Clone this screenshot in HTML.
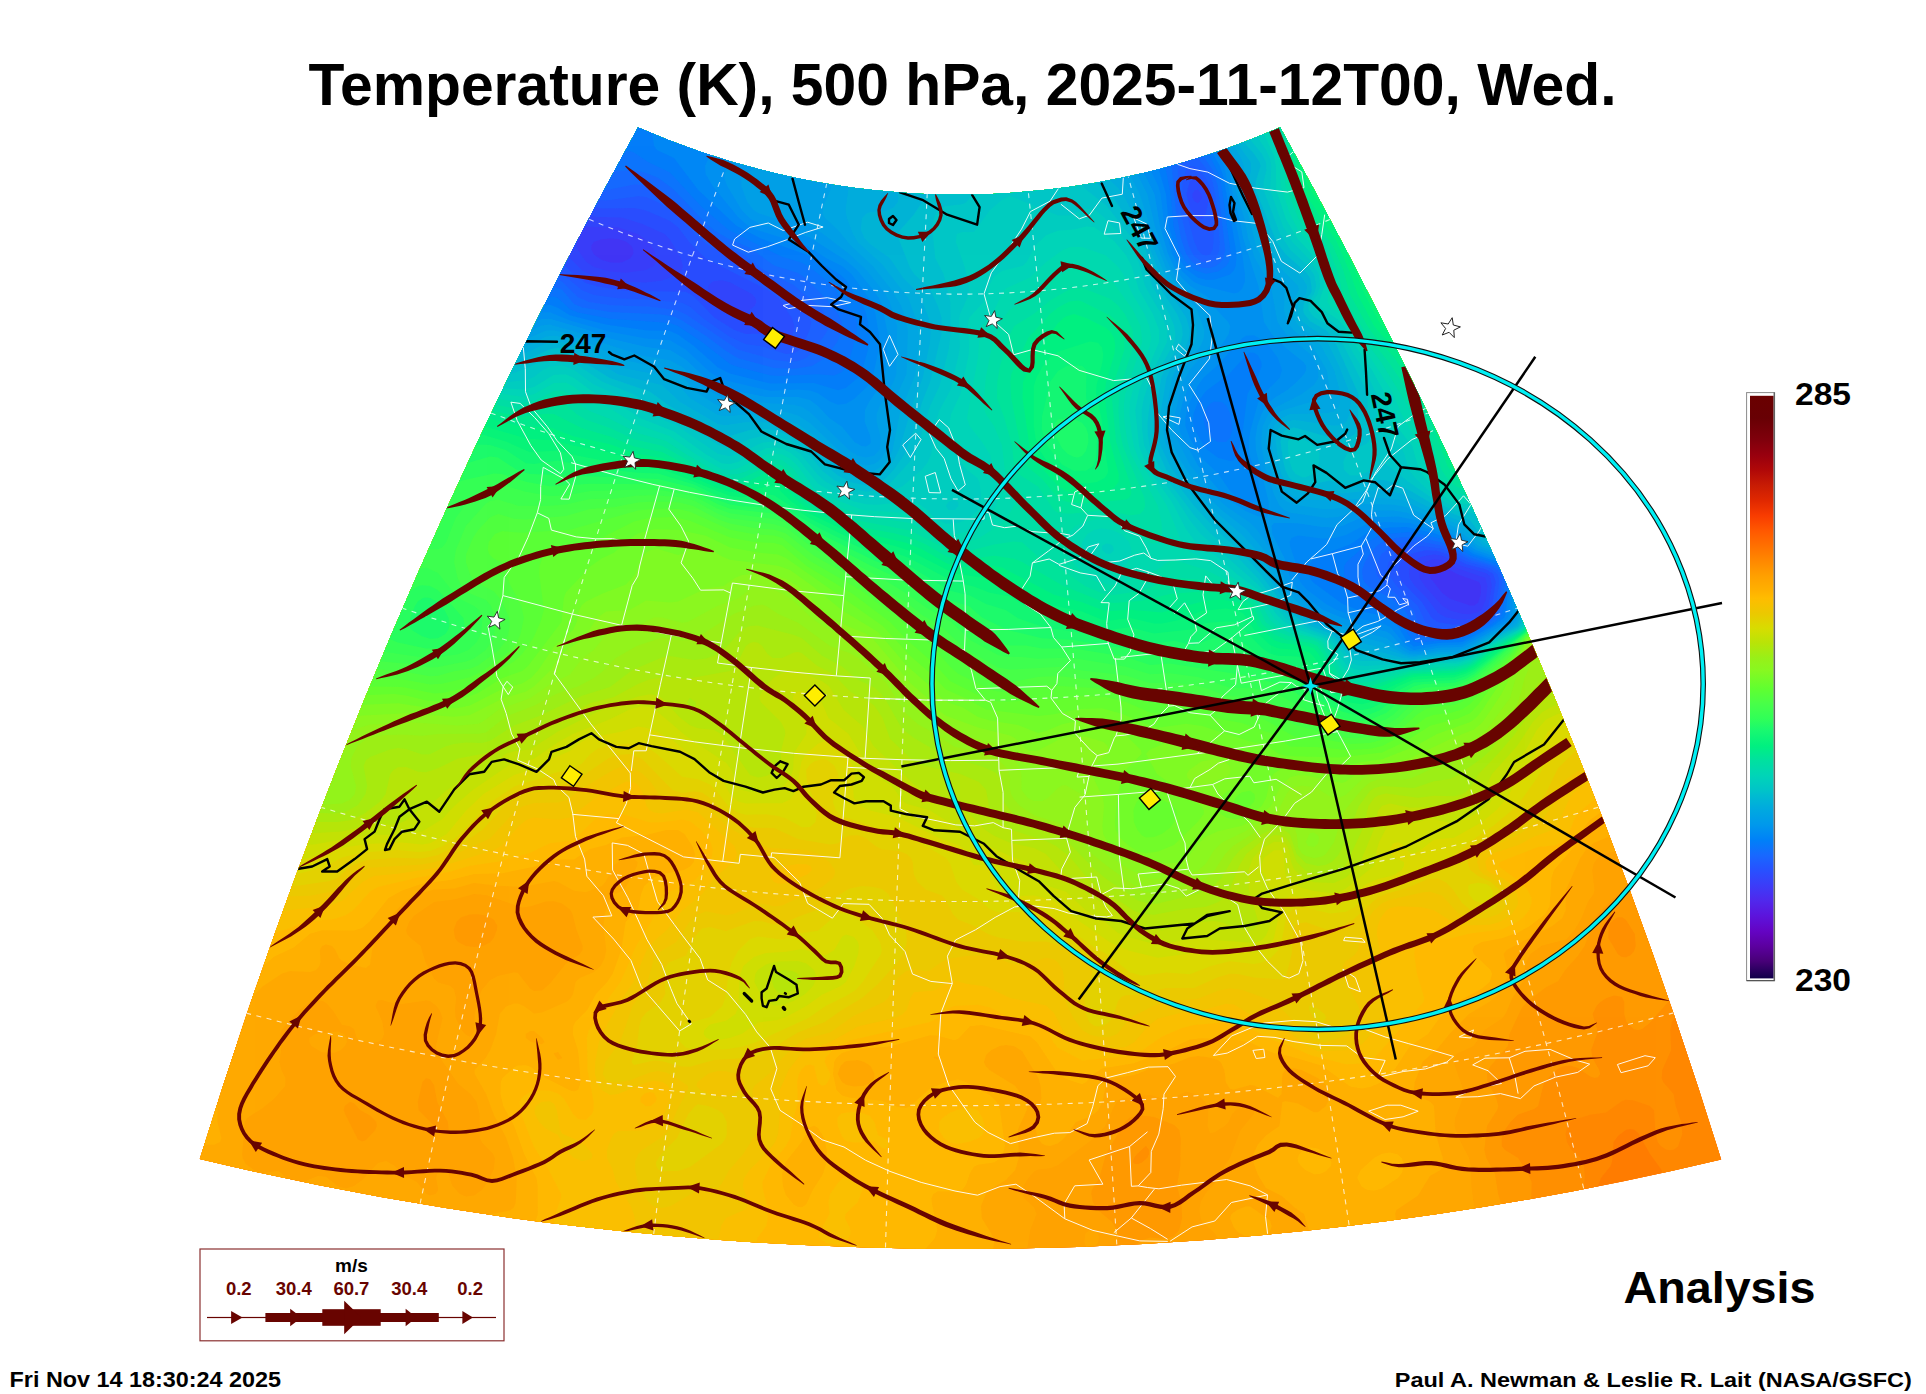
<!DOCTYPE html>
<html lang="en"><head><meta charset="utf-8"><title>Temperature (K), 500 hPa</title><style>html,body{margin:0;padding:0;background:#fff}body{width:1926px;height:1394px;overflow:hidden}</style></head><body>
<svg width="1926" height="1394" viewBox="0 0 1926 1394" style="display:block">
<defs>
<clipPath id="mapclip"><path d="M638.0,127.4 A799.6,799.6 0 0 0 1280.1,127.2 A5496.6,5496.6 0 0 1 1721.2,1159.4 A3271.0,3271.0 0 0 1 199.8,1159.1 A5496.6,5496.6 0 0 1 638.0,127.4Z"/></clipPath>
<linearGradient id="cbg" x1="0" y1="0" x2="0" y2="1"><stop offset="0.0003" stop-color="#6a0000"/><stop offset="0.0381" stop-color="#680004"/><stop offset="0.0759" stop-color="#80000c"/><stop offset="0.1016" stop-color="#98000e"/><stop offset="0.1274" stop-color="#b00808"/><stop offset="0.1540" stop-color="#c81c04"/><stop offset="0.1798" stop-color="#e02800"/><stop offset="0.2057" stop-color="#f83c00"/><stop offset="0.2316" stop-color="#ff5800"/><stop offset="0.2576" stop-color="#ff7000"/><stop offset="0.2833" stop-color="#ff8800"/><stop offset="0.3094" stop-color="#ffa000"/><stop offset="0.3334" stop-color="#ffb000"/><stop offset="0.3472" stop-color="#ffbc00"/><stop offset="0.3729" stop-color="#ecc800"/><stop offset="0.3987" stop-color="#d8dc00"/><stop offset="0.4245" stop-color="#b8e408"/><stop offset="0.4502" stop-color="#98f018"/><stop offset="0.4708" stop-color="#88f820"/><stop offset="0.5026" stop-color="#60ff30"/><stop offset="0.5285" stop-color="#48ff48"/><stop offset="0.5543" stop-color="#30ff58"/><stop offset="0.5750" stop-color="#18f870"/><stop offset="0.6010" stop-color="#00f080"/><stop offset="0.6267" stop-color="#00e0a0"/><stop offset="0.6526" stop-color="#00d4b8"/><stop offset="0.6769" stop-color="#00c4c8"/><stop offset="0.6854" stop-color="#00bcd0"/><stop offset="0.7112" stop-color="#00a8e0"/><stop offset="0.7370" stop-color="#0098ec"/><stop offset="0.7632" stop-color="#0080f8"/><stop offset="0.7890" stop-color="#1868ff"/><stop offset="0.8149" stop-color="#2850ff"/><stop offset="0.8408" stop-color="#3c3cf8"/><stop offset="0.8666" stop-color="#5028ec"/><stop offset="0.8925" stop-color="#5c14dc"/><stop offset="0.9184" stop-color="#6404c4"/><stop offset="0.9444" stop-color="#5c00a0"/><stop offset="0.9701" stop-color="#480078"/><stop offset="0.9962" stop-color="#180050"/><stop offset="1.0000" stop-color="#100048"/></linearGradient>
</defs>
<rect width="1926" height="1394" fill="#fff"/>
<g clip-path="url(#mapclip)">
<rect x="150" y="90" width="1640" height="1210" fill="#ff6a00"/>
<path fill="#ff7400" d="M154,90 1695.4,90 1702,100.4 1720.2,114 1733,130 1738.9,142 1741.9,162 1750,174.1 1756.5,190 1766.2,202 1782,215.9 1782,1290 150,1290 150,90Z"/>
<path fill="#ff7d00" d="M154,90 1678.5,90 1684.3,102 1690,108.8 1698,116.4 1718,130.9 1724.2,138 1727.7,146 1730.4,170 1738,190.6 1744.3,202 1750,208.5 1767.9,222 1782,236.1 1782,1061.3 1774.7,1070 1772.5,1078 1774,1084.7 1778.6,1094 1777.7,1110 1782,1117.2 1782,1155.1 1770,1160.5 1767.2,1166 1767,1170 1770.8,1182 1774,1185.4 1782,1189.8 1782,1290 150,1290 150,90Z"/>
<path fill="#ff8700" d="M154,90 1655.4,90 1664.2,102 1683.5,122 1694,139.1 1698,142.1 1710,146.1 1713.6,150 1723.1,190 1738,222.9 1750,239 1766.8,250 1782,271.1 1782,296.1 1779.1,306 1782,314.6 1782,1012.2 1778,1015.1 1772.8,1022 1767.6,1042 1754,1065.7 1750,1070 1734,1077.4 1723.6,1090 1721.2,1098 1724.2,1118 1719.4,1138 1719.7,1166 1718.4,1174 1703.5,1190 1696.2,1202 1691.4,1214 1690.7,1230 1686,1232.9 1674.6,1234 1672.1,1238 1673.9,1246 1682,1263.4 1686,1268.1 1690,1268.6 1702,1264.6 1710,1264 1726,1269.8 1730,1269.8 1736.1,1266 1746,1262.4 1754,1261.5 1762,1262.7 1768.1,1266 1771.8,1270 1776,1278 1778.9,1290 1737.7,1290 1734,1281.7 1730,1278.4 1726,1280.9 1722.9,1290 1651.2,1290 1648.9,1286 1643.4,1282 1634,1278.6 1630,1278.5 1626,1279.7 1622,1283 1619.3,1290 150,1290 150,90ZM1625.8,1130 1618,1135.9 1613.6,1142 1612.1,1162 1610.6,1166 1601,1178 1598.1,1186 1597.5,1194 1601,1206 1606,1209.9 1610,1210.1 1630,1205 1642,1185.6 1662.2,1174 1661.7,1170 1650,1154 1638,1132.8 1634,1129.8 1630,1128.9 1626,1129.9ZM1633.6,1214 1630,1215.4 1617.5,1226 1614,1230.3 1611.5,1238 1611.7,1242 1613.8,1246 1618,1247.7 1626,1247.2 1634,1243.8 1647.7,1234 1650.4,1230 1650.5,1226 1648.1,1222 1642,1216.5 1634,1213.8Z"/>
<path fill="#ff9000" d="M154,90 1633.8,90 1642,103.5 1662,117.8 1670,126.2 1674.1,134 1680,158 1684.8,166 1690,168.9 1702,170.6 1706,175.6 1709.7,190 1711.4,210 1721.7,242 1738,265.2 1757,278 1759.7,286 1757.7,302 1759.7,314 1766,323.4 1782,335 1782,939.9 1758,955.5 1738,977 1722,983.8 1710,1001.7 1706,1003.1 1698,1002.8 1690,1005.3 1678,1013.9 1671.9,1022 1670.3,1030 1671.2,1050 1662.3,1070 1661.7,1078 1663.1,1082 1673.6,1094 1675.7,1106 1681.2,1122 1682.3,1134 1678,1146.4 1674,1149.5 1670,1150.2 1666,1149.5 1660.7,1146 1657.7,1142 1655.4,1134 1654,1110 1650,1105.9 1634,1100.4 1626,1099.8 1622,1100.9 1606,1112.5 1590,1114.8 1574,1119.7 1570,1122 1567.3,1126 1565.6,1134 1566.9,1142 1571.5,1150 1580.3,1158 1584,1166 1584.7,1178 1583.5,1190 1575.5,1210 1576.7,1214 1587.9,1230 1590.3,1266 1599.7,1290 150,1290 150,90Z"/>
<path fill="#ff9a00" d="M154,90 1614.2,90 1618.7,102 1631.8,122 1638,127.4 1653.4,134 1657.3,138 1660.1,146 1662.8,162 1667.2,174 1672.3,182 1686.8,198 1693.2,218 1702.9,234 1708.1,250 1712.5,258 1722.4,270 1739.3,286 1742,293 1745.4,310 1754,329.4 1762,336.4 1782,347.5 1782,825.9 1774.6,834 1773.3,838 1774.6,842 1782,850.9 1782,863.8 1756.4,886 1751.5,894 1750.7,902 1752.2,906 1760.3,918 1763.7,926 1762.6,934 1759.5,938 1754,941.7 1746,942.8 1742,940.7 1730,925.2 1726,922.3 1722,921.9 1714,925.9 1705.5,934 1695.9,950 1695.8,966 1692.7,974 1650,1022.7 1642,1029.1 1638,1030.1 1634,1029.2 1626.5,1022 1624.3,1014 1624.3,1002 1622,996.9 1614,995.4 1606.6,998 1600.5,1002 1596.5,1006 1592.6,1014 1597.2,1030 1596.9,1034 1591.1,1050 1592.4,1058 1599.2,1070 1600.2,1074 1598,1077.2 1594,1077.8 1590,1076.3 1578,1067.9 1570,1065.4 1562,1066.4 1558,1068.6 1544.1,1082 1538,1106.2 1534,1109.1 1518,1114.5 1510.4,1122 1504.8,1130 1501.6,1138 1501.7,1146 1504.9,1150 1518,1158.1 1528.3,1174 1531.6,1182 1531.2,1198 1532.4,1202 1545.3,1218 1550,1240.7 1554,1250.4 1561.6,1262 1559.3,1270 1549.6,1282 1546.8,1290 150,1290 150,90ZM1616.4,918 1611,922 1608.7,926 1608.3,938 1618,954.3 1622,956.9 1626,957.3 1630,955.6 1634,951.2 1635.7,946 1634.8,934 1626,920 1622,917.2 1618,917.2ZM1145.8,1146 1137,1154 1134,1158 1132.9,1162 1134,1163.7 1138,1164.2 1142,1162.5 1147.2,1158 1149.1,1154 1149.2,1150 1146,1145.9Z"/>
<path fill="#ffa200" d="M154,90 1601.9,90 1604.4,106 1609.4,118 1648.6,174 1669.7,198 1675,206 1693.2,258 1702.1,278 1705.5,294 1707.7,298 1714,303.4 1726,307.6 1734,313.4 1746,339.2 1754,349 1774,357.2 1782,364.3 1782,774 1770,782.6 1762.8,790 1750,812.4 1733.7,822 1726,844 1708.7,858 1706.9,862 1707.3,866 1710,870 1721.4,878 1723.8,882 1722.9,886 1719.3,890 1706,896.9 1682,905 1678,904.3 1675.2,902 1671.3,894 1666,891.1 1657.7,894 1650,900.3 1630,893.8 1622,893.9 1614,897.9 1598,914.1 1593.6,922 1584.6,946 1578,955.7 1565.3,970 1558,981.3 1546,987.3 1526.9,1002 1522,1007.5 1509.5,1034 1507.9,1046 1490,1066.8 1487.1,1074 1487.5,1082 1496.2,1098 1498.2,1106 1497.2,1110 1487,1126 1484.4,1150 1486.3,1158 1495.1,1174 1498,1193.3 1506.5,1222 1506.5,1242 1510.9,1266 1506,1290 150,1290 150,90ZM460.5,918 456.6,922 453.7,930 455.1,938 458.1,942 466,946.1 474,947 482.6,946 490,942.5 493.7,938 496.8,930 497.3,926 494,919.7 486,915.5 478,914.2 470,914.5 462,917ZM422.5,1082 417.8,1102 418.7,1110 442,1133.8 446.5,1134 448.7,1130 447.8,1122 437.2,1102 434,1084.9 430,1079.2 426,1078.2ZM349.8,1102 344.7,1106 343.8,1110 345.2,1114 358,1139.6 362,1141.4 366,1140 375.3,1130 376.8,1126 376.3,1122 370,1115.4 360,1110 354,1103.3 350,1101.9ZM1129.3,1118 1125,1122 1106,1154 1099.4,1178 1091.8,1190 1091.3,1194 1092.9,1202 1097.8,1210 1112.2,1222 1116.9,1230 1118.2,1238 1114,1254 1114.9,1258 1118,1261.3 1122,1261.2 1126,1258.7 1134.4,1246 1142,1240.2 1150,1237.6 1166,1239 1174,1236 1179.2,1230 1182.1,1218 1181.2,1202 1176.9,1186 1180.3,1166 1180.6,1138 1179.3,1130 1174,1124.9 1154,1117.1 1142,1115.6 1130,1117.6Z"/>
<path fill="#ffa900" d="M154,90 1589.3,90 1590.1,114 1594,125.3 1612.7,154 1619.4,170 1638,184.5 1660.1,214 1667.2,238 1680.4,266 1689,294 1694.9,302 1702,308.6 1722,319.9 1726,323.4 1744.6,366 1750,374.8 1758,380 1774,385.3 1782,392.5 1782,712.8 1772.7,742 1767.2,750 1754.1,762 1749.9,778 1743.7,790 1738,795.3 1719.6,802 1706,816.4 1690.1,826 1684.9,834 1679.2,854 1674.3,862 1670,865.7 1658,870.1 1643.5,870 1640.7,866 1641.1,854 1639.6,850 1638,849.2 1626,849.6 1610,852.4 1602,854.9 1597.5,858 1594,863 1592.2,870 1594.4,890 1593.5,894 1587.8,902 1581.5,918 1574,930.7 1566,939.5 1542,945.5 1530.4,954 1525.9,962 1522.4,982 1512.3,998 1506,1012.9 1502.5,1018 1484.4,1030 1473.5,1046 1456,1054 1453.9,1058 1454,1063.7 1461.9,1086 1463.2,1094 1461.4,1102 1455,1118 1454.4,1126 1458,1136.7 1468.9,1158 1470.8,1166 1471.3,1186 1473.9,1206 1477.9,1214 1486,1222 1488.1,1226 1490.1,1234 1489.5,1246 1486,1255.6 1472.4,1266 1462,1280 1458,1280.7 1438,1275.8 1422,1276 1416.5,1278 1414,1281.4 1412.9,1290 1260,1290 1258,1287.6 1254,1286 1248.7,1290 1192.5,1290 1198,1283.6 1214,1277.1 1216.9,1270 1218.9,1250 1217.8,1238 1214,1232.3 1202.6,1222 1200.8,1218 1199.4,1210 1200.8,1202 1206,1193.1 1216.2,1182 1219.6,1174 1230,1158 1240.8,1130 1253.9,1114 1255,1110 1252.8,1106 1250,1105.1 1242,1106.8 1235.9,1110 1232.1,1114 1228.4,1122 1224.6,1126 1214,1132.5 1210,1132.9 1207.7,1126 1208.4,1110 1205.3,1102 1198,1094.8 1186,1091.5 1170,1099.5 1166,1099.4 1150,1094.8 1121.9,1098 1118,1100.4 1114.1,1106 1105,1126 1094,1138.1 1058,1164.9 1050,1168.2 1038,1169.5 1034,1171.4 1028.2,1178 1023.5,1186 1022,1194 1023.8,1198 1034,1207.6 1036.5,1214 1030.1,1230 1026.3,1254 1030.9,1262 1045.5,1278 1050.3,1290 269,1290 268.3,1286 266,1283.5 262,1282.4 258,1285.1 257,1290 150,1290 150,90ZM474,894 454,899.4 434,902.1 414,915.8 409.1,922 406.1,930 407,934 410,937.4 420.6,946 425.4,962 434,978.7 438,982.6 450,985.8 454,989.2 456.1,998 454.9,1010 455.7,1018 462,1030.7 466,1035.1 470,1036.7 474,1032 474.8,1014 478.4,998 482,989.8 490,980.3 498,976.1 514,972.3 518,972.9 530,988.5 534,990.9 542,990.5 550,983.4 566,963.4 580,954 582.4,950 582.7,946 576.5,930 572.5,914 570,909.6 562,903.4 554,901.2 546,901.5 530,906.5 522,907.5 486,895.1 474,894ZM310.1,1002 299.1,1010 281.4,1030 280.3,1034 281.1,1050 279.5,1062 281.3,1070 285.4,1078 285.2,1086 274,1098.7 262,1108.4 247,1118 244.8,1122 242.2,1154 242.6,1158 246,1164.2 254,1170.1 262,1173 278,1171.1 282,1173.6 286,1178.7 294,1182.5 302,1182.2 318,1176.1 326,1176.7 338,1186.5 346,1188.6 354,1185.9 362,1180.2 378,1163.1 386,1160.9 394,1165.5 406,1176.4 416.9,1182 426,1193.7 430,1195.6 435.7,1194 438.3,1190 436.2,1178 437.2,1174 442,1171.9 446,1172.1 448.5,1174 452.4,1186 459.8,1194 466,1196.4 474,1195.6 482,1190.1 487.6,1182 494,1168.7 494.9,1158 493.3,1154 482,1142.5 479.8,1138 479.7,1114 476.7,1102 470.6,1094 458,1083.5 437.4,1054 435.9,1046 442.7,1018 439.6,1010 436.4,1006 430,1001.1 426,1000.6 402,1004 394,1003.6 382,1000 378,1000.6 375.4,1006 382.4,1022 384.1,1034 382,1039.2 378,1041.9 370,1042.6 362,1040.9 356.8,1038 354,1029.1 350,1026.2 342,1024.8 332.6,1010 326,1002.8 322,1000.8 314,1000.5ZM318,1033.6 338,1031.5 343.8,1034 346.5,1038 346.8,1042 344.9,1046 341,1050 334,1052.8 322,1052.2 311.5,1046 309.3,1042 309.4,1038 315.5,1034ZM1086,1233 1090,1230.4 1094,1230.7 1098,1233.7 1099,1238 1098,1242.6 1094,1248.1 1090,1249.8 1086,1246.8 1084.4,1242 1085.3,1234Z"/>
<path fill="#ffb000" d="M154,90 1568.1,90 1578.2,122 1600.7,158 1606,185.4 1624.5,222 1642,242.9 1666,265.6 1670.7,274 1677,294 1681.9,302 1704.8,322 1711.7,330 1717.3,342 1725,354 1734,379.6 1738.6,386 1757,402 1763.2,418 1775.2,438 1776.8,470 1782,486.1 1782,692.3 1763.9,710 1755.6,734 1740.3,750 1734.9,770 1730,778.2 1724.5,782 1690,797.9 1670,802.3 1654,809.8 1646,810.4 1630,807.2 1622.7,810 1620.2,814 1618.4,830 1615.5,834 1594,842.8 1586,849.7 1580.3,858 1565.8,890 1565.7,910 1562.3,918 1552.2,926 1506.6,950 1503.6,954 1507.5,970 1506.8,978 1498,994.2 1490,1001.5 1468.9,1014 1450,1033.2 1438,1048.1 1422.4,1062 1414.8,1082 1413.7,1090 1415.2,1094 1418,1096.4 1430,1101.6 1434,1106 1435.6,1134 1442.7,1158 1442.9,1166 1440.6,1170 1430,1175.7 1418,1195.5 1396.3,1210 1395.1,1214 1396.9,1226 1394.8,1230 1390,1230.4 1378,1227.4 1362,1231.5 1354,1235.5 1340.5,1250 1336.5,1258 1345,1278 1342.6,1290 1292.2,1290 1291.7,1282 1294.9,1274 1314.2,1262 1318,1258.2 1319.5,1254 1318.6,1250 1310.1,1234 1304.1,1214 1294,1207.1 1282,1196.1 1266,1188.1 1258,1174.9 1253.3,1162 1253.4,1154 1258,1144.6 1266,1135.4 1279.5,1126 1282.4,1102 1286,1101.3 1298,1103.6 1314,1112.3 1318,1112.3 1326,1106 1329.7,1098 1329,1090 1326,1085 1318,1078.1 1301.8,1070 1294,1068.2 1286,1069.1 1282.3,1074 1281.5,1094 1278,1097.7 1254,1085.2 1250,1085.1 1234,1089.6 1230,1088.7 1226,1082.5 1224.4,1070 1220.7,1062 1218,1059.9 1210,1057.5 1198,1056 1190,1056.9 1174,1063.6 1150,1068.7 1134,1074.9 1110,1078.7 1106,1084 1102.3,1102 1098,1110.7 1090,1116.6 1076,1122 1064.2,1138 1058,1143.2 1050,1146 1046,1145.6 1042,1143.4 1038,1138.3 1035.8,1130 1036.4,1118 1041.4,1098 1040.7,1086 1038.5,1078 1022,1050.9 1014,1046.1 1006,1045 999.7,1046 991.5,1050 986,1055 983.9,1062 985.5,1066 989.3,1070 1015.3,1086 1023.6,1098 1026.7,1106 1026.7,1110 1018,1129.3 1018.7,1158 1015.2,1170 1006,1179.8 990,1189.7 986,1193.6 980.9,1206 981.7,1218 991.5,1234 994,1242 992.5,1254 985.9,1278 984.6,1290 306.3,1290 307.2,1274 334,1241.1 340.7,1222 345.7,1218 362,1212.6 378,1202.6 382,1201.4 390,1202 422,1218.6 430,1221 450,1216.6 474,1220.7 490,1214.6 510,1210.6 514,1207.6 515.8,1202 516.8,1178 513.2,1158 506,1137.2 494,1115.3 486.2,1094 474.8,1074 474.6,1070 486,1057.4 490.3,1050 496.2,1034 499.8,1014 506,1006.6 514,1003.4 518,1003.5 523.9,1006 534,1013.6 542,1012.5 566,1002 570,999.1 573.1,994 575.5,982 579.8,978 594,971.9 600.6,966 604.6,958 606.3,950 603.4,926 604.8,914 610.4,898 614,894.4 622,890.9 626,886.9 637.1,866 637.6,862 634,858.9 630,858 622,859.6 614,865.2 605.4,882 602,886 586,892.2 574,890.8 558,882 554,881 522,886.8 498,885.8 474,883.1 454,888.5 434,889.4 422,893.1 404.2,902 394,912.7 375.3,942 372.1,950 370,964.6 366,967.9 350,964.2 342,960.7 339.1,958 335.5,950 332.1,946 326,944.6 322,946 319.9,950 320.5,962 319.4,966 315.9,970 310,971.9 290,971.1 282,973.6 263.2,986 254.8,994 249.5,1002 245.1,1018 233.4,1038 233.9,1050 222,1061.6 218,1068.7 215.5,1078 214.5,1090 217.5,1106 217.4,1122 221.5,1138 220.1,1142 214,1144.8 198,1144.5 170,1147.5 162,1151 150,1161.4 150,90ZM525.7,1034 525.9,1038 531,1042 542,1044.3 544.6,1042 542,1037.7 534,1031.1 530,1030.9 526,1033.7ZM553.9,1054 558,1060.1 562.3,1058 558,1051.9 554,1052.9ZM933.7,1058 938,1059.7 938.8,1058 934,1056.3ZM844.3,1062 840.5,1066 837.6,1074 842,1082.1 846,1084.7 854,1086.4 863,1086 870,1083.6 874,1078.9 874.6,1074 870.6,1066 864.5,1062 858,1060.1 846,1060.9ZM948.3,1270 945.2,1274 945,1282 950,1289.9 954,1288 958,1277.5 957.2,1274 954,1270.2 950,1269.2ZM174,1173.8 182,1174.3 189.5,1178 192.3,1182 192.5,1186 186.5,1194 178,1200.4 170,1203.6 166,1202.3 162,1197.7 158.9,1190 158.2,1182 162,1177.2 172.8,1174ZM1238,1209.5 1246,1206.5 1250,1206.5 1270,1220.2 1271.6,1226 1270.4,1230 1266,1235.6 1262,1238.4 1258,1239 1246,1236.4 1238,1232 1234,1227.6 1230.1,1218 1231.6,1214 1237.1,1210ZM154,1223.6 170,1224.5 178,1226.3 203.2,1238 208.1,1242 208.8,1246 206.8,1250 202.4,1254 198,1255.5 194,1254.8 182,1248.2 174,1246.7 166,1248 150,1254.3 150,1222.7ZM1022,1281 1026,1281.2 1030,1283.9 1033.5,1290 1014.4,1290 1015.9,1286 1019.7,1282ZM198,1284.4 202,1283.5 206,1286 208.2,1290 194.1,1290 196.5,1286Z"/>
<path fill="#ffb900" d="M154,90 1547.3,90 1551.4,102 1566,132.6 1578,146.7 1589.9,166 1599.9,210 1604.7,222 1634.2,254 1658,276.3 1662.3,282 1670.5,302 1693.5,326 1696.9,334 1698.7,346 1702,354.9 1717.8,374 1726.5,394 1742,406.1 1751.9,426 1763.6,442 1765.5,450 1765.7,470 1774.1,494 1776.4,506 1770.4,554 1771.8,562 1778.8,578 1779.3,590 1777.1,610 1777,626 1769.5,650 1767.7,674 1761,686 1750,694.5 1743.6,702 1738.3,718 1725.8,738 1722,756.2 1718,763.9 1710,770.1 1668.4,786 1650,795.9 1642,796.3 1626,794.2 1618,796.3 1610.4,802 1602,811.2 1590,819.9 1585,826 1580,838 1574.9,846 1553.9,870 1551.5,878 1549.6,906 1545.2,914 1529.8,926 1518,932.5 1502,938.3 1481.8,942 1474.3,946 1472.5,950 1473.7,954 1490.6,970 1492.1,974 1489.7,982 1482,988.5 1462,999.4 1439.5,1018 1428,1034 1410,1046.1 1390,1076.4 1382.2,1082 1370,1087.1 1362,1088.5 1350,1086.6 1322,1065.7 1290,1056.3 1274,1053.3 1250,1042.6 1238,1040.3 1202,1038.2 1190,1039.5 1168.1,1050 1134,1063.2 1102,1068.4 1093.5,1074 1086,1082.3 1082,1084.3 1066,1079.1 1058,1073.8 1036.7,1042 1030,1036.3 982,1025 970,1026.3 958,1039 954,1040.2 938,1035.8 930,1035.3 890,1046.5 854,1049.2 842,1052.9 836.2,1058 834.2,1062 833.1,1074 836.5,1090 842,1095.6 850,1097.7 882,1100.8 898,1107.1 906,1108 910.4,1106 930,1088.4 945.5,1082 958,1079.6 966,1081.9 990,1095.2 996.8,1102 1000,1110 1005,1146 1002,1157.2 994,1162.5 978,1164.7 974,1166.7 970,1172.9 966,1185 962,1189.9 954,1191.7 938,1191.3 933.4,1194 931.6,1198 931.7,1202 937.3,1230 935,1238 924.5,1250 918,1260.9 914,1261.5 906,1256.4 902,1256.9 894,1263.6 888.2,1274 885.8,1290 842.1,1290 838,1286.3 834,1286.6 831.4,1290 784.9,1290 784.4,1278 782,1274.4 778,1273.7 772.6,1278 770,1283.3 769.1,1290 428.4,1290 431.5,1278 432.9,1262 434.6,1258 438,1255.1 442,1254.3 458,1256.5 470,1253.2 490,1250.5 530,1227.4 535.4,1222 537.8,1214 537.7,1186 536.5,1178 524.3,1154 514.2,1126 503.3,1106 500.5,1094 500.8,1082 502.5,1078 514,1067.5 518,1065.6 526,1065.2 530,1066.6 545.7,1078 570,1090.4 574,1091.5 578.2,1090 580.6,1082 579,1058 577.9,1050 572.9,1034 573.4,1026 575.4,1022 587.2,1010 596,994 607.2,982 612.6,974 621.3,950 625.6,922 638,908.9 641.1,894 644.2,886 654,877.6 666,873.5 683.9,870 690,866.5 693.8,862 695,854 692.3,846 684.5,834 678,830.1 666,830 646,835.1 622,837.6 606,845.1 590,849.1 574,859.6 554,859.2 534,866.8 502,873.3 474,873.9 450,880.1 422,883.8 402,890.4 388.6,898 370,921 362,928.1 354,930.6 322,930.2 310,933.7 294,947.3 274,956.8 250,977 234,984.6 230,988.3 221.2,1006 215.3,1022 205.3,1038 196.4,1070 190.6,1082 178,1097.4 158,1105.8 150,1112.7 150,90ZM813,1126 810,1127.3 801.5,1142 785.7,1162 782.1,1174 782.9,1186 786,1195.2 794,1204.7 798,1206.9 802,1207.2 806,1204.6 812.8,1190 823,1174 826.6,1162 826.8,1150 824.1,1138 818,1128 814,1125.6ZM1306,1148.6 1310,1147.4 1318,1148.4 1326.8,1154 1331.4,1162 1330.9,1166 1326,1171.3 1319.8,1174 1314,1174.2 1306,1170.5 1301,1166 1298.3,1162 1297.6,1158 1299.4,1154 1303.6,1150ZM1382,1153.8 1390,1152.4 1398,1154.5 1402,1158.6 1404,1166 1402,1172.8 1398,1178 1382,1188.5 1374,1190.8 1366,1189.5 1361.1,1186 1357.1,1178 1360.8,1170 1374,1158.1 1381.6,1154Z"/>
<path fill="#fabf00" d="M154,90 1531.9,90 1546.3,118 1553.7,150 1558,155.6 1570.1,166 1582,188 1585.5,198 1589,218 1594,229.3 1602,239.4 1630,266.3 1642,283.5 1654,293.7 1666,312.7 1682,327.9 1685.2,334 1691.1,358 1698,370 1708.3,382 1715.8,402 1719.3,406 1734,416.4 1742,434.3 1752.5,450 1754.4,458 1755.3,474 1764.1,494 1766.7,506 1759.3,558 1760.7,574 1759.5,590 1763.4,606 1764,618 1759.8,630 1746.4,650 1740,670 1725.2,690 1723.8,698 1725.2,710 1722,720.6 1706,737.1 1682,747.8 1678,753.8 1675.5,762 1667.8,770 1646,781.2 1618,783.4 1606,789.1 1578,813.4 1574,819.7 1568.7,834 1562,842.6 1554,845.6 1538,847 1499.9,862 1498.6,866 1520.1,882 1527.7,890 1531.5,898 1531.7,902 1529.3,910 1522.8,918 1518,921.6 1502,929.4 1470,933.6 1450,938.5 1438,938.9 1426,944.8 1418,943.3 1415.1,946 1414.3,954 1417,974 1424.3,998 1423.6,1002 1374,1058.7 1362,1063.6 1346,1064.2 1310,1055.1 1290,1046 1274,1040.5 1254,1030.6 1230,1023.1 1222,1022.4 1194,1024.9 1182,1028.1 1162,1036.4 1142.8,1050 1130,1055.7 1082,1060.6 1058,1047.7 1053.1,1042 1046.1,1026 1042,1021.3 1034,1019.2 1022,1020.6 1014,1019.8 990,1007.5 978,1004.8 954,1005.9 946.5,1010 938.5,1018 929.6,1022 850,1040.6 832.5,1050 825.4,1058 824.6,1062 830.3,1074 829.9,1078 826,1084.7 822,1085.8 818,1082.8 814,1065.8 810,1064.4 806,1065.5 802,1068.8 798.8,1074 797.1,1082 798,1102 793.5,1118 790.2,1138 785.9,1146 770.1,1166 762.4,1182 763,1190 767.2,1206 767.9,1218 766.2,1226 757.3,1238 754.7,1254 751,1266 753,1290 522.7,1290 526.5,1274 536.1,1254 542,1246 550,1239.7 552.9,1234 555.4,1214 561.1,1198 561.1,1194 548.8,1170 534,1147 521.1,1114 519.6,1102 522,1097.5 530,1092 538,1090.3 550,1090.7 558,1093.6 563.6,1098 573,1114 578,1119 586,1119.9 592,1114 593.5,1110 593.7,1102 587.5,1070 586.9,1038 588.9,1030 600.2,1014 608.7,998 620.4,982 636.1,946 651.1,922 661.8,898 670,891.4 686,885.8 694,880.9 704.5,870 711.6,858 712.8,850 710.5,842 700.8,830 690,821.3 682,819.6 662,822.3 650,822.4 622,814.1 606,814.6 594,820.3 578,835.7 570,840.9 550,843.2 530,853.1 498,861.8 470,865.7 450,871.8 415.8,878 378,887.1 370,891.6 354,909.5 346,915 334,918.9 304.5,922 286,929.4 270,933.6 264.3,938 254,951.4 246,957.1 238,958.1 226,954.6 218,956.5 213,962 206.3,978 190,987.8 184.9,994 181.1,1002 178.8,1010 178.8,1018 185.6,1034 185.9,1042 175.5,1062 170.4,1078 164.9,1082 150,1084.5 150,90ZM643.8,1094 640.5,1098 640.6,1102 646,1106.2 650.7,1106 655.6,1102 656.6,1098 654,1093.1 650,1092 646,1092.9ZM958,1109.7 966,1108 974,1108.6 978,1110.7 982.5,1118 984.5,1126 983.1,1134 978.7,1138 970,1141.5 958,1143.9 950,1142.4 943.8,1138 939,1130 939.2,1122 942.3,1118 950,1112.7 957,1110ZM842,1113.3 858,1111.2 870,1115.9 874.5,1122 878,1135.2 886,1139.1 888.3,1142 888.1,1146 886,1148.4 882,1147.9 874,1141.4 854,1142.5 846,1141 842,1136.3 837.8,1126 837.4,1118 840.6,1114ZM846,1176.2 854,1176.4 858,1178.5 861,1182 862.5,1190 857.7,1202 845.6,1214 844.9,1218 850,1228.2 850.6,1234 846,1242.5 838,1245 826,1243 819.3,1238 818.9,1234 829.4,1214 828.6,1202 830.1,1194 838,1182.7 843,1178Z"/>
<path fill="#f2c400" d="M154,90 1512.8,90 1518,102.6 1533.4,122 1536.2,130 1540.6,154 1543.5,162 1562.1,194 1573.9,210 1585.6,238 1594.6,250 1620.4,274 1632.1,294 1649.9,310 1662,326.1 1674,339 1690,374 1699.1,390 1705.5,406 1726,429 1740.3,458 1744.8,482 1753.6,502 1755.3,514 1753.9,534 1742.4,590 1743,598 1748,614 1747.6,622 1743.7,630 1726,654 1711.7,682 1693.5,702 1691.9,706 1692.5,718 1690.3,722 1685.3,726 1670,733.2 1664.2,738 1658.9,746 1654.2,758 1646,766.3 1634,770.2 1618,768.8 1610,770 1576.5,790 1570,797.5 1558,823.8 1552.1,830 1534,836.8 1518,845.2 1494,853.1 1487.4,858 1485.3,862 1487,870 1490,872.8 1502,877.8 1508.2,882 1512.2,886 1517,894 1518.1,902 1517.3,906 1511.8,914 1506,918.4 1498,922.6 1490,924.7 1462,925.4 1454,923.1 1434,910.3 1422,907.2 1398,906.2 1390,908.2 1386,910.7 1380.7,918 1377.7,926 1376.8,934 1381.2,958 1379.6,966 1373,978 1372.7,982 1382,998 1381,1014 1379,1022 1375,1030 1362,1044.3 1350,1050 1318,1051.2 1307.2,1046 1290,1032.9 1274,1023.2 1250,1014.6 1234,1004.6 1226,1003.7 1206,1009.5 1178,1013.4 1158,1018.8 1148,1026 1134.8,1042 1126,1047 1114,1048.5 1094,1047.3 1082,1043.9 1066,1034.3 1062,1029.1 1054,1013 1046,1005.6 1010,998 986,986.5 966,983.7 954,980.3 950,980.9 934,990.6 914,992.3 910.4,998 906.8,1010 902,1014.7 894,1018.3 858,1026.6 830,1042.2 807.9,1050 798,1058 788.7,1070 779.8,1090 779.8,1114 778.1,1134 775.4,1142 769.3,1150 749.7,1170 744.2,1178 742.7,1186 748.2,1202 747.7,1206 744,1210 726,1218 721.1,1226 719,1238 714,1243 706,1243.4 694,1237.4 690,1236.9 682,1240.5 672.2,1250 666.1,1270 662.6,1274 643.9,1282 639,1286 636.5,1290 580.2,1290 577.7,1274 578.1,1254 575.8,1234 578,1229.2 582,1226.6 586,1226.1 594,1228.7 610,1238.3 618,1239.9 626,1237.6 633.6,1230 635.5,1222 633.7,1214 630,1204.7 615.9,1182 612.8,1170 607,1158 606.9,1150 611.3,1138 614,1133.7 618,1131 642,1130.4 650,1127.9 658,1123.1 662.1,1118 669.3,1102 671,1094 670.4,1090 668.1,1086 662.7,1082 654,1080.7 646,1082.7 618,1094.1 610,1094.9 602,1090.2 598,1084.5 594.9,1074 595.2,1062 598.9,1042 601.9,1034 619.8,1002 633.4,982 646.6,950 654,941.3 666.7,930 682,910.7 702,894 714,878.3 733.2,862 735.9,858 736.9,854 734.3,846 698,812.3 686,809.5 662,813.5 654,812.4 649.2,810 646.4,806 643.3,794 638.7,786 634,782.4 626,781.5 594,798.9 570,817.5 558,819.7 534,817.5 526,820.3 518.9,826 502,845.5 494,850.1 438,867.5 398,873.8 374,875.9 362.5,882 342,900.7 330,906.1 294,909.5 262,915.7 254,920.4 238,933.2 222,937.1 214,940.9 190,962.1 174,967.1 168.8,970 162.5,978 156.7,994 150,1004.3 150,90ZM785.3,866 774,870.7 770.8,874 770.8,878 774,881.9 778,883.5 786,883.5 808,874 811.9,870 810.6,866 806,864.2 798,863.9 786,865.8ZM542,1101.7 550,1101.3 554,1103.7 556.8,1110 560.3,1130 562,1133.4 578,1140.7 585.9,1146 592.3,1154 592.1,1158 590,1159.6 582,1160.9 574,1158 565.7,1150 558,1134.9 546,1128.7 539.1,1122 534.8,1114 534.4,1110 535.8,1106 541.1,1102Z"/>
<path fill="#ebc900" d="M154,90 1503.3,90 1507.8,110 1525.4,142 1537.5,178 1551.7,202 1563.4,218 1570.4,242 1583.3,258 1600.1,270 1608.6,278 1625.1,302 1643.9,318 1658,337.8 1670,351.8 1678.4,366 1696.7,410 1714,430.2 1723.8,446 1732.7,470 1734,492 1742.6,518 1742.8,534 1733.3,586 1732.1,622 1728.3,630 1711.1,650 1698.6,678 1670.8,706 1638,752.3 1630,754 1614,749.9 1606,751.3 1600.2,754 1586,765.9 1566,779.3 1562,785.2 1552.5,806 1543.5,818 1518,835.1 1490,847 1480.4,854 1476.9,862 1479.6,870 1483.4,874 1502,884.4 1508.4,894 1508.5,902 1506.8,906 1498.9,914 1486,918.6 1466,917.2 1458,912.9 1442,895.6 1430,891.7 1422,892.4 1390,899.7 1382,903.3 1374.5,910 1365.3,922 1361.2,930 1358,950.2 1354,955.6 1345,962 1342.7,966 1343.4,974 1346,982 1358.2,1006 1361.9,1018 1360.3,1026 1354,1032.8 1326.9,1042 1318,1042 1310,1036.9 1282,1009.5 1270,1000 1242.4,990 1230,988.3 1218,990.8 1198,998.7 1170,1001.1 1154,1005.6 1130,1018 1117.1,1034 1110,1036.7 1098,1036.8 1090,1034.7 1082.3,1030 1073.2,1018 1063.8,998 1064,978 1062.5,970 1058,962.5 1054,959.5 1046,957.7 1026,964 1018,964.5 1010,963.2 997.2,958 986,955.6 966,956.1 950,958.6 941.4,962 930,970.4 926,971.2 914,969.2 906,971.2 897.5,978 888.2,998 883.9,1002 854,1015.7 830,1032.5 806,1038.8 795.1,1046 782.4,1058 770,1073.1 754.4,1086 752.5,1090 752.7,1098 759.8,1118 758.2,1130 743.3,1154 729.2,1170 722,1183.3 718,1188.1 714,1190.4 710,1190.6 702,1187.4 670.7,1206 662,1208 652.9,1206 645.1,1198 637.6,1182 635.2,1170 635.1,1162 638,1154.2 642.2,1150 662,1137.1 669.1,1130 677.1,1110 687.8,1090 688,1086 674,1076 666,1072.5 658,1071.1 650,1072.4 630,1080.3 618,1082.4 610,1082.1 606,1079.9 602.7,1074 605.3,1062 620.1,1042 632.5,1006 646.5,986 654,958 658,953 676.3,942 690,921.2 698,914.4 706,911.2 726,915.2 734,913.8 758,903.7 762,903.4 774,906.3 782,905.4 822,887 833,878 834.9,874 834.9,870 829.3,862 818,853.5 806,850.1 770,848 762,846 730,828.3 702,803.5 694,801 670,801.5 662,798.9 650.7,782 642,773.3 630,766.4 622,766.3 614,769.5 586.3,786 566,800.1 558,802.4 534,803.1 522,806.7 512.5,814 490,838.6 446.7,858 434,862.3 422,864.5 370,867.8 358,873.5 342,887.5 334,891.3 310,895.8 282,896.5 266,900.8 250,907.6 230,921.1 190.8,934 182,942.2 166,951 150,963.5 150,90ZM707.8,1074 697.6,1082 696.4,1086 700.5,1090 710,1094.8 718,1096.5 726,1096.5 734,1094.4 743.9,1086 744.4,1082 742.2,1078 737,1074 726,1071.2 718,1071.1 710,1073Z"/>
<path fill="#e3d100" d="M154,90 1494.9,90 1497.8,114 1502,131.4 1508.6,146 1521.6,166 1532,194 1537.7,214 1550,226.5 1559,246 1574,264.8 1593.4,282 1614.9,306 1634,320.4 1642,329 1654,347.1 1670,367.1 1674,375.1 1678.8,394 1684.1,406 1691.6,418 1708.5,438 1717.3,454 1724,474 1724.9,494 1730.7,514 1732.3,530 1728.8,566 1721.6,606 1717.3,622 1712.1,630 1690.1,654 1686.8,662 1684.9,674 1680.9,682 1651.9,710 1638,729.8 1630,734.5 1614,736.7 1586,743.4 1580.2,746 1558,768.3 1545.4,794 1531.7,810 1511.7,826 1478,846 1470.2,854 1467.5,862 1470.2,870 1478,876.1 1490.9,882 1499.5,890 1501.1,898 1498,904.8 1494,908.4 1482,911.9 1470,909.5 1462,903.1 1453.3,890 1446,882.5 1438,878.6 1426,879.8 1406,888.6 1386,893.7 1378,897.2 1354,919 1338,929 1326,929.5 1306,922.2 1298,923.5 1295,926 1293.5,930 1291.7,954 1286,976.4 1282,979.5 1254,977.5 1238,973.9 1230,973.8 1218,977.2 1194,988 1166,987.9 1142,994.4 1126,995.2 1122,996.5 1118,1001 1113.9,1014 1109.6,1022 1103.4,1026 1098,1026.6 1094,1025.7 1089.1,1022 1084.6,1010 1084.6,994 1092,974 1091.9,970 1089.4,966 1066,948.8 1058,944.8 1046,941.4 1022,941.4 998,937.4 988.1,934 974,926.1 958,919.6 952.8,914 946,900.2 942,895.4 926,889.7 917.5,882 913.7,874 912.7,862 910.9,858 906.6,854 898,850.7 882,849.4 875.4,846 865.6,838 858,835.2 850,835.4 843.9,838 838,843.3 830,844.5 798,838.9 774,828.1 754,827.7 742,824.7 729.4,818 710,797.9 702,792.4 694,791.4 682,793 672.5,790 642,758.8 630,754.1 618,755.1 608.8,758 582,776.5 554,788.9 526,793.5 518,796.6 504.3,806 482,830.2 464.2,842 438,854.9 422,858.5 394,857.8 366,860.3 351.3,866 338,877.6 330,881 298,885.7 274,885.4 254,892.2 230,895.2 214,903.5 198,906.5 174,914.8 150,914.9 150,90ZM850,888.4 862,886.1 874,886.9 882,888.9 888.4,894 906.1,930 906.8,942 903.3,954 897.8,962 878,983.9 862.1,998 841.8,1010 824.9,1022 798,1032.5 762,1054.2 750,1057.7 714,1059.9 690,1066.7 682,1066.5 662,1061.3 654,1060.6 634,1065.1 631.6,1062 637.1,1046 639.3,1026 641.8,1018 646,1012.7 660.7,1002 665.3,994 664.5,974 665.8,966 670,962.1 686,955.4 694,937.6 702,928.6 710,927.1 726,930.9 754,921 762,921.3 774,924.5 782,924.3 798,916.7 818,909.5 846.6,890ZM1310,1005.5 1318,1008.9 1324.5,1014 1326.4,1018 1322.6,1022 1318,1021.4 1313.7,1018 1309.1,1010 1309.1,1006ZM698,1104.3 708,1106 717.9,1110 723.1,1114 726.7,1122 726.8,1134 725.8,1138 722,1143.6 690,1167.1 678,1170.9 662,1171.1 658,1169.2 656.2,1166 656.1,1162 661,1154 677.1,1138 688.3,1114 695.1,1106Z"/>
<path fill="#dbd900" d="M154,90 1485.7,90 1488,122 1491.5,138 1498,154.9 1514,179.1 1526.5,218 1540.6,234 1554,256 1590.8,302 1604.3,314 1630,329.8 1637.2,338 1664.1,378 1671.1,402 1701.8,446 1710,461.6 1715.6,478 1716.9,494 1721.5,514 1722.5,526 1719.7,566 1709.9,606 1700.6,622 1675.5,650 1672.2,658 1671.2,678 1662,689.9 1645.9,702 1630,717 1614,722 1599.3,730 1574,733.7 1562,740.3 1552.7,750 1538,776.5 1517.1,806 1493.1,826 1469.5,842 1450,858.8 1434,863.4 1402.4,882 1374,890.3 1366,895.9 1354,907.6 1346,911.8 1330,913.4 1306,907.8 1298,907.5 1294,908.8 1290,911.9 1286,918.3 1281.4,942 1278.4,950 1270.7,958 1262,962.4 1254,963.9 1230,961.3 1210.8,966 1190,974.2 1166,972.6 1142,975.7 1130,972.6 1110,956.3 1092.4,946 1074,932.8 1042,916.4 1034,914 1018,912.1 998,912.3 990,909.3 978,899 962,889.5 956.3,882 950,863.4 946,858 925.8,846 894,831.1 878,828.3 842,816.1 835.7,810 832.9,802 838.5,782 838.3,774 834,765.2 826,759.3 822,759 814,761.5 810,764.5 806.1,770 806.9,782 814.8,802 816.6,814 815.5,822 810,827.1 802,827.2 786,818.5 778,816 766,814.3 746,814.8 738,812.7 728.2,806 715.8,790 710,784.5 698,779.2 682,776.8 656.9,754 646,746.4 638,743.8 626,743.7 610,745.4 598,748.5 590.3,754 582,763.4 574,768.6 554,773.1 538,779.6 522,783.2 514,786.8 491,802 455.7,838 442.7,846 430,851 418,852.1 398,850.1 362,852.6 342,857.5 326,866.2 294,875 274,873.1 246,878.2 226,873.6 218,874 200.7,882 186,893.3 178,895.7 174,894.9 170,891.7 162,880.9 157.3,878 150,877 150,90ZM1470,884.3 1478,882.7 1486,884 1489.5,886 1492.4,890 1493.4,894 1490,900.8 1482,903.4 1474,900.6 1468.7,894 1468.2,886ZM838,913.7 846,912.6 850,913.8 872.2,930 880,942 881.8,950 881.1,954 862.7,982 855.6,990 846,996.1 826,1005.8 808.4,1018 754,1042.9 742,1046.8 726,1049.3 698,1049.9 686,1047.8 680.2,1042 678.6,1034 679.4,1030 682.3,1026 686,1023.7 710,1016.9 722.3,1006 725.4,998 728.5,974 731.9,962 738,950.9 750,939.1 758,936.5 782,939.4 802,933 818,930.7 837.4,914Z"/>
<path fill="#cfde02" d="M154,90 1476.5,90 1478.3,126 1486.3,154 1489.6,162 1503.2,182 1516.5,218 1534.3,242 1546,262 1559,278 1575.4,302 1594,322.2 1622,340.5 1634.6,354 1651.6,382 1659.1,402 1679.4,430 1705.1,474 1708.3,486 1712.4,526 1709.6,542 1709,562 1700.7,586 1697.7,602 1691.5,614 1663.9,646 1661,654 1660.2,674 1656.8,682 1653.3,686 1626,704.3 1610,711.1 1594,720.3 1562,723.8 1554.4,726 1550,729.3 1543.6,738 1533,758 1520.1,774 1507,798 1496.5,810 1482,821.9 1454,837.7 1434,839.6 1418,852.1 1414,853.7 1410,852.9 1402,844 1398,842.2 1394,843.1 1390,847.4 1390,852.7 1394,857.3 1404.1,862 1404,866 1401.6,870 1394,875.3 1378,878.9 1366,884.2 1346,901 1334,903.2 1298,896.5 1290,896.3 1286,898 1280.9,906 1273.9,938 1269,946 1262,950.7 1254,952.5 1234,950.5 1194,952.9 1158,957.8 1130,950.9 1110,942.3 1078,920.2 1062,905.4 1054,900.7 1034,895.6 1014,896 1003.5,894 998.4,890 996.1,886 990,867 986,864.8 974,865.2 964.8,850 960.4,846 938,837.6 902,819.6 890,815.3 870,810.6 860.6,806 853.8,798 853.2,790 855.2,774 852.5,766 839.7,746 834,741.7 830,740.6 826,740.6 818,743.8 805.8,754 801.3,762 797,786 794.2,794 790,799.6 782,803.2 746,803.4 738,801.5 730,794 722,779.7 718,775.4 699.6,766 686,751.3 674,741.2 658,732.2 646,727.7 638,726.6 622,731.4 589,738 581.1,742 570,751.1 554,757.8 538,767.5 514,774.9 483.5,794 466,810.7 446.8,834 430,843.2 422,844.5 402,842.6 366,843.9 334,849.3 310,857.6 294,861.2 278,860.5 250,863.1 226,856.7 218,858 202,864.3 182,867.2 174,866.7 158,862.8 150,862.6 150,90ZM842,936.8 846,934.4 854,937 858,942 858.9,946 858.2,954 854.4,966 845.9,982 840.8,986 822,994.7 806,1006.3 786,1017.1 778,1019.9 758,1022.4 742,1033.7 729.4,1038 718,1040.1 710,1039.5 706,1037.5 703.7,1034 704.3,1030 710,1024.6 726,1020.8 735.5,1014 738.7,1006 739.2,978 743.3,966 754,956.9 766,952.9 786,951.8 802,949 822,954.9 826,954.9 834.4,950 841.1,938Z"/>
<path fill="#c3e105" d="M154,90 1467.5,90 1469.6,130 1478.5,162 1489.6,182 1493.8,206 1517.2,234 1563.1,306 1589,334 1614,351.6 1625.1,362 1641.2,390 1648.4,406 1670,430.7 1683.5,458 1698,480.4 1701,494 1701.1,526 1694.7,562 1688,582 1684.6,602 1678.2,614 1654.1,642 1651.7,650 1648.9,670 1645.4,678 1622,694 1589.7,710 1578,712.8 1558,713.8 1546,719.4 1536.8,730 1525.8,750 1505.1,774 1490.5,802 1478,812.7 1462,820 1450,822.7 1430,818.6 1414,823 1410,822.8 1398,818.7 1394,818.7 1389.3,822 1379.2,842 1376.7,850 1375.6,862 1373.8,866 1346,888.6 1338,892.4 1330,893.1 1314,891 1302,887.9 1294,884.2 1287,878 1285.3,874 1283.7,854 1282,850.2 1274,850.2 1264,858 1261.2,866 1262,871.2 1268.5,882 1270.6,890 1270,925.9 1266,935.5 1262,939.9 1258,942 1250,942.7 1194,938.3 1158,944.9 1130,937.6 1118,932.9 1102,918.9 1085.4,910 1066,891.7 1048.1,886 1040.1,882 1036,878 1030,866.6 1025.9,862 1010,856.2 980.4,842 930,810.5 906,803.4 902,799.9 891.9,786 878,777.1 870.9,766 860.5,754 848.6,734 828.4,718 822,703.1 818.3,698 810,692.9 802,691.2 798,691.6 794,693.9 792.9,698 796,710 806.6,726 806.3,734 795.8,750 793.6,758 793.1,770 790,778.8 782,787.1 774,789.9 750,792 742,789.9 738,785.7 731.7,770 726,762.8 686,736 655.4,710 650,707.2 642,706.1 630,709.2 610,719.3 573,734 558,742.2 534,758.8 510,764.6 472.7,790 454.4,806 442,819.2 422,831.4 394,835 370,834.8 314,844.4 286,845 262,850 254,848.7 238,840.4 230,838.4 218,840.8 198,849.3 186,851.1 174.4,850 158,844.3 150,843.6 150,90ZM778,961.5 798,961 806,963.3 814,970 816.7,978 813,986 805.2,994 794,1000.7 782,1005.6 774,1005.5 767.8,1002 760.5,994 754.4,982 755.3,974 757.8,970 766,964.4 774.1,962Z"/>
<path fill="#b6e509" d="M154,90 1457.5,90 1459.6,106 1458.9,126 1463.9,146 1466.1,162 1468.4,170 1476.5,186 1482.5,210 1488.9,218 1503.4,230 1509.6,238 1554.4,314 1582,342.8 1614,368 1623.5,386 1642,415.4 1658,429.7 1664.5,438 1678,467.9 1690.3,486 1692.8,498 1690.5,526 1683.2,566 1675.3,598 1672.5,606 1667.7,614 1646.5,638 1640.2,658 1634,667.7 1618,682.6 1610,687.9 1594,692.6 1578,702 1554,705.4 1542,712.2 1532.9,722 1517.2,746 1492,774 1482,794.5 1474,803 1466,806.9 1454,809.6 1434,806.9 1410,807.8 1390,803.6 1382,805.8 1378,810.9 1373.6,830 1360.5,862 1354.5,870 1346,877.6 1334,883 1314,882.3 1302,877.9 1294,869.1 1291.1,862 1289,850 1286,844.6 1282,842 1274,841.8 1262,848.4 1252.9,858 1248.5,870 1248.8,890 1258.4,922 1257.4,926 1254,929.6 1250,930.6 1238,928.7 1222,922.6 1214,921.1 1190,922.7 1162,930.4 1142,927.4 1130,923.5 1110,907.5 1086,892.8 1060.5,870 1045.9,854 1034,847.9 1010,842.8 994,835.8 985.3,830 970,814.8 950,803.6 929,794 914,784.4 873.4,746 862.4,726 843.8,710 828.9,686 822,681.2 802,672.1 794,670.2 782,673.1 774,677.4 765.8,686 760.6,694 759.6,698 760.7,702 781,722 785,730 785.3,734 781.2,750 780.7,766 778,770.8 766,776.1 758,777.4 750,775 721.4,734 714,730 698,728.3 690,725.3 680.4,718 662,698.3 658,695.7 650,694.3 638,696.5 598,711.4 558,731.4 530,749.5 514,751.2 506,753.8 486,768.3 462,779.7 446,790.8 433.8,802 419,810 406,820.5 398,823.7 390,824.7 374,823.7 342,831.4 266,835.8 258,834.6 242,827.3 234,825.4 226,825.9 198,833.5 190,834.4 170,827.1 150,825.1 150,90ZM786,970 794,971.6 798.3,974 800.6,978 800.4,982 798.2,986 793.6,990 782,993.5 778,992.2 774,987.8 771,978 774,973 783.6,970Z"/>
<path fill="#a9ea0f" d="M154,90 1447.3,90 1450.3,106 1449.7,126 1453.1,150 1452.7,170 1456.1,178 1466,192.2 1474,214.3 1479.8,222 1494.6,234 1502,242.2 1524.1,278 1539.2,310 1546,320.6 1586,362 1602.5,374 1606,378 1614.8,394 1626,407.3 1638,426 1658,445.5 1662.4,454 1670.7,478 1682.7,494 1684,506 1675.2,566 1667.1,598 1661.3,610 1640.2,634 1632.2,650 1626,657.4 1606,674.6 1586,679.4 1570,689.3 1550,695.1 1542,700.1 1534,708.4 1514,735.2 1498,754 1478.6,774 1470,787.9 1466,792 1462,794.4 1454,796.2 1434,795.8 1418,797.8 1386,793.6 1378,795.5 1374.2,798 1368.4,806 1363.9,826 1349.4,858 1344.6,866 1340.2,870 1334,873 1326,874.4 1314,873.8 1306,871 1296.7,862 1290,843.4 1286,838 1282,835.6 1274,835.1 1262,840.8 1246.3,854 1239,866 1229.4,890 1223.6,898 1218.5,902 1206,906.7 1186,908.8 1154,914.8 1142,913.7 1134,910.7 1096.6,886 1086,876.5 1070,857.1 1056,846 1046,841.1 1014,830.6 998.5,822 994,817.5 989.7,810 986,789.7 979,782 960.3,774 922,765.2 914,761.7 890,738.8 882.6,718 874,705.3 866,699.4 858,696.5 850,691.6 833.2,674 817.4,666 802,653.2 798,652 794,652.4 782,658 772.6,658 767.5,654 762,645.8 758,642.8 754,641.9 750,642.9 745.9,646 736,666 734,669.1 730,671.1 686,679.1 666,676.8 650,679.2 638,683.9 614,696.9 590,703.3 530,736.5 510,740.5 486,753.2 458,758.5 438,768.3 426,772.2 418,771.7 406,766.9 398,767.3 393.5,770 390.2,774 385.7,794 379.7,802 363.9,814 350,820.2 338,821.9 318,821.9 294,824.8 274,824.3 262,823 238,815.8 214,815.5 178,809.2 150,809.2 150,90ZM690,697.9 695.6,702 696,706 694,707.5 690,706.8 686.9,702 689.8,698Z"/>
<path fill="#9cee16" d="M154,90 1438.1,90 1440.9,106 1443.2,146 1442,174.6 1444.5,182 1456.7,198 1463.5,218 1469.7,226 1492.1,246 1510,270.3 1519.2,286 1530.9,314 1542,330.9 1574.4,366 1593.9,382 1606,402.7 1622,417.8 1634,437.3 1646.3,450 1650.9,458 1657.3,482 1672.6,502 1667.5,570 1662,591.3 1657.5,602 1652.3,610 1626,641.1 1618,648.6 1594,664.4 1578,668.4 1562,675.7 1542,681.2 1538,683.7 1520.2,714 1490,750.9 1482,758.3 1458,774.9 1450,779 1434,781.2 1414,788.1 1382,786 1374,788.3 1370,791 1358.8,806 1345.2,842 1338,855.5 1331.9,862 1326,864.8 1318,866 1306,863.3 1296.6,854 1289.7,834 1282,828.6 1274,828.7 1262,834 1240.1,850 1233.2,858 1221.5,878 1210,888.9 1198,893.7 1158,903.4 1150,904 1138,900.5 1106,878.8 1094,868.8 1070,843.9 1062,838 1054,833.8 1031.3,826 1013.2,814 1003.5,802 1001.5,794 1002,782 998,774.8 994,771.7 980.8,766 946,756.8 914,737.9 902,728.7 886,700.5 881.3,694 874,687.3 858,679.8 841.4,666 822,655.8 802,638.3 794,635.1 758,625.6 750,626 742,629.4 726,647.5 714,655.7 706,658.5 694,659.9 670,656.1 662,657.4 632.5,670 610,687.1 582,695.7 538,716.6 514,725.4 490,741 482,742.9 466,742.6 454,744.1 446,746.3 430,754.3 422,754.5 406,749.1 398,748.1 390,749.6 370,756.9 366,760.3 363.6,766 367.2,786 365.5,794 358,805.1 346,811.8 334,813.5 314,812.7 286,814.1 258,808.1 226,803.3 202,793.1 150,796.4 150,90Z"/>
<path fill="#93f31b" d="M154,90 1428.3,90 1434.1,146 1433.1,170 1434,179.6 1437.9,190 1446.9,202 1454,223.7 1472.4,242 1486.5,262 1506,280.7 1519.2,310 1542,345.9 1566,372.6 1586,389.1 1598,411 1617.7,430 1625.8,446 1634.3,458 1641.4,482 1655.6,502 1661.5,546 1660,570 1656.5,586 1648.7,602 1626,628.7 1618,636 1594,652.5 1582,656.1 1554,658.2 1550,656.7 1545.9,646 1541.4,642 1534,640.9 1530.8,642 1528.7,650 1530,656 1532.1,658 1531.9,662 1524.6,678 1518.4,702 1514,709 1486,743.2 1478,750.1 1450,764.8 1430,769.5 1412.3,778 1402,779.8 1378,779.5 1370,782.3 1362,789.3 1345.2,810 1341.4,818 1334.2,842 1325.9,854 1322,856.4 1314,858.2 1306,856.1 1302,853.5 1298,847.5 1296.7,834 1294,826 1290,820.2 1282,819.5 1266,825.4 1233,846 1225.2,854 1214,871.5 1206,878.2 1194,883.2 1154,893.6 1146,892.6 1140.5,890 1106,865.3 1092.2,854 1074,834 1066,827.5 1058,823.1 1034,815.2 1020,806 1014,799.6 1011,794 1009.4,786 1010.3,778 1008.2,770 998,759 982,752.7 954,746.8 938,735.5 918,724.3 906,713.7 886,682.7 858,657.7 850,653.2 830,646.1 798,622.8 778.1,614 766.2,606 762,604.7 754,605.8 733.8,614 702,634.5 690,640.1 682,640.4 662,637.4 636.8,646 615.9,658 602,672.1 594,678 578,686.5 556.1,694 534,705.7 506,716.5 486,732.4 478,733.7 438.3,734 422,735.8 402,734.4 382,735.3 366,738.9 357.4,746 351.4,758 350.7,766 356.1,786 354.8,794 350,799.8 342,803.4 326,804.4 302,798.8 282,799.3 258,794.3 242,793.2 234,791 214,779.9 206,777.7 174,778.4 150,783.2 150,90Z"/>
<path fill="#8bf71f" d="M154,90 1417,90 1417.8,122 1424,146 1426.7,182 1430,192 1438.8,206 1445,226 1450,234.2 1464.9,250 1478,273 1498,288.1 1507.8,310 1522,328.3 1535,350 1561.9,382 1574,391.1 1580.7,398 1590.6,418 1606,434.9 1614,451.8 1624,466 1631.8,486 1646.2,506 1653.2,538 1653.3,554 1648.4,586 1642,597.3 1621.8,622 1612.3,630 1590,643.7 1582,645.7 1566,646.2 1558,645 1542,638.8 1534,638.4 1530,640 1526.1,646 1523.7,658 1515.7,678 1510,698 1486,730.5 1474,740.7 1446,754.2 1406,769.7 1370,774.6 1362,779.4 1346,794.8 1338,798.1 1330,796.6 1319.8,790 1310,786.7 1302,785.7 1294,787.3 1290,789.6 1286.5,794 1280.6,806 1273.6,814 1246,830.9 1222,842.6 1214.2,850 1206,863.4 1198.6,870 1186,874.6 1154,879.3 1146,877.8 1130,869.7 1110,856.8 1097.2,846 1091.6,838 1087.4,826 1087.4,818 1089.7,806 1088.7,802 1082,794.7 1066,785.3 1062,785.6 1058,788 1047.9,798 1042,801.1 1034,801 1027.8,798 1021.5,790 1021.3,774 1018.9,766 1006,748.9 994,742.9 958,733.9 935.6,722 910,698.9 890,672.3 866,645.7 858,641.2 838,634.3 822,625.5 811.6,618 794,601.2 783,594 773.9,590 762,587.1 754,587.5 750,589.3 738,598.5 717.3,606 687.8,622 682,622.8 662,617.5 654,617.6 634,627.8 610,632.2 606,635.1 594,649.7 582,658.7 570,674.4 550,684.6 530,698.2 498.1,710 482.2,722 478,723.7 458,725.4 410,722.2 370,724.4 354,729.4 343.2,738 336.5,750 333,762 332.3,782 330,784.9 326,784.3 316,774 310,771.2 306,770.6 298,772.2 283.3,782 274,783.2 269.6,782 254,771.7 246,768.5 230,767 214,762.5 190,762.5 174,757.4 169.8,758 158,766.5 150,769.8 150,90ZM1310,833 1314,832.5 1318,835.6 1319.1,838 1318,843.8 1314,847 1308,846 1305.9,842 1309.2,834Z"/>
<path fill="#7ffa23" d="M154,90 1407,90 1406.9,102 1402.1,118 1402.2,126 1408.1,142 1411.6,162 1420.9,190 1431.6,210 1439.6,234 1446,244.7 1458,258.6 1470,278.8 1490,297.2 1497.7,314 1514.2,330 1525.9,350 1542,370 1552.1,386 1574,404.4 1583.1,426 1598,443 1606,458 1617.6,474 1625.2,490 1636.8,506 1645.9,542 1645.7,550 1639.9,582 1636.2,590 1626,602 1615.1,618 1606,625.6 1594,633 1582,637.6 1570,639.3 1542,636.4 1529.7,638 1526,642 1519.7,658 1501.4,694 1482.7,722 1474,729.5 1452.2,738 1410,758.2 1390,764.7 1370,767.5 1362,770 1346,781.5 1342,782.9 1306,775.6 1298,775.3 1290,777.3 1280.6,786 1271,806 1256.8,818 1242,825.8 1218,831.3 1206,836.7 1198,843.5 1187.5,858 1182,861.4 1174,863 1150,863.8 1138,861.9 1122.4,854 1107.4,842 1103.2,834 1102.4,826 1104,806 1103,798 1091.6,774 1093.4,766 1106,754.6 1108.4,750 1107.7,746 1103.5,742 1086,736.7 1070,736.6 1058,740 1038,750.6 1030,751 1026,748.9 1014.7,738 1010,735.5 978,727.6 946,715.7 938,710.2 926,696.8 910,682.7 872.3,638 866,633.7 846,625.5 830,616.9 821.1,610 807.1,594 798,586.2 786,578.9 778,576.8 754,574.1 742,574.9 734.8,578 723.8,586 706,588.4 678,601.4 670,602.4 646,600.4 629.7,610 606,611.6 597.1,618 583.9,638 562,653.6 550.9,670 534,686.6 526,691.4 502,698.7 470,715.1 454,716.7 406,713.2 362,715.4 350,719.1 342,723.3 332.9,730 318,745.3 310,747.9 298,745.4 282,736.4 274,733.8 266,735 254,742.3 250,743 244.7,742 230,734.5 226,734.3 218,736.9 206,743.8 198,746 190,744.5 174,738.6 166,738.8 150,743.1 150,90ZM1200.6,762 1189.2,770 1186.8,774 1187.6,778 1194,783.9 1198,785.7 1204.3,786 1218,779.4 1226,777.8 1229.8,774 1230.6,770 1229.6,766 1226,762.6 1214,759.3 1202,761.2Z"/>
<path fill="#72fc29" d="M154,90 1397.7,90 1397.1,98 1390.7,114 1389.6,122 1392.3,138 1393.6,158 1395.8,166 1408.3,182 1422.6,210 1432.3,238 1442,258.1 1464,286 1480.2,302 1490,319.2 1510,337.1 1519.9,354 1534,372.3 1546,393.4 1565.8,410 1575.5,434 1594,453.1 1610,476.5 1619.3,494 1627.5,506 1632.5,518 1638,542 1630.4,582 1610,613.4 1594,625.6 1586,629.6 1574,633 1542,634.3 1528,638 1516.4,658 1482,710.4 1475.8,718 1470.2,722 1436.9,734 1414,746.7 1382,759.2 1361.4,762 1338,768.6 1302,765.3 1291,766 1282,768.3 1274,773.5 1270.7,778 1266.1,798 1261.7,806 1254,812.6 1242,818.3 1234,819.3 1226,817.5 1220.6,814 1218.2,810 1217.8,806 1220.8,798 1224.2,794 1240.9,782 1246.9,774 1247.8,770 1246.6,762 1240.8,754 1230,748 1214,743.4 1182,738.5 1170,740.9 1149.2,750 1146.1,754 1157,774 1201.1,806 1203.8,810 1203.7,814 1197.6,822 1174,844.9 1158,851.5 1146,853.2 1138,851.4 1129.2,846 1120.3,838 1115.6,830 1114.9,822 1117.1,798 1121.3,778 1125.7,770 1141.6,754 1140.9,750 1124.6,734 1114,729.8 1082,722.3 1074,721.7 1062,724.2 1046,731.1 1038,733.1 1018,724.9 990,720.5 978,716.9 962,707.1 950,703.2 942,698.6 930,686 907,666 878,631.9 841.7,610 812.4,586 790,570 778,565.7 730,559.8 722,556.5 710,548.8 702,545.8 694,546.1 682,554.1 678,554.9 658,548.9 650,550.3 646,552.7 642,558.1 635.4,574 626,584.6 602,593.7 586,601.6 582,605 579.2,610 576.7,622 573.1,630 554,646.6 538.4,670 531.1,678 522,683.4 502,688.9 470,705.4 458,707.9 442,708.6 426,707.6 398,703.3 358,705.1 346,708.2 322,720.1 314,721.3 294,714.1 278,717.1 262,716.5 246,709.8 238,708.4 198,716.5 186,715.4 170,717.4 150,717.5 150,90Z"/>
<path fill="#65fe2e" d="M154,90 1386,90 1384.7,98 1380.2,110 1379.2,118 1382.4,150 1385.1,162 1390,175.3 1400.5,190 1414.5,214 1434,268.2 1442,278 1470,304 1485.1,326 1503.5,342 1525.6,374 1538,395.9 1556.2,414 1567.2,438 1590,460.2 1604.5,482 1622.7,514 1628.6,530 1630.3,542 1623.1,582 1605,610 1594,618.9 1578,626.7 1562,630.4 1538,633.3 1526.3,638 1514,657.3 1478,704.8 1470,713.2 1458,718.6 1430,725.7 1406,741.2 1382,752.4 1338,757.6 1286,756.1 1278,753.4 1266,744.9 1250,741.4 1202,725.9 1186,723.8 1158,727.7 1146,724.1 1122.6,714 1102,708.2 1078,708.9 1054,714.3 1038,716 986,709.5 966,698.5 946,689.5 930,672.9 910,655.7 882.8,626 786,558.1 778,554.4 758,552.6 730,547.6 706,535.8 678,529.8 654,529.2 638,533.4 630.5,538 614,552.7 602,558.3 590.9,566 566,592.3 563.8,598 561.5,622 528,666 522,671 502,678.2 478,693 466,697.6 438,701.5 426,700.4 406,695.4 394,694 370,695 346,693.9 318,696.3 282,693.6 262,696.4 244,690 225.6,674 214,669.1 190,671.5 170,671.5 150,677.9 150,90ZM1242,792.2 1250,790.8 1254.4,794 1255.1,798 1253.8,802 1250,806.2 1242,809.1 1238,808.5 1234.5,806 1233.6,802 1235.2,798 1239.1,794ZM1142,797.2 1150,796.2 1158,798.1 1170,803.5 1176.4,810 1177,814 1174.2,822 1170,827.7 1162,833.8 1154,837.1 1146,837.6 1142,835.4 1137.4,830 1133.9,822 1133.4,810 1136.5,802 1140.7,798Z"/>
<path fill="#5aff36" d="M154,90 1369.9,90 1368.1,110 1370,142 1371.7,150 1386,184.7 1401.3,210 1416.3,242 1426.4,274 1432.1,282 1444.1,294 1464,310 1478.1,330 1495.6,346 1515.6,374 1530.3,398 1547.6,418 1560.6,442 1586,466.8 1602,492 1618,521.9 1622.2,534 1622.8,542 1619.2,574 1617,582 1604.5,602 1594,612.4 1574,623.2 1538,632 1526,637.3 1514,653.9 1478,695.9 1470,704.1 1462,709.6 1450,712.9 1434,714.8 1426,717.5 1402,735.7 1382,746 1370,748.7 1346,750 1322,747.3 1290,746.4 1270,733 1242,723 1222,719.6 1198,713.2 1162,714.1 1150,712.5 1126,701.9 1106,697 1082,696 1058,699.4 1042,699.1 1010,701.7 998,701.4 986,699 950,680.9 934,663.5 906,639.1 890,622 852.8,594 806.6,566 782,545.3 774,543 754,542 730,537.6 690,520.7 674,517.1 650,517.7 634,521.4 609,534 590,545.6 582,548.8 558,546.5 549.3,550 542.4,558 539.5,566 539.2,574 543.9,610 540.5,622 533.4,638 522.2,654 514,661.4 478,683.2 466,688 442,693.1 434,693.5 402,687 370,686.5 346,682.3 322,681.1 302,677.4 286,670.4 270,667.1 262,666.9 254,669.6 246,669.9 238,666.6 222,656.7 214,653.8 198,651.5 174,653.5 166,651.3 150,643.6 150,90Z"/>
<path fill="#51ff3f" d="M154,90 1356.2,90 1358.6,126 1358.3,142 1360.2,150 1370.5,166 1381.9,194 1397.4,226 1411.4,250 1419.6,278 1426,287.4 1438,300.8 1462,319.8 1474,337.9 1486,350.1 1505.2,374 1523.7,402 1536.5,418 1551.4,442 1562,454.6 1582,473.6 1602.4,506 1613.3,530 1615.4,542 1613.5,574 1611.3,582 1601.3,598 1588.9,610 1570,620.5 1538,630.6 1526,636.5 1510,655.8 1478,689.4 1462,701.8 1454,705 1434,706.7 1426,708.8 1418,714 1399.7,730 1382,739.7 1370,742.9 1350,744 1318,738.3 1294,736.4 1266,720.4 1246,713.3 1222,710.3 1194,703.3 1150,702.5 1130,693.2 1122,691.1 1098,688.2 1050,685.5 1038,686.3 1010,692.2 998,691.6 990,689.5 958,673.7 950,666.6 930,643.9 910,630.1 898,617.3 882,606.8 862,590.9 810,560.9 782.6,538 774,535.6 754,534.3 730,529.8 690,511.8 678,508.9 658,508.4 638,510.4 570,529.7 522,532.7 502,531.3 495,534 488.8,542 487.8,550 489.2,554 492.9,558 502,562.8 505.2,566 508.8,582 521.3,606 523.9,618 520.6,634 517,642 510,651.5 482,671.5 470,677.2 442,683.8 430,684.6 406,679.9 366,677.2 346,670.3 318,663.9 270,645.8 258,644.5 242,646.1 214,639.2 174,635.9 150,625.8 150,90Z"/>
<path fill="#47ff48" d="M154,90 1345.4,90 1350,144.3 1352.2,154 1366,175.1 1389.5,230 1405,254 1412.8,282 1434,308.8 1458,327.6 1474,352.5 1498,377.8 1537.7,438 1558,460.7 1574,475.6 1593.2,502 1599.5,514 1606.7,534 1608.2,566 1607.9,574 1605.6,582 1598.2,594 1590,603 1570,616.6 1534,631 1526,635.7 1510,653.3 1470,690.8 1454,698.8 1424.7,702 1417.7,706 1398,724.3 1386,731.5 1374,736.2 1354,738.3 1342,737.3 1294,724.7 1270,712.4 1254,706.7 1226,703.3 1198,694.8 1174,692.6 1154,693.4 1126,683.7 1058,676 1038,676.9 1010,682.4 998,681.1 962,661.5 935.6,634 918,623.9 902,609.1 886,600.1 867.9,586 814,555.8 786,533.5 774,529.6 754,528 730,523.6 718,519.2 693.1,506 678,502.3 654,501.4 638,502.5 614,507.3 590,509.1 566,516 526,519.5 514,518.7 498,514.1 490,517.5 478.2,530 472.9,538 466.2,554 465.9,562 470,574.5 474,581.1 494,591.6 502,601 509.2,618 509.8,626 508.3,634 505,642 498.8,650 478,665.4 470,668.7 454,671.2 438,675.7 430,676.2 406,671.9 370,668.6 362,665.4 334,649.5 282,628.2 242,621.5 234,622.1 214,627.3 202,627.5 190,624.7 162,612.7 150,610.9 150,90Z"/>
<path fill="#3eff4f" d="M154,90 1336.1,90 1338.3,114 1346,161.8 1350,169.9 1363.7,190 1382.9,234 1396.1,254 1399,262 1400.3,274 1402.8,282 1424.1,310 1453,334 1467.3,358 1490,379.9 1499.4,398 1512,414 1526.3,438 1566.3,478 1590,508.4 1594.7,518 1599.5,534 1602.5,566 1602.2,574 1599.7,582 1594,591.3 1584.4,602 1567.9,614 1526,634.8 1510,651.2 1470,686.3 1454,693.7 1422,697 1413.6,702 1397.3,718 1386,725.2 1370,731.1 1354,732.7 1338,730.1 1302,717.2 1266,700.9 1250,697.3 1226,695.7 1206,688.1 1194,685.2 1174,682.8 1150,683 1126,675.6 1082,670.5 1062,666.8 1010,669.6 998,667.5 966,649.5 940.6,626 922,615.1 906,602 890,593.3 870,579.4 814,548.4 786,527.8 774,524.2 730,518.2 718,513.7 694,500.6 678,497 654,495.2 638,495.6 614,498.8 590,499.1 566,504.5 546,505.9 518,505.7 498,499.5 490,501.1 486,503.5 465.8,526 455.9,550 454,562 457.6,578 462,587.5 470,593.4 486,600 491.2,606 495.2,622 494,638 485.7,650 474,658.6 466,661.5 438,666.9 430,667.6 410,664 382,661.4 374,659.7 366,655.5 346.4,638 337.2,626 328.8,610 327.8,590 322,584.9 310,584 298,585.8 278,599.1 262,603.5 250,602.2 238,593.7 230,591.6 223.5,594 210,604.4 206,605.5 202,604.6 190,597.4 182,594.9 174,594.9 150,599.4 150,90ZM365.8,574 361.6,578 360.8,582 363.3,586 370,586.5 374,584 377.3,578 374,573.3 366,573.9Z"/>
<path fill="#34ff55" d="M154,90 1327.8,90 1329.7,118 1339.7,170 1346,181.6 1359.1,198 1377,238 1388.7,258 1391.9,278 1395.1,286 1417.4,314 1449.6,342 1462,363.4 1482,382 1491,402 1504,418 1518,441.2 1537.6,462 1560.4,482 1585.8,514 1592.8,534 1596.8,562 1596.4,574 1593.8,582 1585.8,594 1578.3,602 1562,614 1526,634 1474,679.9 1466,684.9 1454,689.6 1426,691.3 1418,693.4 1410.5,698 1394,714 1386,719.2 1370,725.3 1358,726.9 1346.2,726 1338,723.6 1305.7,710 1278,694.2 1254,688.3 1230,687.7 1198,677.1 1170,673.2 1150,674.2 1126,666.7 1070,657.5 1038,658.8 1022,656.9 1006,656.8 998,654.9 970,639.9 951.2,622 926,607.4 906,593.2 881.3,578 814,541.7 786,522.6 774,519 730,513.3 718,508.8 694,495.9 662,490.2 646,489.3 590,491.1 566,495.3 550,495.9 526,491.7 506,485.9 494,486.2 478,492.2 470,498.5 455.6,518 446,542.6 442,547.6 438,549.3 426,549.3 410,543.9 398,541.9 390,543.2 374,549.7 366,547.1 358,540.2 350,538.3 343.4,542 334,552.6 326,557.5 314,562.8 294,568.5 270,579 258,579.5 238,572.4 194,574.4 170,570.6 162.8,574 156.2,582 150,585.7 150,90ZM418,569.5 426,567.6 438,573.1 458,598 474,606 479.2,610 482.4,618 480.9,634 476.8,642 468.3,650 458,654.2 430,658.4 382,651.5 374,647.7 368.6,642 365.1,634 364.8,630 367.4,622 372.6,614 387.8,598 398.7,582 417.3,570Z"/>
<path fill="#29fd5f" d="M154,90 1320.4,90 1322.4,122 1327.3,142 1329.8,162 1332.8,174 1338,184.5 1350.2,198 1358,210.5 1371.3,242 1379.9,258 1385.3,282 1389.3,290 1410,316.8 1439.6,342 1454.9,366 1474.4,386 1484.8,410 1498.5,426 1511.3,446 1530,467 1554.4,486 1578,516.1 1582,522.4 1586,533.2 1591.4,562 1590.8,574 1588,582 1580.2,594 1572.8,602 1557.3,614 1526,633.3 1474,676.7 1462,683.4 1454,686 1426,687.4 1415,690 1406,695.6 1386,713.1 1370,719.8 1358,721.4 1342,718.3 1314.7,706 1286,686.1 1246,675.5 1170,663.4 1150,665 1126,657.1 1074,648.4 1042,648.6 1026,645.6 1010,645.4 1002,643.9 974,628.9 960,614 938,605.2 897.7,578 870,565.3 822,540.2 786,517.7 770,513.1 730,508.8 718,504.2 694,491.9 658,484.3 590,483.7 550,486.3 526,481.8 502,473.9 494,473.6 462,480.6 454,484.7 446,492.1 442,493.9 430,494.4 426,495.9 419.9,502 410.8,518 404.7,522 398,522.4 382,517.6 374,516.8 330,524.7 310,520.2 298.4,522 287.3,530 278.9,550 273,554 262,557.3 234,559.6 206,559.3 166,554.1 150,557 150,90ZM422,585.3 430,586 438,590.2 463.4,618 464.6,626 459.4,638 454,643.3 442,648 426,648.4 398,642.6 387.2,638 383.9,634 383.2,626 386,619.9 401,606 410,591 418.6,586Z"/>
<path fill="#1dfa6b" d="M154,90 1313.5,90 1315.5,102 1316.5,126 1326.6,178 1333.2,190 1347.5,206 1356.4,222 1366,247.2 1373.4,262 1378.7,282 1382.1,290 1401.5,318 1425,338 1436.2,350 1448.9,370 1465,390 1478.2,418 1494,436.7 1503.2,450 1526,473.7 1550,492.5 1570,518 1575.4,526 1580.9,538 1584.5,550 1586.2,562 1585.4,574 1582.5,582 1575,594 1567.8,602 1553.3,614 1526,632.5 1474,673.9 1466,678.7 1454,682.8 1422,684.3 1414,686.2 1400.8,694 1380.3,710 1370,714.3 1358,715.8 1342,711.5 1318,699.5 1294,677.4 1266,671.7 1238,656.3 1222,654.9 1194,657.8 1170,651.9 1150,654.5 1130,648.5 1106,646.3 1074,639.9 1042,638.2 1007.7,630 982,617.4 968.9,606 942,597.9 902,570.9 874,560.6 826,536.8 782,511.2 770,507.5 742,506.3 730,504.4 718,500 694,488.1 658,478.9 530,474 517,470 498,457.6 490,456.6 438,471.5 414,486 402,498.6 398,500.9 390,501.1 370,497.1 364.7,498 346,506.7 330,507.8 310,505.3 298,507.9 274.2,518 259.2,538 252.7,542 242,545.4 230,546.5 214,543.9 194,543.9 186,542 166,531.8 150,532 150,90ZM426,597.4 430.4,598 438,602.5 444.5,610 448.6,618 449.4,626 448.1,630 445.4,634 438,638.3 430,638.8 422,636.3 411.7,630 409.2,626 410.1,618 414.9,606 418,601.2 422.9,598Z"/>
<path fill="#13f673" d="M154,90 1307.1,90 1310.1,106 1310.8,126 1316.5,166 1319.4,178 1325.1,190 1341.8,210 1350.6,226 1377.8,294 1394,319.7 1423.2,346 1449.1,382 1454,390 1464.6,414 1482.2,442 1497.9,458 1540,494 1562,517.9 1576.1,542 1581.1,562 1580.3,574 1577.4,582 1570.2,594 1563.4,602 1549.8,614 1474,671.5 1466,676.1 1454,680 1414,682.6 1399.2,690 1378,705 1370,708.5 1362,710.1 1354,709.5 1346,706.9 1326,696.7 1317.8,690 1306,673 1298,666.8 1290,664.8 1274,664.2 1266,661.6 1242,642.1 1234,637.8 1226,636.6 1214,637.8 1194,645.5 1174,640.8 1154,643.8 1130,638.2 1106,638.7 1078,631.7 1046,627.9 1018,618.2 1005.7,610 986,604 970,595.4 950,590.8 909.3,566 898,560.9 874,554 838,537.6 818,527.6 774,502.3 766,500.7 742,501.8 730,500.2 718,496 694,484.4 658,473.5 638,472.8 590,467.5 558,460.6 534,464.1 526,463.3 505.9,450 490,444.9 478,444.4 458,453.3 438,456.8 430,461.2 414,473.5 390,487.1 382,487.4 362,484.5 338,488.6 314,487.9 286,499.5 268.7,502 262,506.2 250,520.7 238,527.7 230,527.8 214,523.2 198,524.7 190,523.8 182.1,518 174,508.6 170,506.6 166,506.7 150,512.6 150,90ZM1055.5,422 1053.7,426 1054.5,434 1062,448.2 1067.9,454 1074,457.1 1078,457.4 1082,455.9 1086,451.1 1088.4,442 1088.1,434 1086,427.7 1082,422.8 1074,419 1066,418.2 1058,419.6Z"/>
<path fill="#09f37a" d="M154,90 1301.2,90 1304.8,106 1306,130 1310,170 1311.9,178 1317.5,190 1333.5,210 1344.6,230 1369.2,290 1384.5,318 1394,329.5 1414,346 1429.6,370 1442.8,386 1472.3,450 1476.3,454 1518,482.9 1554,517.1 1570,542 1574,551.8 1576.1,562 1575.4,574 1572.6,582 1565.8,594 1559.5,602 1522,634.5 1474,669.2 1466,673.6 1454,677.3 1414,679.4 1398.6,686 1374,700.9 1362,704.2 1350,702.5 1332.3,694 1323.1,686 1311.7,666 1306,659.6 1298,656.6 1278,655.7 1270,653.6 1262,647.9 1242,627.4 1234,622 1226,621.3 1206,623 1190,629.4 1154,633.4 1130,627.2 1106,630.3 1082,622.5 1058,619.1 1026,606.6 1010,596.5 990,592.8 974,586.6 954,582 909.2,558 898,553.7 874,547.5 846,536.3 810,518.5 774,495.2 766,493.9 742,497.2 730,496.1 662,468.9 634,466.5 578,455.7 558,450.4 530,452.2 506,441.5 482,434.4 474,434.4 454,442.6 438,446 430,450.1 410,464.3 386,472.2 354,469.4 326,472.3 306,469.9 298,472.8 286,481.3 278,481.3 262,477.5 254,478.1 235.4,482 233,486 235,494 234,495.6 230,497.6 222,498.5 209.4,498 192.8,490 178,486.5 162,486.5 150,489.2 150,90ZM1066.7,366 1058,371 1050,382 1042,416.6 1041.8,430 1047.4,446 1062,464.4 1074,471 1086,470.8 1093.2,466 1096,458 1096.9,442 1095.7,426 1086.1,398 1086.4,370 1082,365.7 1070,365.2Z"/>
<path fill="#00f080" d="M154,90 1295.5,90 1300,110 1303.3,170 1306,182 1314,196 1327.9,214 1339.4,234 1364.4,294 1379,322 1386,331 1408.2,350 1421.9,374 1438,391.7 1455.2,434 1459.5,450 1463.8,458 1468.7,462 1486,470.2 1514,487 1534,507.5 1550,520.8 1564.2,542 1569.4,554 1571.1,562 1571.3,570 1568.2,582 1561.9,594 1552.3,606 1522,633.7 1490,654.8 1474,667 1466,671.5 1454,674.9 1418,676.3 1410,677.8 1370,696.5 1358,698.4 1342,693.9 1330.7,686 1324.6,678 1314.9,658 1310,652.8 1302,650.3 1278,648.2 1270,644.9 1254.3,630 1243.7,614 1237.2,610 1226,608.6 1202,611.1 1178,620.2 1162,623.4 1154,623.5 1130,617.9 1110,620.4 1102,619.7 1082,611.6 1054,605.8 1030,595.4 1002,580.4 954,573.4 910,551.1 895,546 870,540.2 850,533.1 806,511.9 792,502 778,488.7 774,486.6 766,486.6 742,492.5 730,492 718,488.3 662,463.5 634,460 606,451.5 574,445.8 554,440.4 526,438.4 482,425.5 470,425.4 441.8,434 430,439.6 410,452.5 402,455.2 326,459.4 318,458.1 302,451.5 294,450.6 290,451.8 278,461.8 274,462.9 254,461.7 238,462.8 226,464.8 206,470.8 190,472.4 178,472.4 170,470 158,457.8 150,453.3 150,90ZM1088.2,342 1058,351.7 1049.4,358 1042,367.2 1036.3,378 1033.8,386 1033.8,426 1035.5,438 1039.6,450 1044.7,458 1062,477.6 1074,482.5 1086,483.4 1096.9,482 1104.5,478 1107.4,474 1108.2,470 1104.1,446 1102,420.7 1096.1,394 1096.4,386 1102.5,362 1103.2,354 1102,347.4 1098,342.7 1090,341.5Z"/>
<path fill="#00e98d" d="M154,90 1289.5,90 1294.7,110 1297.9,174 1299.7,182 1306,194.7 1336.9,242 1350.6,274 1357.4,294 1374,325.7 1382,335.6 1401.7,354 1415.3,378 1433.5,398 1448.1,442 1450.9,454 1454.6,462 1463.5,470 1486,479 1514,494.3 1530,511.6 1550,528.5 1560.6,546 1566.2,562 1566.6,570 1564,582 1558.3,594 1549.2,606 1522,632.9 1490,653.1 1474,665 1466,669.4 1454,672.7 1414,674.4 1394,680.9 1370,691.1 1358,693 1346,690.5 1334,682.3 1328.1,674 1318.6,654 1314,648.6 1306.9,646 1282,643.1 1274,640.2 1258,626 1250,609.6 1238,602.4 1222,599.6 1206,600.6 1162,612.6 1130,609.8 1110,611.1 1102,609.9 1082,602.3 1054,594.8 1002,567.5 990,565.6 966,567.2 954,565.9 946,562.9 922,549.3 906,542.8 866,533.5 850,528.2 818,514 803.8,506 794.3,498 782,481.4 778,478.2 770,478 742,487.8 726,487.1 714,482.9 662,457.9 634,453.3 610,444.3 574,436.4 550,427.6 518,425.8 487.5,418 470,417.1 437.3,426 410,439.5 402,441.9 378,440.9 358,445 334,445.4 322,443.9 286,435.3 278,437.3 266,444.4 246,446.6 226,451.5 206,453.3 186,459.2 176.5,458 162,445.4 150,442.4 150,90ZM1063.6,318 1058,323.3 1035.5,354 1023,382 1022.5,398 1030.1,450 1036.3,462 1058,486 1066,491.2 1074,492.9 1094,494 1106,491.6 1114,488.1 1118.5,482 1118.7,474 1110,442 1104.5,394 1106.1,382 1114.4,354 1115.2,346 1114.2,338 1110,331.2 1106,328.1 1086,318 1074,314.1 1066,316.4Z"/>
<path fill="#00e39a" d="M154,90 1282.6,90 1289.7,114 1293.1,174 1297.2,190 1313.3,218 1332.9,246 1343.2,270 1349.8,294 1367.5,326 1374,335.2 1394.6,358 1410,382.8 1426.6,402 1429.9,410 1434.4,430 1447.3,466 1454,474.6 1462,479.9 1486,486.2 1502,493.3 1510,498.4 1524.7,514 1542,527.3 1548.1,534 1558.9,554 1562,566 1561.1,578 1557,590 1543,610 1522,632.1 1492.1,650 1474,663.1 1466,667.4 1454,670.5 1410,673.2 1370,686.3 1358,688 1346,685.4 1338,679.8 1333.3,674 1323.1,654 1317.3,646 1310,642.7 1286,639.4 1274,634.4 1262,624 1253.3,606 1246,600.3 1234,595.2 1218,591.6 1206,591 1170,594.1 1142,600.7 1114,603.1 1102,601.6 1062,585.3 1022,562 1014,558.7 994,555.8 966,559.5 954,559 946,556.2 926,544.6 910,537.5 894,533.2 866,528.2 850,523 818,509.4 805.1,502 797.2,494 786,475.6 778,470.2 770,471 750,480.6 742,483.1 734,483.9 722,482.1 711.8,478 662,452 634,446.4 610,436.4 582,428.3 554,414.1 546,413.8 522,416.7 486.3,410 470,409.9 458,412.1 402,427.9 382,425.3 342,426.9 322,425.2 306,427.8 282,423.9 258,430.9 214,437.1 186,443.8 178,441.8 166,435.9 150,434.1 150,90ZM1068.5,302 1058,307.5 1050,313.9 1028.2,338 1011.4,374 1010.3,382 1011.3,398 1022.8,458 1026.5,466 1042,478.7 1054,493.3 1062,500.1 1070,502.5 1086,503.3 1126,499.6 1128.9,498 1131.2,494 1131,486 1116.1,442 1111.9,398 1114.2,382 1124.3,350 1124.1,334 1118,322.2 1110,315.5 1082,301.5 1078,300.5 1070,301.4Z"/>
<path fill="#00dda5" d="M154,90 1273.9,90 1281,106 1284.2,118 1289.1,178 1294,195.3 1307.6,222 1324.3,242 1330,251.8 1338.7,274 1343.2,298 1366.4,334 1388.5,362 1420.9,410 1426.4,430 1442,470.8 1450,481.7 1458,487.4 1486,491.9 1506,502.6 1521,518 1542,534 1552,550 1557.5,566 1557.3,578 1551.8,594 1543.8,606 1523.5,630 1490,649.8 1470,663.7 1454,668.5 1410,671.3 1370,681.9 1358,683.3 1346,680.2 1338.5,674 1324.7,650 1318,642.5 1314,640.6 1290,636.5 1278,631.8 1265.6,622 1258.2,606 1254,601.1 1242,593.2 1226,586.8 1202,580 1178,578 1166,580.6 1150,587.7 1138,591.2 1114,595 1102,593.3 1084.9,586 1054,563.9 1038,556.5 1022,542.3 1014,541.6 994,544.4 966,551.7 958,552.2 950,550.7 910,530.5 858,520.5 814,502.4 803.5,494 791.5,474 782,465.6 778,464.3 770,464.9 742,478.2 734,479.5 722,478.1 711.9,474 662,445.8 634,439.2 610,428 586,419.7 576.3,414 566,404.6 558,400.9 550,401.9 534,407.8 526,409.3 518,409.2 494,404.2 478,402.9 462,404.3 438,410.4 426,411.9 382,412.2 346,415.5 318,411.6 282,413 258,419.9 238,422 190,430.8 182,430.3 162,425.1 150,425.2 150,90ZM1068.4,290 1050,300.5 1034,313.8 1014.3,326 1010.2,334 1000.1,366 997.3,382 997,398 1004.4,418 1012.1,446 1014.1,466 1018.3,474 1038,486.6 1054,510 1058,512.8 1070,513.7 1106,510.3 1130,515.2 1140,514 1143.8,510 1145.1,506 1144.4,498 1122.9,446 1119.8,430 1118.3,410 1119.6,390 1133.4,346 1132.6,330 1124.8,314 1118,305.5 1110,298.8 1082,287.7 1070,289.2Z"/>
<path fill="#00d9af" d="M154,90 1264.8,90 1277,118 1283.5,158 1285.7,186 1298,217.8 1305.5,230 1320.3,246 1327.3,258 1333.2,274 1334.2,294 1336.6,302 1350,317 1363,338 1381,362 1412.9,414 1438,476.4 1446,486.3 1457.3,494 1482,495.7 1494,500.8 1501.3,506 1516.7,522 1534,533.2 1539.2,538 1547.1,550 1553.2,566 1553.6,578 1548.7,594 1541.3,606 1522.6,630 1493.5,646 1470,661.9 1458,666 1410,669.4 1362,678.8 1350,677.2 1342,671.8 1328.3,650 1321.4,642 1314,638.1 1290,632.9 1278,627.1 1270,620.1 1262,605.3 1254,596.1 1242,588.3 1206,570.1 1178,561 1170,560.8 1156.5,570 1142,576.8 1118,584.2 1110,585.1 1098,582.4 1090,578.3 1075.7,566 1069.4,558 1065.4,546 1067.5,534 1075.5,526 1090,520.4 1102,518.7 1114,520.7 1130,527.8 1150,542.4 1154,543.8 1159.5,542 1162.3,534 1161.4,522 1157.9,506 1130.9,454 1127.5,442 1124.4,422 1123.8,406 1125.2,394 1142.2,342 1140.5,326 1132.9,310 1114,283.5 1100,274 1086,268.4 1078,267.4 1070,268.9 1050,280.2 1029.1,298 1010,309.6 1003.3,318 996.9,330 991.9,346 985.8,378 983.3,406 985.9,414 994,426 1002,445.4 1005.3,474 1015.9,490 1017.9,498 1009.2,514 1002,523.2 979.3,538 962,543.4 954,543.6 946,541.3 910,523 862,515.8 822,500.5 810,493 794,469.2 782,459.9 770,459.2 746,471.4 738,474.1 726,474.7 718,472.6 686,454.3 666,440.9 638,433.3 610,418.9 590,411.2 582,405.9 570,394.2 562,390.8 554,391 534,400.9 522,403.1 494,398.1 478,397.1 458,397.8 438,402 430,402.4 410,397.5 402,396.9 370,403.6 342,406 322,402.9 302,397 294,396.6 270,401.3 218,415.5 206,416.9 178,414.3 162,409.4 150,408.1 150,90Z"/>
<path fill="#00d4b8" d="M154,90 1256.4,90 1266.7,114 1277.3,150 1279.8,162 1280.8,186 1290,214 1298.2,230 1319.2,254 1327,270 1329.1,282 1327.6,302 1329.9,306 1347.3,322 1391.3,390 1401.5,414 1419.8,446 1427.9,470 1432,478 1442.6,490 1454,498 1462,499.9 1478,499.4 1486,501.9 1492.7,506 1510,525 1530,536.1 1536.6,542 1544.5,554 1549.1,566 1550,578 1545.8,594 1538.8,606 1522,629.4 1494,644.2 1470,660.2 1458,664.2 1438,664.8 1398,668.9 1362,674.6 1354,673.8 1346,670 1342,666 1329,646 1322,639.8 1294,630.9 1282,625.1 1273.9,618 1264,602 1254,591.2 1226.8,574 1210,561.5 1190,551.8 1182,543.1 1167,506 1138.1,458 1133.8,446 1131.6,434 1129.4,414 1130,400.9 1133.9,386 1149.7,346 1151.1,338 1149.3,326 1144.4,314 1132.4,294 1123.1,274 1118,266.8 1106,255.6 1082,247.1 1070,247 1062.8,250 1046,262.2 1030,277.6 1006,288.3 1002,293.4 994,310.9 981.7,326 979.7,334 978,358 967,418 969.6,426 982,441.7 990,454.4 999.1,494 996.2,506 987.9,518 974,529.1 958,533.8 950,533.7 942,531.4 914,515.3 902,513.1 862,509.7 826,496 814,488.4 797.7,466 790,458.7 782,454.3 770,453.4 762,456.2 738,468.5 730,470.1 722,469.4 695.3,454 670,436.2 634,423.5 610,408.6 590,400 574,386.7 566,382.8 554,383.1 534,394.2 522,396.7 494,392.6 458,390.2 430,392.3 398,387.2 370,394.7 334,396.6 322,394.3 302,385.7 282,384.6 258,385.5 238,388.8 230,391.8 218,401.6 210,402.7 194,396.1 170,389.7 150,392.4 150,90ZM1094,529.9 1102,528.3 1114,530.6 1122,534.7 1129.1,542 1131.5,550 1130.1,558 1126,564.1 1118,569.7 1110,571.9 1099.2,570 1090,563.3 1082.7,554 1081.4,550 1082,542 1087.5,534 1093.9,530Z"/>
<path fill="#00cdbf" d="M154,90 1247.2,90 1254.6,106 1262.3,130 1274,155.5 1275.9,166 1276.2,190 1286,219 1297,238 1315.4,258 1323.4,274 1324.4,286 1319,302 1319.9,306 1323.6,310 1338,319.5 1344.2,326 1358,349.8 1372,370 1385.3,394 1390.2,418 1412.2,446 1418,466 1421.9,474 1435.5,490 1450,500.6 1458,503.6 1478,503.8 1486,507.4 1492.4,514 1502,528.2 1526,539.2 1534,545.7 1542,558 1545.9,570 1546.1,582 1542.8,594 1522,627.9 1490,645 1470,658.4 1458,662.4 1438,662.9 1362,670.3 1354,669.3 1346,664.7 1332.7,646 1323.5,638 1299.5,630 1284.1,622 1276,614 1265.3,598 1258,589.7 1236.7,574 1218,557.5 1195.4,542 1186,529 1171.9,502 1154.8,478 1143.6,458 1139.1,446 1135.2,410 1139.2,390 1159,342 1159.1,330 1152.9,314 1139,290 1131.5,266 1126,255.2 1114,241.1 1094,227.1 1086,226.6 1074,229.4 1058,230.7 1046,235.3 1035,246 1026.8,262 1022.5,266 1002,270.9 994,276.7 990,284 983.6,302 969.1,318 967.6,326 969.3,342 968.8,354 960.5,394 951.1,414 949.1,426 951.2,434 957.4,446 962,463.3 966,468.9 977.5,478 979.5,482 981.3,498 977.8,510 970.1,518 958,523.1 946,523.7 934.4,518 926,508.8 918,503.4 902,502.1 878,504.7 866,504.3 854,501.4 834,493.1 818,483.7 798,458.9 790,452.6 782,448.8 774,447.5 766,448.3 738,462 730,464.1 722,463.6 705.4,454 674,431.4 639.9,418 614,401.1 594,392.7 574,377.9 566,374.4 554,374.7 534,387.1 522,389.6 478,386.2 454,382.4 426,383.7 394,379 386,379.8 370,384.3 350,382.8 330,386 310,377.6 290,374.2 262,367.2 254,367.4 238,371.3 230,371.8 202,368.6 182,368.3 150,355.4 150,90ZM1102,545.9 1106,543.5 1110,544.1 1112.9,546 1114,550.2 1110,553.9 1106,553.4 1102.1,550 1101.9,546Z"/>
<path fill="#00c6c6" d="M154,90 1234.7,90 1244.8,106 1252.6,130 1266,149.8 1269.9,158 1271.4,166 1270.3,190 1282.9,226 1292.4,242 1310,259.9 1318.7,274 1320.2,286 1317.7,294 1312.4,302 1312.5,306 1318,313.5 1334,322.8 1341.1,330 1354,354.6 1369.1,378 1376.3,394 1377.1,418 1382,428.9 1400.3,446 1404.5,454 1408.9,470 1415.3,478 1428.1,490 1442,500.5 1452.9,506 1462,507.9 1474,507.7 1481,510 1484.8,514 1492.6,530 1497.1,534 1522,542.4 1530,547.9 1537.5,558 1542.1,570 1542.7,582 1539.9,594 1522,626.4 1518,630 1490,643.4 1470,656.7 1462,659.9 1454,661.1 1366,665.9 1358,665.5 1350,662.7 1336.6,646 1328,638 1297.6,626 1285,618 1258,584.4 1200.7,534 1190,520.6 1175.7,498 1157.8,474 1144.3,446 1142.1,430 1141.7,410 1143.9,398 1151.6,374 1166.9,342 1167.2,330 1161.1,314 1145,286 1138.6,262 1134,252.3 1122,236.5 1102,215.6 1094,209.8 1086,208.5 1070,215.6 1058,215.5 1010,196 1002,199.9 990,210.3 974,232 962,232.2 956.9,234 955.9,242 964.4,266 969.2,286 969.2,294 960,314 958.9,322 959.9,346 958.8,354 950.5,390 939.6,410 936.9,418 931.3,454 927.9,462 922,469.6 902.8,486 882,496.5 866,498.1 846,492.3 826.1,482 818,475.1 800.6,454 790,446.7 782,443.5 770,441.8 762,442.7 738,454.2 730,456.3 718,454.1 677.2,426 649.2,414 622,397.1 594,384.7 574,369.9 562,365.2 550,366.6 543.1,370 534,377.1 526,380.1 510,382 490,381.9 454,375.3 426,376.8 390,371.3 366,371.2 350,367.6 334,370.9 326,370.9 314,367.6 294,364.8 274,356.7 258,353.2 250,353.5 230,358.9 218,358.7 182,351.1 162,343.9 150,341.4 150,90ZM950,500.9 954,499.8 958.2,502 958.5,506 955,510 948.5,510 945.9,506 948.4,502Z"/>
<path fill="#00bece" d="M154,90 1222.4,90 1236.1,110 1245.6,134 1262,154 1266,162 1266.4,170 1263.5,182 1263.5,190 1280,234 1290.4,250 1306,264 1314,274.6 1316.3,286 1313.9,294 1308.3,302 1308.4,310 1314,317.3 1330,326.1 1337.7,334 1366.1,390 1367.5,398 1367.1,418 1370.1,438 1368.5,442 1366,444.1 1352,450 1346.6,454 1343.2,462 1344,470 1350,475.5 1358,475.6 1366,472.8 1382,463.8 1386,463.9 1408.6,482 1442,505.1 1454,510.3 1475.6,514 1479.1,518 1484.3,530 1490,537 1522,547.5 1530,554.1 1536.9,566 1539.3,578 1536.9,594 1523.3,622 1518,628.5 1494,639.6 1470,655 1462,658.3 1410,662.6 1386,660.8 1362,661.1 1354,659.4 1350,656.9 1337.2,642 1330,636.3 1312.1,630 1290.8,618 1282,609.4 1258,578.5 1234,553.6 1210,533 1194,514.9 1166,477.9 1158.7,466 1149.7,446 1147.7,434 1147.6,422 1149.5,406 1157.3,374 1174.3,342 1175.4,334 1174.2,326 1169.3,314 1152.1,286 1143.5,258 1134,241 1106.9,206 1086.7,190 1078,180 1074,177.3 1058,180.5 1038,178.3 1030,175 1018,166.4 1010,164.7 1006,165.3 1002,167.2 990,178.8 978,187.4 966,202.5 962,204.3 946,206 938.8,210 935.5,214 931.8,226 935.2,258 943.6,274 950.3,302 950.6,334 948.6,350 939.5,386 930.1,406 915.3,454 909.6,462 890,483.6 878,490.2 866,491.8 850,488 834,479.9 822,470.4 810,455.5 802,448 794,442.9 782,438.1 770,435.8 762,435.9 750,438.8 734,446.4 726,447.1 718,444.9 682,421 659.4,410 633.1,394 602,381.6 574,362.4 562,356.6 550,357.5 526,368.6 511,374 490,376.1 454,368.7 430,370.3 418,369.3 382.3,362 350,353.2 326,357.3 302,355.6 274,345.7 254,341.1 230,345 218,344.9 182,338.3 162,329.1 150,326.7 150,90ZM1289.9,438 1287.9,442 1288.4,458 1292.4,470 1295.7,474 1302,477.2 1306,477.3 1312.9,474 1316.4,470 1319.3,462 1319.6,454 1317.9,450 1310,442.7 1302,438.6 1294,436.9 1290,438Z"/>
<path fill="#00b5d5" d="M154,90 1209.8,90 1224.4,106 1240.1,138 1254.2,154 1259.6,162 1260.6,166 1255.7,182 1255.9,190 1276.6,242 1285.5,254 1306,272.2 1310.2,278 1312,290 1310.6,294 1304.3,302 1303.1,310 1304.3,314 1310,320.9 1326,330.2 1333.3,338 1358.6,394 1358,427.1 1355.1,434 1350,437.5 1342,439.3 1334,438.6 1294,427.4 1286,429.5 1282,433.8 1280.6,442 1283.4,462 1286,471.5 1289.6,478 1298,484.2 1306,485.5 1330,480.5 1342,484.3 1350,485.2 1378,479.7 1386,480.3 1394,483.1 1410,490.6 1442,509.5 1470,519.9 1480.3,534 1489,542 1510,547 1522,552.5 1530,560.9 1534,569.3 1535.7,582 1533.8,594 1522,621.6 1518,626.9 1494,638 1470,653.3 1462,656.6 1438,657.6 1410,660.8 1358,654.8 1350,649.9 1331.6,634 1310,626.1 1294,615.8 1284,606 1262,576.1 1242,552.8 1218,531.7 1194.2,506 1166.4,470 1154,442 1153.5,422 1161.3,378 1166.1,366 1181.2,342 1182.7,334 1181.9,326 1177.1,314 1158.9,286 1146,251.2 1126,216.2 1113.2,198 1095.5,182 1086,164.6 1078,158.3 1070,157.3 1058,159.5 1050,159.3 1026,152.5 998,140.8 986,142.6 978,149.1 972,158 950,182.1 926,196.5 914,214.4 900.2,230 898.1,234 898.4,238 910,267.8 914,274 930,289 938,306.2 941.6,318 941.4,334 930.1,382 922.1,402 916.6,422 904.8,454 894,469.5 886,478 878,483 866,485.4 850.3,482 838,475.5 826.5,466 808.6,446 794,437 778,431.3 766,429.1 750,430.1 730,435.9 718,434.3 669.5,406 650,391.8 609.7,378 562,348.5 558,347.7 550,349.2 530,358.5 502,367.6 486,368.6 454,362.1 430,363.3 417.2,362 398,356.9 370,345.4 358,342.4 346,342.1 330,344.7 322,344.6 301.9,342 254,328.2 230,332.7 194,328.4 186,326.2 170,317.1 150,312.5 150,90Z"/>
<path fill="#00addc" d="M154,90 1198.6,90 1218.7,110 1234,138.5 1250.8,162 1251.4,170 1247.8,186 1259.5,214 1268.5,242 1276.5,254 1302,277.2 1307.3,286 1306.1,294 1299.4,302 1298,306 1298.1,314 1303,322 1322,335.5 1327.6,342 1339.3,366 1350.2,394 1351.1,402 1349.6,414 1346.4,422 1342,425.3 1334,425.8 1294,420.1 1285.8,422 1278,429.2 1275.5,438 1278.6,462 1281.5,474 1286,482.6 1294,489.7 1302,492.1 1342,493.3 1378,489.7 1390,490.8 1402,493.7 1438,511.8 1462.5,522 1468,526 1478.2,538 1486,544 1490,546 1506,549.3 1517.2,554 1526,561.9 1530.3,570 1532.1,582 1530.4,594 1521.9,618 1516.8,626 1490,638.6 1464.7,654 1458,655.5 1438,655.8 1414,659.2 1402.4,658 1382,652.5 1358,648.4 1334,631.9 1314,624.6 1297.7,614 1282,597.6 1262,567.7 1247.8,550 1202,506.4 1175.5,474 1170,465.8 1160.8,446 1158.6,438 1158.4,426 1166.5,378 1171.9,366 1186.1,346 1189.1,338 1189.7,330 1186.5,318 1162.9,282 1150,249.2 1126,200.2 1118,187.9 1102,173.3 1090,152.5 1054,128.3 1034,123.3 1002,104.2 994,102.3 983.6,106 976.3,122 962.4,142 950,154.1 917.7,166 906,172.2 898.7,178 895.9,186 898.5,198 897.9,202 894,207.3 886,211 870,212.2 865.9,214 862,218.6 861.1,230 864.5,238 870,243.8 889.6,258 903.3,278 915.2,290 921.1,298 928.7,318 930.7,330 930,342 922.7,378 913.3,402 899,450 892.5,462 882,473.4 874,477.7 866,479 854,476.9 842,471 834,464.4 812.7,442 798,432.2 778,424.7 766,422.2 746,422.3 726,425.2 718,424.2 679.8,402 662,385.3 618,374.4 571,346 562,342 550,341.8 526,352.9 490,359.5 446,354.6 426,354.5 408.9,350 378,336 362,330.4 350,327.3 332.4,326 314,315.5 290,310 281.1,302 274,299.8 266,300.3 250,308.4 234,314.2 222,315.8 194,314.3 178,307.4 150,300.1 150,90Z"/>
<path fill="#00a6e2" d="M154,90 962.4,90 956.8,102 943.2,114 942.7,130 938,134.6 930,136.4 922,135.9 918,134 910,126 898,121.4 890,123 878,129.1 866,130.7 859.8,134 857.5,138 861.4,150 861.8,158 850,178.3 845.5,210 846.9,218 853,234 857.6,242 882,264.3 908.3,298 916.9,322 919.4,338 915.5,374 899.6,414 892.6,450 888.6,458 882,465.9 874,471 866,472.5 854,470.1 846,466 814,435.3 798,424.6 779.6,418 766,415.3 746,414.4 726,416.3 718,414.9 690,398 675.2,382 670,378.3 662,375.6 622,367.8 575.1,342 562,336.9 554,335.5 546,336.5 530,344.7 522,347.1 478,350.3 462,349.6 418,340.3 382,327.2 346,311.5 326,298.9 278,284.7 262,284.2 242,290.5 234,291.6 210,286 206,286.8 194,293.4 186,295.2 174,294.6 162,290.1 154.3,282 150,271.2 150,90ZM1098,91.9 1098.7,90 1189.3,90 1214,114.2 1241.1,158 1243.8,166 1242.3,186 1253.5,214 1262.6,246 1270,257.4 1298.1,286 1298.8,290 1291.6,306 1292.9,318 1298.7,326 1314.4,338 1321.1,346 1334.1,370 1340.7,394 1339.2,406 1334,411.5 1326,413.1 1290,414.1 1281,418 1274,425.4 1270.8,438 1274.4,466 1278,478.1 1284.6,490 1294,497 1306,499.4 1334,501.1 1374,497.5 1402,500.1 1458,524.5 1483.7,546 1506,552.4 1514,556.1 1524.3,566 1528.3,578 1527.4,590 1518,622 1513.9,626 1490,636.9 1469.4,650 1458,653.7 1438,654 1410,657.3 1382,647.7 1358,642.1 1334,628.2 1314,620.8 1294,605.4 1280.8,590 1266,563.4 1254,547.7 1242,534.7 1210,506.8 1194,489 1174,461.2 1165.1,442 1163.2,430 1171.9,378 1175.6,370 1190.5,350 1194.8,342 1196.8,334 1196.2,326 1189.4,310 1174,290.4 1166,277.5 1131.8,194 1122,177.4 1110,162 1090.2,122 1088.3,110 1096.9,94Z"/>
<path fill="#009fe6" d="M154,90 821.8,90 814.4,106 814,110 817.5,122 816,142 818,147.7 827.7,162 831.8,178 830.5,190 823.1,206 822.8,214 824.9,218 838,229.9 851.1,246 872.8,266 891.7,290 901.2,306 905.5,318 907.9,330 906.5,374 888.4,414 887.1,422 888.1,442 886.4,450 882,457.6 878,461.5 874,463.9 866,465.5 854,462.5 846.7,458 810,422.9 798,415.4 786,411.9 766,408.9 746,407 722,407.1 714,403.5 698,393.2 682,376.7 674,370.9 630,361.3 598,347.7 579.1,338 562,332.1 554,330.3 546,330.4 526,339.3 518,341 490,340.4 462,342.3 445.8,338 414,325 394,321.5 378,315.7 351,302 334,282.1 326,277.3 318,274.5 298,275.4 282,271.6 270,270.5 234,275.5 226,273.5 206,264.2 198,265.3 182,275.8 178,275.6 174,270.3 168.3,254 162,243.8 150,240 150,90ZM834,90 839.1,90 851.4,106 852,110 850,113.1 842,116 834.9,114 831.9,110 832.9,90ZM1114,90 1174,90.4 1186,97.3 1210,118.3 1236.6,162 1238.4,170 1239.1,190 1248,214 1256.1,246 1262,258.5 1274.6,274 1284.7,290 1283.9,310 1287.1,322 1293.3,330 1312.3,346 1326.7,370 1329,386 1326,394.7 1318,399.8 1282,410.6 1274,416.4 1268.1,426 1266,438 1269.6,466 1274.5,482 1282,496.7 1286,500.9 1294,504.8 1322,508.9 1334,508.9 1366,503.9 1394,504.7 1406,507 1454,526.7 1478.6,546 1511.2,558 1518,563.5 1522.4,570 1524.6,578 1524.4,586 1518.8,602 1517.4,618 1514,623.2 1486,637.4 1465.9,650 1458,651.8 1438,652 1414,655.8 1404.5,654 1382,642.2 1358,636.1 1338.1,626 1317.1,618 1302,606.7 1285.4,590 1271.9,562 1262,547.7 1246,529.1 1222,510.3 1209.1,498 1189.1,474 1178,455.8 1171.1,442 1168.3,430 1174.3,390 1179.9,374 1200.6,346 1203.9,338 1204.3,330 1197,310 1178,287.8 1166,268.1 1151.2,230 1139.8,194 1125.4,166 1108.4,126 1106,118 1105.4,110 1107.6,102 1113.8,90Z"/>
<path fill="#0099eb" d="M154,90 796.8,90 787.3,110 789.4,130 786.7,138 766,162.7 744.3,174 741.5,178 741.3,186 747.3,202 753.6,210 758,213.1 772.7,218 798,221 806,223.6 822,233.3 850,254.8 866.4,270 882.4,290 889.7,302 897.1,326 896.3,374 893.5,382 879.6,406 876.6,414 876.6,422 880.9,438 879.5,450 874,455.8 866,457.6 858,455.8 850,451 810,411.9 802,406.9 794,404.8 770,403.3 722,397.6 706,389 682,366.4 670,360.3 642,355.6 602,342.5 582,333.5 550,324.5 542,325.2 526,332.2 518,334.3 506,334.5 486,332.3 466,334.4 458,333.4 442,327.1 418,314.2 394,311 381.4,306 358,292.4 338,269.9 327.5,262 318,257.5 254,246.7 246,248.5 238,252.4 230,252.9 210,243.3 190,239.8 186,234.2 179.5,218 173,210 173.6,198 170.1,190 159.9,182 150,178.6 150,90ZM1130,97.5 1146,96.5 1178,102.3 1190,109 1202,118.1 1214,132.3 1227.6,154 1232.9,166 1236.4,194 1244.1,218 1248,238 1254.7,258 1266.4,278 1271.5,290 1277.4,322 1285.9,334 1310,354.2 1317.9,366 1318.2,378 1314,384.8 1301.7,394 1274,408 1268.4,414 1262.7,426 1261,442 1264.7,466 1274,494.8 1279.7,506 1284,510 1290,512.7 1326,518 1338,517 1362,510.4 1394,510.7 1406,512.4 1452.7,530 1478,548.4 1502,556.4 1510,560.6 1518.7,570 1521.2,582 1515.6,598 1515.6,614 1514,619.2 1510,623.4 1486,635.6 1466,647.8 1458,649.8 1438,650 1418,653.8 1410,653.5 1402,650 1386,637.7 1362,631.7 1318,613.2 1290,589 1285.6,582 1276.7,558 1257.1,530 1249.1,522 1226,506.2 1218,499.1 1190,464.9 1174.4,434 1173.5,426 1174.9,414 1183,382 1189.9,370 1209.7,346 1213.3,338 1213.7,330 1203.4,306 1178,280.1 1170,267.3 1164.2,254 1155,226 1147.4,194 1133.5,166 1126.9,138 1118.5,114 1119.3,106 1122,102 1128.7,98ZM154,209.3 162.5,210 157.1,214 150.7,214 151.1,210Z"/>
<path fill="#0090f0" d="M154,90 743.9,90 750.1,110 750,118 739.2,134 738.3,150 736.9,154 727.6,166 724.4,174 724.4,178 727.3,186 741.7,210 750,218.6 762,224.7 794,231.9 810,237.6 846,260.4 857,270 873.3,290 878.8,298 882.2,306 887.8,334 886,370 882,383.5 869,402 865,410 864.7,422 870,435.3 870.8,442 870,444.1 866,446.5 861.6,446 854.5,442 842,426.8 829.3,418 817.9,406 810,400 798,396.9 766,396.9 722,388.4 709.6,382 686,359.8 670,350.1 646,347.1 610,338.4 586,329.4 550,318.7 542,318.9 522,326.5 514,328 506,328 486,324.6 466,325.6 458,324.5 446,319.9 422,305.4 394,296.6 378.3,282 358,274.2 338,256 322,246.6 290,235.9 270,231.7 238,217.5 218,218.3 214,217.3 209.7,214 208.2,210 208.3,198 207,194 202,188.6 178,173.8 150,167.6 150,90ZM1150,109.7 1170,108.9 1186,114.5 1198,122.4 1206,129.6 1220.6,150 1229.6,170 1232.8,194 1239.4,218 1243.1,238 1258.4,286 1264,322 1271.6,334 1286,348 1303.5,362 1306.2,366 1306.3,370 1304.2,374 1296.8,382 1287.3,390 1274,398.2 1266,405.8 1261.5,414 1257.3,426 1255.4,438 1255.9,450 1268.7,502 1268.7,514 1266,517.9 1258,516.3 1246,511.2 1225.7,498 1198,465.6 1180.6,434 1179,426 1180,414 1182.7,402 1188.8,386 1195.7,374 1211.5,358 1223.7,342 1228.7,334 1230.2,326 1228.2,322 1218,311.2 1209.2,298 1190,285.8 1182,278 1174,266.6 1168.1,254 1159.9,226 1154.5,194 1142.3,170 1138.7,158 1138.1,142 1140.3,118 1142.2,114 1148.8,110ZM1362,517.5 1398,516.5 1418,520.6 1450,532.4 1475.7,550 1502,559 1512.1,566 1516.9,574 1517.7,582 1512.4,598 1512.6,614 1511.4,618 1506,623.2 1462,647 1438,647.8 1418,651.7 1410,651.2 1401.6,646 1390.4,634 1386,631.4 1362,625.7 1323,610 1302.3,594 1294.2,586 1290.1,578 1284.4,558 1272.3,534 1271.5,526 1274,522.9 1298,523.3 1322,527.1 1334,527.4 1342,525.9 1360,518Z"/>
<path fill="#0087f5" d="M154,90 633.1,90 638,92.1 640.7,90 696.2,90 703.6,102 706.7,118 714.6,138 714,146.1 705,166 705.6,174 712.6,186 738,217.1 746,224.2 757,230 806,245.2 826,257.9 842,266 851.4,274 871.7,302 875.5,314 879.4,338 878.5,350 872.7,378 867.8,386 854,398.9 846,403.8 838,404.7 830,401.6 818,393.2 810,390.5 798,389.5 770,390.8 722,379.5 710,372.2 686,349.8 670,340.2 646,338.5 610,331.8 570,320.5 550,312.2 542,312.4 522,319.3 510,321.3 482,315.9 462,315.8 454,313.8 447.3,310 434,298 411.5,282 386,268.3 366,261.9 358.3,258 342,242.7 334,237.3 326,233.6 310,229.2 290,217.4 254,206.4 236.2,198 214,174.8 190,157.4 182,155.4 162,155.3 150,150.2 150,90ZM1166,117.9 1174,118.1 1182,120.6 1202,132.9 1214,147.3 1224.1,166 1242.2,254 1244.9,274 1244.8,282 1242,289.1 1238,292.4 1234,293.4 1202,285.5 1194,281.9 1182,271.1 1172.1,254 1164.5,226 1160.6,194 1158,185.6 1148.5,166 1145.8,154 1146.9,142 1151.6,130 1158,121.4 1165.6,118ZM1246,335.8 1254,335.3 1262,339.9 1269,346 1277.9,358 1282,370 1279.6,378 1263.6,394 1258.3,402 1250.5,430 1248.8,442 1249.2,454 1258.3,482 1259.7,490 1259,498 1255.9,502 1250,503 1245.7,502 1237.8,498 1230,491.1 1218.5,474 1201.7,458 1189.7,438 1185.4,426 1185.4,418 1187.9,406 1198,385.2 1203.3,378 1218,364.8 1242.4,338ZM1386,522 1410,522.9 1446,534.1 1474,551.7 1502.8,562 1511.7,570 1514.5,578 1513.7,586 1509.7,598 1509.3,614 1507.7,618 1503.6,622 1462,644.6 1438,645.6 1414,649.9 1406,645.6 1390,626.7 1382,623.5 1362,619.2 1337,610 1326,604.1 1307.4,590 1302,584.5 1298.3,578 1295.5,562 1290,546 1289.6,542 1291.5,538 1298,535.4 1322,538.4 1334,538 1346,535.1 1366,524.5 1385.4,522Z"/>
<path fill="#037df9" d="M154,90 610,90 614,102.2 622,115.4 626.7,118 644.3,122 649.4,126 651.5,130 654.1,146 656.9,150 674,158 698,189.8 736.6,226 762,239 806,254.6 839.6,274 846,280.1 865.1,310 868,322 870.1,342 862.3,370 858,377.8 846,387.7 838,390.2 814,382.9 770,383.4 730,373.4 718,367.4 694,346 678,334.6 670,331.1 646,330.3 606,324.4 570,315.3 558,307.8 550,304.8 542,305.6 518,312.8 510,313.6 502,312.5 482,306 462,303.8 454,298.1 442.9,282 430,271.2 422,267.5 406,263.4 386,252.2 369.6,246 350,229.3 314,212.6 298,196.1 290,190 278,187.1 258,188.8 250.6,186 245.1,178 241.2,162 226,147.6 210,138.8 182,133.8 175.9,130 166,115.1 150,108.8 150,90ZM1166,129.6 1170,127.8 1178,127.9 1190,132.1 1198,136.7 1210,149 1219.9,166 1223.7,178 1236.6,254 1235.7,266 1234,270.2 1230,274.5 1214,279.7 1206,279.8 1198,277.7 1186,269.1 1176.4,254 1169,226 1166,193.9 1154.3,154 1156.4,142 1161.2,134 1165.4,130ZM1250,352.6 1254,352.8 1258,355.6 1261.3,362 1261.7,366 1258.9,374 1247.5,394 1242,436.6 1238,452.7 1234,460.3 1230,461.1 1218,457.8 1206,448.8 1194.7,430 1193,422 1193.5,414 1197.9,402 1206,390.9 1229.1,374 1247.3,354ZM1374,530 1390,527.4 1406,527 1434,533.3 1450,539.3 1473.5,554 1498,562 1508.3,570 1510.5,574 1511.4,582 1507.2,598 1505.9,614 1503.8,618 1492.8,626 1462,641.9 1438,643 1414,646.5 1407.6,642 1398,626.3 1390,618.3 1382,615.4 1362,611.6 1342,603.6 1312.7,582 1310,578 1308.7,570 1310,563.5 1313.9,558 1350,544.5 1366,533.7 1373.9,530Z"/>
<path fill="#0c74fc" d="M178,90 572.9,90 578,101.2 586.5,110 587.6,114 585.1,130 588.2,138 594,144.9 606,150.2 630,151.1 634,152.5 648.2,162 670,172.6 702,207.3 728.8,230 782,256.8 802,262.8 813.4,270 833.1,286 843,302 853.8,314 856.9,322 856.4,334 848.9,362 842,372 834,375.4 818,374.3 778,375.9 770,375.3 738,367.1 730,363.9 702,342 678,326.1 670,323 610,318.7 578,312.5 570,309.2 558,298 554,296.4 546,297.3 522,304.7 510,305.2 502,303.1 486,295.4 466.6,290 462,286.4 442,263.2 434,256.7 426,253.6 408.4,250 402,245.3 390,230.4 370,224 354,215.4 339.8,210 327.7,202 315.2,190 302,169.6 278.6,154 270,137.5 262,134.6 246,137.3 238,134.5 218,123.4 198,121.6 194,120 188.3,114 174.5,90ZM1174,137.8 1186,138 1198,143.6 1210,156.5 1218.7,174 1222,188.9 1230.8,254 1228.8,262 1226.2,266 1218,271.6 1206,273.8 1194.4,270 1185.8,262 1179.4,250 1173.5,226 1170.6,194 1163.5,158 1165.3,146 1167.9,142 1173.5,138ZM1214,401.6 1222,402.1 1226.5,406 1230.4,414 1232.3,430 1230,438 1226,442 1218,442.1 1214,439.7 1208.9,434 1204.9,426 1203.6,418 1205.3,410 1210,403.8 1213.1,402ZM1386,533.9 1410,531.9 1438,537.9 1450,542.7 1470,554.9 1498,564.6 1504.8,570 1507.3,574 1508.4,582 1502,614.7 1498,619.7 1490,625.2 1462,639 1418,642.6 1414,641.5 1407.9,634 1400.6,618 1394,610.5 1382,604.3 1362,600.7 1352.6,594 1344.1,574 1344.1,566 1346.6,562 1370,541 1378,536.2 1385.4,534Z"/>
<path fill="#166afe" d="M250,90 470.8,90 474,92.7 478,92.4 482.7,90 502.4,90 506,91.7 542,114 547.8,122 566,138.8 573.4,150 578.5,162 585.8,170 598,173.6 614,170.8 634,170.3 646,173 658,177.8 674,189.7 704.6,222 714,230.2 727.1,238 750,247.9 774,265.4 798,273.1 806,278.3 826,299 838,314 841.7,322 842,330 837.1,342 825.3,358 811.7,366 794,368.7 774,367.9 738,358.3 726,351.1 706,336 682,320.5 674,316.8 662,314.6 610,312.1 582,307.4 574,304.1 562,289.7 554,286.7 546,288 533.6,294 522,297.2 510,296.6 502,293.3 482,279.5 466,271.7 442,247 434,242.9 418,238.7 414,236.1 410.3,230 408.5,214 406.9,210 402.7,206 394,203.9 378,203.3 370,198.1 362.4,182 358.3,178 329.8,162 325.2,154 320.1,134 314,126.8 306,122.8 290,119.9 274,112.8 263.4,106 247.8,90ZM1182,145.7 1194,148.2 1202,154 1212.6,170 1217.9,186 1225.3,250 1223.4,258 1220.8,262 1215.6,266 1210,268 1202,267.8 1192.2,262 1186,253.6 1180.9,238 1175.8,210 1171.3,162 1174,150.7 1180.8,146ZM1398,537.5 1418,537.1 1442,542.4 1470,557.5 1495.9,566 1504.1,574 1505.4,582 1499,614 1496,618 1486,625.1 1462,635.8 1426,637.6 1418,636.4 1412.6,630 1407.3,614 1404.4,610 1390,597.5 1370,587.6 1364.5,582 1362.7,578 1362.1,570 1364.9,562 1369.7,554 1376.6,546 1382,542.4 1395.5,538Z"/>
<path fill="#1d61ff" d="M294,90 370.3,90 370.4,102 371.8,106 374,108.5 378,108.7 390,104.8 398,100.4 402,97 406.2,90 453.6,90 456.8,102 462,111.4 470,119.7 478,124.7 482,124 490,118.2 494,117.6 510,117.9 518,121.2 522.6,126 532.3,142 563.7,174 574,181 594,189 602,190.9 634,184.4 646,185 654,187.8 678,204.7 701.7,230 710,236.7 742.9,254 763.8,270 794,285.2 822.5,310 828.5,322 827.6,330 825.4,334 810.5,354 806,358 798,361.1 790,361.8 774,359.9 738,349.8 686,314.5 675.9,310 650,306.7 610,305.2 588.6,302 578,297.3 562,281.5 550,276.9 542,277.7 527.7,286 522,287.7 514,287.8 506,285 498,278.4 486,264.2 470.4,254 443,226 438.4,218 430.3,194 427.4,190 418,186.9 394,188.8 390,188.6 384.4,186 374.2,170 363.5,158 358.1,146 358.7,142 369.9,134 373.1,130 373.1,126 370,120.9 366,120.2 354,127.7 346,128.4 330,118.4 318,103.2 310,95.9 302,92.2 291.2,90ZM1182,157.1 1186,154.9 1190,154.8 1198,158.2 1206,167.9 1212.7,182 1216.2,198 1219.8,242 1219.6,250 1216.2,258 1210,262.2 1202,262 1194,256.1 1188.6,246 1182,219.3 1178.6,198 1177.8,170 1181.3,158ZM1406,541.9 1422,541.7 1442,545.6 1470,560.1 1490.7,566 1497.4,570 1500.7,574 1502.2,578 1502,584.4 1498.3,606 1495.4,614 1486,622.4 1462,632.5 1434,632.9 1422,630.1 1418,624.3 1413.7,610 1378.5,578 1376.3,574 1375.8,566 1381.3,554 1392.3,546 1405.6,542Z"/>
<path fill="#2357ff" d="M462,156.3 466,154.9 470,156.5 486,177.5 494,181.3 502,181 518,172.1 522,172.6 555,190 582,194.5 598,200.1 606,200.6 638,196.3 646,197.1 657.4,202 678,215.1 694.9,234 706,243.6 754.3,274 778,286.1 788.2,294 807.3,314 811.2,322 809.7,330 802,346.7 798,351 794,353.1 786,354 762,346.2 746,344.3 730,336.9 702.8,318 690,306.8 682,302.7 646,299.2 618,298.2 594,295.1 582,290.2 562,273.4 550,266.6 542,264.8 522,269 514,267.9 490.7,242 478,224.4 462,214.5 459.2,210 458.1,206 459.2,190 458.1,170 460.8,158ZM1186,170 1190,166.3 1194,166.2 1198,168.5 1206,178.4 1210,187 1212.7,202 1213.5,242 1212.4,250 1210,254.2 1206,255.4 1202,254.2 1197.9,250 1194,240.8 1182.5,198 1182.7,182 1186,170ZM1422,546 1442,548.8 1466,561.3 1490,568.3 1497.1,574 1498.8,578 1498.7,586 1495.3,606 1491.8,614 1486,619.4 1474,625.4 1462,628.8 1454,629.4 1438,628.3 1429.8,626 1425.4,622 1417.9,606 1396.7,586 1388.4,574 1387.6,566 1388.8,562 1395.5,554 1406,548.5 1420.7,546Z"/>
<path fill="#2a4efe" d="M1190,181.4 1194,178.7 1198,179.5 1202,182.8 1206,189.3 1208.1,202 1206,213.2 1202,219.1 1198,218.6 1190,208.2 1186.5,194 1189.7,182ZM538,205.6 578,202.9 602,208.6 634,208.1 646,210.5 670,221.1 678,227.2 690,243 706,258.7 767.7,290 778.4,298 791.8,318 794.3,326 791.9,338 790,340.5 786,342.1 766,333.4 746,334 734,329.7 714,317.2 694,296.3 686,291.8 626,290.7 598,286.6 586,282.9 574,274.3 546,248.4 538,245.3 522,244.2 514,240 508.8,234 507.4,226 510,219.3 514,214.3 522,209.4 535.4,206ZM1414,552.9 1426,550.3 1438,551.1 1446,553.7 1466,564.3 1486,569.5 1493.2,574 1495.7,582 1492,606 1487.8,614 1478,620.6 1466,624.1 1454,624.8 1438,622.1 1432,618 1421.9,602 1402.2,582 1398.4,574 1399.1,566 1401.4,562 1411.5,554Z"/>
<path fill="#3246fb" d="M1198,189.6 1201.4,194 1202,198 1198,203.4 1194,201 1192.6,198 1192.3,194 1194.6,190ZM566,213.3 578,212.2 598,217 622,217.5 642,223.7 664.7,234 670,239.4 680.8,258 683,266 681.9,270 678.2,274 662,280.8 646,282.4 622,281.7 594,276.5 582,270.5 569.8,258 551.8,226 551.5,222 554.6,218 563.4,214ZM714,281 722,280.2 730,282.3 752,294 755.6,298 756.5,302 754.6,306 746,312.9 738,315.6 730,315.3 718,309 712.4,302 708.6,294 708.2,286 711.9,282ZM1422,556.6 1434,554.3 1442,555.8 1462,566.1 1486,572.9 1490,575.9 1491.9,586 1488.4,606 1482.9,614 1478,616.9 1470,619.2 1458,619.7 1446,617.5 1438,613.1 1426.6,598 1414.7,586 1409.4,578 1408.8,570 1410.6,566 1419,558Z"/>
<path fill="#3a3ef9" d="M578,227.7 582,226.5 618,227.3 637.8,234 648.8,242 654,250 656.4,258 656.2,262 653.7,266 645.8,270 626,272.8 610,271.6 594,267.1 586,261.7 577.9,250 575,238 575.8,230ZM1426,561.7 1434,558.9 1442,560 1458,568.6 1485.5,578 1487.5,586 1486,599.3 1482,609.1 1478,612.1 1470,614.2 1462,613.7 1450,610.5 1442,605.4 1424.8,586 1419.6,578 1419.3,570 1425.5,562Z"/>
<path fill="#4236f4" d="M594,241.8 602,239.2 610,238.5 618,239 626,241.6 631.5,246 633.4,250 633.2,254 630,258.4 622.7,262 618,262.7 610,262.3 602,260 594,254.6 591.5,250 591.2,246 593.7,242ZM1438,565.1 1442,566 1458,574.5 1478.9,582 1481,586 1480.8,594 1478,602.7 1474,605.6 1470,605.5 1450,598.7 1442,592.8 1430.5,578 1430.4,570 1434.1,566Z"/>
<g fill="none" stroke="#fff" stroke-width="1.1" stroke-dasharray="5 5.5" opacity="0.75">
<path d="M246.2,1013.1 283.2,1022.6 320.2,1031.6 357.1,1040.1 394,1048 430.8,1055.3 467.6,1062.2 504.3,1068.5 541,1074.3 577.6,1079.6 614.2,1084.3 650.7,1088.6 687.2,1092.4 723.7,1095.8 760.1,1098.6 796.5,1100.9 832.9,1102.8 869.3,1104.2 905.7,1105.2 942,1105.6 978.4,1105.6 1014.8,1105.1 1051.1,1104.2 1087.5,1102.8 1123.9,1100.9 1160.3,1098.5 1196.8,1095.7 1233.3,1092.3 1269.8,1088.5 1306.3,1084.2 1342.9,1079.4 1379.5,1074.1 1416.2,1068.3 1452.9,1061.9 1489.6,1055.1 1526.5,1047.7 1563.3,1039.8 1600.3,1031.3 1637.2,1022.3 1674.3,1012.7"/>
<path d="M320.3,807.1 353.2,816.7 386,825.9 418.8,834.5 451.7,842.5 484.5,850 517.4,857 550.2,863.4 583,869.3 615.9,874.7 648.7,879.6 681.5,884 714.3,887.9 747.1,891.3 779.9,894.2 812.7,896.7 845.5,898.6 878.2,900 911,901 943.8,901.5 976.6,901.5 1009.3,901 1042.1,900 1074.9,898.5 1107.7,896.6 1140.4,894.2 1173.2,891.2 1206,887.8 1238.8,883.9 1271.7,879.5 1304.5,874.6 1337.3,869.1 1370.1,863.2 1403,856.7 1435.8,849.8 1468.6,842.2 1501.5,834.2 1534.3,825.6 1567.2,816.4 1600,806.7"/>
<path d="M401.6,608 429.9,617.4 458.3,626.3 486.7,634.6 515.2,642.5 543.7,649.8 572.3,656.6 600.9,662.9 629.5,668.8 658.1,674.1 686.8,678.9 715.5,683.2 744.3,687 773,690.4 801.8,693.3 830.5,695.6 859.3,697.5 888.1,699 916.9,699.9 945.7,700.4 974.5,700.4 1003.3,699.9 1032.1,698.9 1060.9,697.5 1089.7,695.6 1118.4,693.2 1147.2,690.3 1175.9,686.9 1204.7,683.1 1233.4,678.7 1262.1,673.9 1290.7,668.6 1319.3,662.8 1347.9,656.4 1376.5,649.6 1405,642.2 1433.5,634.4 1461.9,626 1490.2,617.1 1518.5,607.6"/>
<path d="M490.8,412.9 514.2,421.7 537.7,429.9 561.4,437.7 585.1,444.9 608.9,451.8 632.8,458.1 656.8,464 680.8,469.4 704.9,474.4 729.1,478.9 753.2,482.9 777.5,486.5 801.7,489.7 826,492.3 850.4,494.6 874.7,496.4 899.1,497.7 923.5,498.6 947.8,499 972.2,499 996.6,498.6 1021,497.7 1045.3,496.3 1069.7,494.5 1094,492.3 1118.3,489.6 1142.6,486.4 1166.8,482.8 1191,478.7 1215.1,474.2 1239.2,469.2 1263.3,463.8 1287.2,457.9 1311.1,451.5 1334.9,444.7 1358.7,437.4 1382.3,429.6 1405.8,421.4 1429.3,412.6"/>
<path d="M589,219.3 607.2,226.8 625.6,234 644,240.7 662.6,247 681.3,252.9 700.1,258.4 719,263.5 738,268.2 757,272.5 776.1,276.5 795.3,280 814.6,283.1 833.9,285.9 853.2,288.2 872.5,290.2 891.9,291.8 911.4,292.9 930.8,293.7 950.2,294.1 969.7,294.1 989.1,293.7 1008.5,292.9 1028,291.7 1047.3,290.1 1066.7,288.2 1086,285.8 1105.3,283 1124.6,279.9 1143.7,276.3 1162.9,272.4 1181.9,268.1 1200.9,263.3 1219.8,258.2 1238.6,252.7 1257.2,246.8 1275.8,240.4 1294.3,233.7 1312.6,226.6 1330.9,219.1"/>
<path d="M420.1,1203.6 428.3,1165.6 436.6,1127.8 445.1,1090.3 453.7,1053.1 462.5,1016.2 471.5,979.4 480.6,942.9 489.9,906.6 499.3,870.5 508.9,834.6 518.7,798.8 528.6,763.1 538.7,727.5 549,692.1 559.5,656.7 570.1,621.4 580.9,586.1 592,550.9 603.2,515.6 614.6,480.4 626.3,445.1 638.1,409.8 650.2,374.5 662.6,339.1 675.1,303.5 688,267.9 701,232.2 714.4,196.3 728,160.3"/>
<path d="M653.7,1234 658.3,1196.2 662.9,1158.8 667.6,1121.6 672.4,1084.6 677.3,1047.9 682.3,1011.4 687.4,975 692.6,938.8 697.9,902.7 703.2,866.8 708.7,831 714.2,795.2 719.9,759.5 725.7,723.9 731.5,688.3 737.5,652.8 743.6,617.2 749.8,581.6 756.1,546 762.5,510.3 769.1,474.5 775.8,438.6 782.6,402.7 789.5,366.6 796.7,330.3 803.9,293.9 811.3,257.3 818.9,220.5 826.7,183.5"/>
<path d="M885.5,1247.4 886.6,1209.8 887.7,1172.5 888.9,1135.4 890,1098.6 891.2,1062 892.4,1025.5 893.6,989.2 894.9,953.1 896.1,917 897.4,881.1 898.7,845.3 900.1,809.5 901.4,773.8 902.8,738.1 904.2,702.4 905.7,666.8 907.1,631.1 908.6,595.3 910.2,559.5 911.7,523.6 913.3,487.6 914.9,451.5 916.6,415.3 918.2,378.9 920,342.4 921.7,305.6 923.5,268.6 925.4,231.4 927.2,194"/>
<path d="M1116.8,1244.4 1114.5,1206.9 1112.1,1169.5 1109.7,1132.4 1107.3,1095.6 1104.8,1058.9 1102.2,1022.4 1099.6,986.1 1097,949.9 1094.3,913.9 1091.6,878 1088.8,842.1 1085.9,806.4 1083,770.7 1080.1,735 1077.1,699.4 1074,663.7 1070.9,628 1067.7,592.3 1064.5,556.6 1061.2,520.7 1057.8,484.8 1054.4,448.7 1050.9,412.5 1047.3,376.2 1043.7,339.7 1040,303 1036.2,266.2 1032.3,229.1 1028.3,191.7"/>
<path d="M1349.1,1225.1 1343.3,1187.3 1337.4,1149.7 1331.3,1112.4 1325.2,1075.4 1318.9,1038.6 1312.5,1002 1306,965.6 1299.4,929.4 1292.7,893.3 1285.8,857.3 1278.8,821.5 1271.7,785.8 1264.5,750.1 1257.1,714.6 1249.6,679 1242,643.5 1234.2,608 1226.3,572.5 1218.3,537 1210.1,501.5 1201.7,465.8 1193.2,430.1 1184.5,394.3 1175.6,358.4 1166.5,322.4 1157.3,286.2 1147.8,249.9 1138.2,213.4 1128.3,176.7"/>
<path d="M1583.7,1188.4 1574.2,1150.1 1564.5,1112.2 1554.6,1074.6 1544.5,1037.3 1534.2,1000.2 1523.8,963.4 1513.1,926.9 1502.3,890.5 1491.3,854.4 1480.1,818.5 1468.7,782.7 1457.2,747.1 1445.4,711.6 1433.4,676.2 1421.3,640.9 1408.9,605.8 1396.3,570.6 1383.5,535.6 1370.4,500.6 1357.2,465.6 1343.6,430.6 1329.9,395.5 1315.9,360.5 1301.6,325.4 1287,290.3 1272.2,255.1 1257.1,219.8 1241.6,184.4 1225.9,148.9"/>
</g>
<g fill="none" stroke="#fff" stroke-width="1" stroke-linejoin="round" opacity="0.92">
<path d="M571.1,462.7 616.3,475.3 652.9,484.4 689.6,492.3 726.5,499.3 763.4,505.1 800.5,510 837.6,513.9 874.7,516.7 911.9,518.5 984.1,519.1 983.9,511.4 989.2,512.9 992.5,525 1004.6,527.7 1016.5,526.2 1031.9,531.6 1047.1,532.7 1062.4,533.7 1070.2,535.2"/>
<path d="M1032.4,562.9 1049.2,559 1059,564.4 1080.2,557.7 1088.3,546.9 1098.8,543.8 1090.8,554.8 1105.8,562.5 1119.7,561 1134.6,555.2 1143.8,553 1150.9,558.3 1146,547.6 1139.5,536.2 1124.8,530.8 1113.6,516.8 1087.7,515.3 1082.9,526 1073.2,534.9 1063,539.8 1048.6,550.9 1032.4,562.9"/>
<path d="M1114.2,659.1 1108.2,643.5 1106.7,623.3 1109.2,602.8 1101,602.6 1115.1,585.9 1121.4,573.1 1136.6,568.3 1148.4,571.9 1146.5,580.3 1138.8,593.5 1129.2,600.7 1127.7,619.2 1133.9,634.8 1130.3,651.5 1124.4,659.1 1114.2,659.1"/>
<path d="M1148.4,571.9 1160.4,576.5 1172.8,583 1177.3,598.8 1169,608.1 1174.9,613.4 1184.6,602.8 1194.7,620.9 1206.6,612.9 1203,594.9 1205.7,575.9 1214.6,586.8 1229.4,586.3 1227.9,572.1 1210.6,560.6 1195.8,558.9 1175.1,560 1157.6,560.4 1150.9,558.3"/>
<path d="M1194.7,620.9 1196.5,630.9 1190.8,636.8 1188.5,643.3"/>
<path d="M1184.6,650 1197.2,653.4 1214,650.9 1232.1,637.6 1253.8,619.3 1253.1,616.3 1234.5,624.8 1216.3,627.8 1198.7,642.9 1188.5,643.3 1184.6,650"/>
<path d="M1238,609.7 1251.2,607.9 1273.8,602.9 1290.7,595.2 1292.3,582.2 1272.2,589.6 1250.1,596.1 1242.9,601.5 1238,609.7"/>
<path d="M1252.3,616.5 1250.4,608.1"/>
<path d="M1291.7,580.2 1306.8,562 1320.2,550.3 1326.7,544.4 1337.1,524.5 1353.5,509.2 1362.6,502.2 1370.9,479.9 1387.4,459.2 1412.1,439.5 1433.1,430.7"/>
<path d="M1353.5,509.2 1366.5,490.1 1376,471.7 1391.4,448.9 1398.1,426.4 1416.5,412.9 1427.1,407.7"/>
<path d="M523.3,347.2 525.3,368.7 525.5,391.7 531.2,407.3 547,426.3 557.1,440.7 571.9,456.3 575.5,464 575.5,477.1 569.2,499.2 560.9,499 569.7,484.1 564.9,479.4 543.2,467.3 540.7,486.4 540.6,499.6 537.3,512.8 528,537.4 519.1,556.7 504.2,577.4 502.9,595.6 497.4,615.9 488,626.3 491.9,647 497,676.6 503.2,686.8 501.1,699.2 506.2,713.4 511.6,734 519.9,748.8 517.6,760.1 536.9,768.6 553.7,779.6 556.1,785.4 568.9,797.4 572.8,813.9 575.5,836.5 584.6,859.1 586.9,876.3 603.4,895.7 611.8,915.9 592.9,917.1 613.7,939.1 630.9,960.4 641.3,986.8 657.5,1005.5 679.6,1031 691.3,1023.9 677,1003.6 670.7,988.3 661.7,964.4 647,939.6 638,919.7 627.7,897.4 612.6,870.1 612.2,842.9 627.6,845.4 643.9,854.1 651.2,880 657.5,901.6 674.2,924.4 682.7,935.8 700.1,958.5 707.7,979.9 727.1,992.2 745.7,1014.5 756.7,1031.9 770.2,1047.4 776.9,1068.6 770.8,1088.9 780,1110.3 801,1124.1 822.2,1139.8 844,1147 865.7,1160.3 890,1171.4 921.2,1182.4 955,1191 977.6,1195.2 1000.1,1186.6 1015.9,1184.2 1034.3,1196.4 1064.8,1218.8 1092.9,1230.4 1116.3,1235.7 1139.8,1240.9 1167.8,1241.4"/>
<path d="M510.9,402.2 517.2,420.5 530.8,445.5 541.2,460 560.5,473.7 563.8,469.3 560.4,452.8 548.8,433.6 534.7,417.6 520.1,403.4 510.9,402.2"/>
<path d="M503.2,686.8 508.3,694.6 512.7,687.1 506.9,681.3 503.2,686.8"/>
<path d="M952.3,983.6 947.4,956.2 955.5,940 975.5,929.8 995.2,917.4 1014.7,906.9 1030.4,905.5 1054.3,908.6 1068.4,913.1 1090.5,916 1106.5,917 1112.4,915.6 1105.7,906.9 1100.7,895 1113.9,888 1131.7,888.7 1147.3,886.4 1164.8,883.9 1179.2,888.6 1186.2,896.1 1204.9,886.9 1219.7,892.4 1237.7,904.7 1242.8,924.7 1256.8,947.9 1267.3,961.1 1282.4,975.8 1289.1,978.1 1298.9,973.6 1303,960.4 1300.7,941.9 1283.6,911 1267.4,888.4 1260.6,872.8 1259.7,856.3 1264.5,839.1 1280.9,822.1 1294.6,803.3 1311.6,792 1326.8,773.6 1335.8,770.8 1350.6,756.3 1341.1,738.2 1333.9,724.9 1328,724 1323.1,712.4 1317.8,698.8 1315,680.5 1319.1,675.4 1321,689.7 1328.2,703 1333.5,719.8 1337.4,709.5 1341.2,696 1341.7,687.5 1339.7,683.7 1329.5,673.2 1341.5,680.1 1348.5,669 1351.4,659.9 1349.6,647.5 1348.1,642.6 1350.1,643.2 1372.3,632.4 1381.1,625.9 1369.6,629.9 1351.7,636.4 1352.8,634 1363,626.2 1377.8,621.4 1385.5,617.2 1385.2,610.8 1391.5,613.5 1397.5,609.7 1408.4,604.5 1407.5,599.3 1402.7,598.5 1406.9,602.7 1399.4,604.8 1395,597.3 1387.8,597.2 1390.3,588.9 1386.9,584.4 1388.1,577.6 1391.4,566.9 1397.1,563 1407.3,552.4 1413.7,546 1427.5,536.1 1433.3,528.7 1430.9,522.8 1445.6,515.6 1457.6,502.4 1463.5,495.8 1471,504.4 1458.5,524.7 1455.7,543.6 1467.8,546.2 1479.4,530.9 1482.3,525.3"/>
<path d="M1328,724 1314.2,721.5 1319.6,713.1"/>
<path d="M1324.3,705.9 1311.3,702.2 1303.3,699.6 1305.4,689.7"/>
<path d="M952.3,983.6 940.8,1013.2 938.3,1054.1 948.7,1085 966.1,1109.8 974.9,1122.2 988.2,1132.5 1010.5,1143.6 1032.5,1137.9 1054.4,1133.2 1069.9,1132.6 1087.1,1123.6 1092.7,1106.7 1097.9,1085.7 1106.1,1078 1127.3,1072.7 1148.5,1067.1 1168,1066.7 1175.5,1076.5 1164,1094.1 1163.2,1108.7 1158.8,1134.1 1151.3,1151.4 1150.8,1172.5 1138.2,1185.9 1147.4,1187.5 1158.9,1188.8 1181.4,1185.2 1204,1182.4 1226.6,1179.5 1250.3,1185.9 1267.5,1194.9 1265.5,1216.5 1267.6,1233.8"/>
<path d="M1213.4,1055.5 1231.5,1036 1251.9,1027.6 1264.2,1023 1294,1020.4 1316,1021.7 1339.2,1028.9 1361,1027.8 1385,1036.9 1408.8,1043.7 1432.8,1050.3 1453.5,1056.4 1446.8,1062 1425.5,1068.9 1403.2,1071.5 1377.3,1077.6 1385.2,1060.4 1362.2,1057.4 1346.7,1045.9 1320.1,1045.4 1293.1,1041.5 1275,1037.4 1257.5,1036.3 1243.5,1045.2 1227.2,1053.1 1213.4,1055.5"/>
<path d="M1252.9,1050.4 1263.7,1049.2 1264.9,1057.5 1256.2,1058.5 1252.9,1050.4"/>
<path d="M1368.7,1111.1 1387.1,1105.2 1400.8,1105.2 1418.2,1111.2 1403.1,1116.8 1385.1,1119.5 1368.7,1111.1"/>
<path d="M1455.8,1097.3 1477.8,1096.7 1500.5,1093.6 1520.5,1098.6 1533.9,1086 1555.3,1077.2 1577.7,1072.4 1589.7,1064.1 1574.2,1059.7 1550.1,1049.4 1525,1051.3 1509.2,1057.8 1484.9,1058.2 1472.7,1064.9 1488,1070.7 1501.5,1083.5 1475.8,1088.3 1455.8,1097.3"/>
<path d="M1509.2,1057.8 1514.5,1074.4 1518.1,1093.6"/>
<path d="M1617.4,1064.5 1645,1055.7 1655.3,1057.7 1648.1,1065.8 1621,1072.7 1617.4,1064.5"/>
<path d="M1342.9,969.2 1355.4,977.8 1360.4,991.8 1348.7,987.3 1342.9,969.2"/>
<path d="M1345,937.2 1362.2,938.6 1365.1,942.3 1343.6,940.6 1345,937.2"/>
<path d="M1459.2,1036.9 1473.5,1029.9 1470.9,1038 1459.2,1036.9"/>
<path d="M1198,450.3 1190,447.6 1171.6,429.9 1156.3,411.6 1153.4,391.2 1146.5,377.6 1113.6,380.6 1079.1,370.3 1058,355.8 1032.1,349.6 1013.6,354.8 1008.6,334.4 990.8,318.5 984,293.8 991.3,272.8 1006.9,251.2 1021.5,229.2 1030.4,211.6 1050,201.2 1058.4,188.5"/>
<path d="M1198,450.3 1210.5,441.5 1208.7,422.8 1200.7,403.3 1188.9,384.5 1209.4,358.8 1212.3,336.6 1209.9,315.6 1191.8,298.3 1176.5,280.2 1179.7,257.7 1165,228.5 1167.3,217 1189.8,215.6 1213.1,215.6 1233,220.7 1258.7,223.6 1272.8,241.5 1281.4,261.3 1299.9,273.1 1318.3,254.7 1321.8,234.6 1324.7,214.6"/>
<path d="M1060.9,204.2 1079.3,218.8 1089.4,215.2 1101.9,198.1 1122.3,194.2 1123.3,177.6"/>
<path d="M1133.8,218 1146.6,223.9 1150.5,238.3 1141.3,238.1 1133.8,218"/>
<path d="M1108,220.7 1119.5,222.9 1120.8,233.5 1104.2,234.2 1108,220.7"/>
<path d="M1177.5,164.3 1189.9,168.6 1207.8,172.1 1229.5,183.3 1255.1,188.1 1287.5,192.1 1304,187.6 1301.8,171.9 1283.5,160.5 1294.1,151.1"/>
<path d="M1178.6,344.2 1187.5,352.9 1184.3,355.8 1175.9,349 1178.6,344.2"/>
<path d="M1163,416.8 1178.9,424.4 1180.2,417.9 1168.5,415.8 1163,416.8"/>
<path d="M732.6,245.1 748.3,252.2 767.5,246.7 786.6,239.8 805.3,232.5 823.1,227 807.6,222.2 783.2,230.5 768.3,223 749.8,227.4 734.6,239 732.6,245.1"/>
<path d="M783.1,305.5 802.6,300.3 827.3,297.7 850.6,302.6 831.9,306.7 807.7,305.4 788.6,308.6 783.1,305.5"/>
<path d="M958.1,491 965.3,484.9 959.6,464.6 956.8,448.3 948.7,427.9 939.3,419.6 929.4,433.7 935.9,448.1 944.1,458.4 951,478.8 958.1,491"/>
<path d="M889.5,335.3 898,354.4 889.5,366.3 883.3,349.3 889.5,335.3"/>
<path d="M910.4,457.5 921,439.5 915.7,433.2 902.7,445 910.4,457.5"/>
<path d="M929.1,492.6 940.7,492.9 935.3,472.5 925.2,476.3 929.1,492.6"/>
<path d="M1087.7,515.3 1080.9,507.8 1085.8,486.9 1074.7,492 1071.6,504.5 1080.9,507.8"/>
<path d="M1311,558.9 1332.3,553.7 1361.3,546 1365.8,538.2 1372.9,525.4 1371.5,514.8 1372.4,505.8 1378.3,487.4 1385.2,490.9 1393,484.9 1402.8,488.2 1413.7,515.1 1422.3,521.2 1433.3,528.7"/>
<path d="M572.3,814.3 618.9,818.6 616.4,822.7 683.6,856.9 739.1,863.3 740.3,854.3 773,857.4 774.9,858.2 799.7,882.5 807.7,903.4 832.4,918.2 843.4,903.6 869,904.3 882.2,918.4 889.5,934.9 905,951.5 912.5,974 930.8,981.4 952.3,983.6"/>
<path d="M537.3,512.8 548.8,518.4 551.4,530.1 576.2,536.9 595.8,538.8 612.5,538.6 644.8,546 639.7,566 637.8,576.1 632.2,585.5 621.6,625.3"/>
<path d="M642.9,545.6 659.6,485.9"/>
<path d="M502.9,595.6 572.3,614.1 621.6,625.3 671.4,634.9 721.2,643"/>
<path d="M674.2,489.1 668.8,509.1 681.1,526.3 688.6,541.3 681.1,562.9 693.1,578.6 700.5,590.2 723.7,589.9 730.5,593 732.4,583"/>
<path d="M730.5,593 721.2,643 717.5,663"/>
<path d="M732.4,583 788.1,590.3 843.8,595.6"/>
<path d="M851.7,515 843.8,595.6 840,635.8 836.3,675.9"/>
<path d="M717.5,663 751.5,667.5 793.9,672.2 836.3,675.9 870.3,678 869,698.1 865.1,758.3"/>
<path d="M649.4,734.8 694.3,741.8 739.2,747.6 793.6,753.3 848,757.3 865.1,758.3 902,759.7 950.4,760.6 998.8,760.2"/>
<path d="M671.4,634.9 660.3,684.8 649.6,734.8 646.2,750.8 633.8,750.8 631.3,771.1"/>
<path d="M572.3,614.1 554.4,673.7 590.8,723.9 630.3,773 630.6,787.6 626.3,803.6 618.9,818.6"/>
<path d="M751.5,667.5 739.2,747.6 730.8,804.5 722.7,861.6"/>
<path d="M848,757.3 847.2,767.3 839.9,857.8 771.6,852.8 771.1,857.2"/>
<path d="M847.2,767.3 901.6,769.8 900.1,808.8 914.7,816.4 937.1,820.8 955.8,824.9 974.6,825.9 993.3,822.6 1003.1,827.7 1011.5,829.3 1011.8,840.4 1012.5,860.5 1019.7,880.5 1018.4,900.7 1017.7,906.8"/>
<path d="M1003.1,827.7 1003.1,792.3 999,770.3 998.8,760.2 997.6,718.1 990.6,702.2 985.4,700.2"/>
<path d="M869,698.1 927.2,700.1 985.4,700.2 975.8,688.3 971.4,670.3 964.5,650.2 965.3,630.1"/>
<path d="M840,635.8 885.8,638.5 931.5,640 941.4,644.1 964.5,650.2"/>
<path d="M845.7,576.7 904.5,580 963.3,581.1 959.6,561.7 958.8,549.6 954.3,535.5 953.2,519.3"/>
<path d="M963.3,581.1 965.1,593.9 965.3,630.1 1008.1,629.4 1050.8,627.5"/>
<path d="M977.2,688.7 1046.8,686.2 1051.8,690.3"/>
<path d="M1032.4,562.9 1030.1,576.2 1022.1,588.6 1024.5,603.7 1040.4,614 1050.8,627.5 1053.5,637.5 1061.7,647 1070.4,660.6 1057.8,673.5 1056.9,683.6 1051.8,690.3 1051,698 1062.5,713.5 1075.4,720.8 1074.6,732.9 1090.3,750 1097.2,755.6 1091.8,766.1 1089,776.4 1085,794.8 1074.8,807.5 1068.7,828 1066.6,838.3 1070.4,852.2 1061.8,868.8 1060.4,879 1096.7,877 1100.6,893"/>
<path d="M999,770.3 1080,766.9 1077.1,777.1 1089,776.4"/>
<path d="M1011.8,840.4 1066.6,838.3"/>
<path d="M1061.7,647 1109,643.4"/>
<path d="M1059.1,565.4 1080.2,572.9 1096.3,575.6 1105.3,591"/>
<path d="M1115.3,658 1121,707.1 1121.2,719.2 1115.9,735.9 1114.3,738.1 1108.7,752.7 1097.2,755.6"/>
<path d="M1120.8,657.3 1161.1,652.9 1183.8,650.5"/>
<path d="M1160.9,654.1 1168.8,706.1"/>
<path d="M1115.9,735.9 1124.8,735.1 1142.3,731.4 1153.9,724.1 1159.8,715.3 1168.8,706.1 1174.4,705.5 1189.8,712.7 1210,715.1 1216.3,710.1 1222,697 1235.6,684.6 1237.4,664.9 1231.7,637.7"/>
<path d="M1244.4,635.5 1317.7,620.9 1325,627.8 1332.2,631.2 1327.8,640.9 1328.1,648.2 1338,654.5 1333.6,661.8 1329,664.9 1329.5,673.2"/>
<path d="M1332.2,631.2 1347.7,635.2"/>
<path d="M1241.2,683.2 1322.8,667.9 1331,692.7 1342.5,690.5"/>
<path d="M1237.4,664.9 1241.2,683.2"/>
<path d="M1259.2,680.2 1261.4,690.6 1279.9,682.1 1291.5,682.6 1296.3,686.3 1305.4,689.7"/>
<path d="M1291.5,682.6 1282,691.1 1274.2,696.7 1264.1,704.6 1254.2,727 1239.1,734.5 1224.6,730.9 1197,753.7"/>
<path d="M1210,715.1 1224.6,730.9"/>
<path d="M1338,731.5 1285.5,741 1232.9,749 1197,753.7 1118,764.1 1093.6,765.9"/>
<path d="M1232.9,749 1228.9,759.7 1218.4,763.2 1210.1,769.4 1194.7,778.5 1190.1,787.5"/>
<path d="M1212.6,784.5 1190.1,787.5 1166.5,790.3 1118.4,794.4 1079.6,797.1"/>
<path d="M1212.6,784.5 1224.8,778.8 1249.8,776.2 1253.9,782.8 1276.1,779.3 1301.6,794.8"/>
<path d="M1212.6,784.5 1217.9,794 1234.1,810.4 1240.4,813.6 1249.7,822.6 1260.3,837.6"/>
<path d="M1166.5,790.3 1180,831.9 1185,843 1186.2,859.2 1188.6,869.2 1192.1,875 1244.4,871.8 1248,875.3 1258.6,866.8"/>
<path d="M1188.6,869.2 1138.1,874 1141.5,888"/>
<path d="M1118.4,794.4 1119.5,857.2 1124.1,891.4"/>
<path d="M1332.3,553.7 1337.7,573.7 1343,582 1347.6,598 1348.1,612.8 1352.7,627.7 1352,634.2"/>
<path d="M1347.6,598 1361.1,595 1380.1,590.6 1387.1,585"/>
<path d="M1348.1,612.8 1376.4,606.2 1383.4,604.4 1389.8,613.9"/>
<path d="M1376.4,606.2 1380.2,620.3"/>
<path d="M1361.1,595 1358,577.1 1358,564.2 1363.3,554.1 1361.3,546"/>
<path d="M1387.4,580.6 1380.7,575.3 1365.8,538.2"/>
<path d="M1064.8,1218.8 1064.1,1204 1074.7,1185.8 1102.9,1184.2 1089.1,1160 1129.6,1146.5 1131.4,1186.3 1138.2,1185.9"/>
<path d="M1129.6,1146.5 1147.5,1131.8"/>
<path d="M1154.4,1189.1 1131.3,1218 1113.8,1232.7"/>
<path d="M1131.3,1218 1150.5,1228.6 1167.6,1239.3"/>
<path d="M1170.1,1241.2 1192.1,1226.9 1214.8,1221 1231.4,1202.5 1267.5,1194.9"/>
</g>
<g fill="none" stroke="#000" stroke-width="2.4" stroke-linejoin="round" stroke-linecap="round">
<path d="M514,341.5 526,341.3 557,341.8"/>
<path d="M609,352 611.8,354.3 624.3,359.3 634.3,355.5 654.2,366.7 664.2,379.2 686.6,387.9 706.5,391.6 711.5,381.7 720.2,378 724,389.2 735,402 748.9,414.1 761.4,431.5 786.3,444 811.2,451.5 824.9,464.4 854.8,472 879.7,474.4 889.7,462 887.2,447 890,430 885,394 880,344.3 870,332 860,324.4 861,316.9 838.6,309.4 831.2,304.4 841.1,297 846.1,287 836.1,279.5 822,266 808.7,252.1 788.8,239.6 798.8,224.7 788.8,204.7 771.3,199.8"/>
<path d="M792.5,178.6 798.8,202.2 805,224.7"/>
<path d="M900,192.3 922.3,199.8 947.2,214.7 977.1,224.7 979.6,207.2 972.1,194.8"/>
<path d="M889,219 893,216 896.5,220 893,225 889,223 889,219"/>
<path d="M1101.7,183.5 1107,195 1112,206"/>
<path d="M1142,258 1146.6,269.5 1171.5,294.5 1191.5,309.4 1193,325 1191.5,344.3 1179,376.7 1169,406.6 1167,430 1171.7,452.4 1186.6,482.2 1214.6,519.5 1244.5,549.4 1266.8,571.8 1281.8,586.7 1298.6,592.3 1307.9,601.6 1326.5,624 1345.2,638.9 1356.4,650.1 1382.5,659.4 1401.1,663.2 1420,662.2 1451.8,657.3 1489.2,642.4 1509.2,622.4 1519.1,610"/>
<path d="M1364.6,349.8 1366,372 1367.1,394.7"/>
<path d="M1384,438 1390,455 1401.1,467.3 1420,469.2 1426.9,472 1444.4,484.4 1459.3,504.4 1464.3,524.3 1474.3,534.3 1486.7,536.8"/>
<path d="M1401.1,467.3 1390,495.3 1375,482.2 1363.8,480.4 1345.2,487.8 1326.5,472.9 1313.5,465.4 1315.3,482.2 1307.9,493.4 1296.7,502.7 1281.8,491.6 1274.3,467.3 1268.7,448.7 1270.6,430 1281.8,435.6 1298.6,439.3 1305,436 1317.2,444.9 1335.9,441.2 1345.2,433.7 1347.2,429.6"/>
<path d="M1271.4,278.6 1280.7,282.3 1286.3,287.9 1290.1,299.1 1292.9,306.5 1290.1,315.9 1287.8,323.3 1291,315.9 1294.7,302.8 1299.4,298.1 1310.6,300.9 1321.8,312.1 1327.4,323.3 1338.6,331.7 1351.6,332.6"/>
<path d="M1231,197 1234.5,203 1233,212 1236,220 1234,221 1230.5,213 1229.5,205 1231,197"/>
<path d="M1222,152 1232,172 1243,196 1252,214"/>
<path d="M297.3,869 312.2,866.5 327.2,859.1 329.7,866.5 322.2,871.5 337.2,871.5 354.6,859.1 367.1,849.1 364.6,839.1 374.6,831.6 379.5,819.2 384.5,809.2 399.5,806.7 404.5,799.3 409.4,809.2 419.4,821.7 414.4,829.2 402,831.7 394.5,839.1 389.5,849.1 385,850 387,844.1 394.5,829.2 399.5,816.7 409.4,809.2"/>
<path d="M409.4,809.2 426.9,801.7 439.3,811.7 454.3,789.3 469.3,774.3 484.2,771.8 491.7,761.9 504.1,759.4 519.1,764.4 536.5,771.8 549,759.4 551.5,751.9 566.5,746.9 578.9,739.4 591.4,733.2 598.9,739.4 616.3,746.9 628.8,748.2 638.7,743.2 651.5,746.1 680,751.8 694.5,759.1 709.1,772.2 723.6,780.9 745.4,786.7 762.9,792.5 774.5,789.6 784.7,788.1 793.4,791.1 803.6,786.7 821,784.5 831.2,780.2 844.3,780.2 851.5,773.6 858.8,772.9 863.9,777.2 861.7,780.9 851.5,784.5 839.9,786 834.1,792.5 844.3,798.3 854.4,803.4 866.1,801.2 883.5,801.2 890.8,805.6 890.8,810.7 906.8,814.3 927.1,817.2 922.8,825.9 934.4,830.3 960,831.8 984,843.8 996.4,856.2 1021.4,871.2 1038.8,881.2 1053.8,896.1 1071.2,911.1 1096.1,918.5 1121.1,921 1144.9,928.5 1194.8,923.5 1207.2,916.1 1229.7,911.1 1207,915 1194.8,923.5 1187.3,928.5 1182.3,938.5 1207.2,936 1219.7,928.5 1244.6,926 1269.5,921 1282,912.3 1262,908 1254.6,898.6 1262.1,893.6 1294.5,883.7 1344.3,868.7 1406.6,846.3 1456.5,821.4 1488.8,798.9 1506.7,774.5 1514.1,762 1544,744.5 1564,719.6"/>
<path d="M780.3,761.3 787.6,764.2 783,772 776.7,778 771.6,772.9 774.5,766.3 780.3,761.3"/>
<path d="M774.1,966 776,972 789,979.8 796.5,984.7 797.8,993.5 789,997.2 779,996 776.6,999.7 769.1,1000.9 766.6,1007.2 762.9,1005.9 761.6,998.4 761.6,992.2 766.6,988.5 770.3,977.3 774.1,966"/>
<path d="M744.2,993.5L751.7,1001" stroke-width="3.2"/>
<path d="M785,993.2L785.8,993.8" stroke-width="2.6"/>
<path d="M783.4,1007.6L784.6,1009.2" stroke-width="3.6"/>
<path d="M689,1021L689.8,1021.8" stroke-width="2.8"/>
</g>
<text x="583" y="353" transform="rotate(0 583 353)" font-family="Liberation Sans, Arial, sans-serif" font-weight="bold" font-size="28" text-anchor="middle" fill="#000">247</text>
<text x="1131" y="233" transform="rotate(62 1131 233)" font-family="Liberation Sans, Arial, sans-serif" font-weight="bold" font-size="28" text-anchor="middle" fill="#000">247</text>
<text x="1375.5" y="417" transform="rotate(78 1375.5 417)" font-family="Liberation Sans, Arial, sans-serif" font-weight="bold" font-size="28" text-anchor="middle" fill="#000">247</text>
<g fill="#680400">
<path d="M625.1,166.6 629.2,170.7 633.3,174.8 637.4,178.8 641.6,182.8 645.7,186.8 649.9,190.8 654.1,194.8 658.3,198.8 662.6,202.7 666.8,206.7 671.2,210.6 675.8,214.5 680.5,218.5 685.3,222.6 690.1,226.7 694.9,230.9 699.7,235 704.4,239 708.9,242.8 713.3,246.5 717.4,249.9 721.2,253 726.4,257.2 730.9,260.7 734.8,263.6 738.5,266.3 742.3,269.1 746.4,272 751.3,275.6 755.2,278.5 759.4,281.6 763.9,284.9 768.5,288.3 773.3,291.8 778.1,295.3 782.8,298.7 787.5,302 792,305.2 796.3,308.1 801.5,311.4 806.4,314.6 811.3,317.6 816,320.4 820.6,323.1 825.1,325.7 829.6,328 834.1,330.3 839.1,332.8 844,335.2 848.7,337.5 853.4,339.6 858,341.7 862.7,343.8 867.6,345.7 868.4,344.3 864.2,341.1 860,338.2 855.8,335.3 851.6,332.5 847.2,329.6 842.7,326.6 838.1,323.5 833.9,320.7 829.6,318 825.1,315.4 820.5,312.7 815.9,310 811.1,307.1 806.3,304 801.3,300.7 797.1,297.9 792.6,294.8 788,291.5 783.3,288.1 778.5,284.6 773.8,281.1 769.1,277.7 764.7,274.4 760.4,271.3 756.5,268.4 751.6,264.9 747.4,261.9 743.7,259.2 740.1,256.5 736.3,253.6 731.9,250.3 726.8,246.2 723,243.1 719,239.7 714.7,236.1 710.1,232.2 705.5,228.2 700.7,224.1 695.9,220 691,215.8 686.2,211.7 681.5,207.7 677,203.8 672.4,200.1 667.8,196.6 663.2,193 658.5,189.5 653.9,186.1 649.3,182.6 644.7,179.1 640,175.7 635.4,172.3 630.7,168.9 625.9,165.6Z"/>
<path d="M760.3,276.7 744.4,273.9 752.8,262.4Z"/>
<path d="M642.8,249.9 647,253.4 651.2,257 655.5,260.6 659.7,264.3 664,267.9 668.2,271.5 672.4,275 676.5,278.4 680.5,281.8 684.4,285 689.3,288.8 694.2,292.4 699.1,295.8 703.8,299 708.5,302.2 713,305.2 717.4,308 721.8,310.7 727.4,314 732.9,316.9 738,319.4 742.9,321.8 747.4,324 751.4,326.1 756.1,329.1 759.7,331.9 764.5,335.2 771.8,338.8 776.4,340.6 781.5,342.4 787.1,344.3 793.1,346.2 799.2,348.2 805.3,350.2 811.2,352.3 816.8,354.3 821.8,356.3 826.9,358.6 831.8,360.9 836.4,363.1 840.9,365.5 845.2,367.9 849.5,370.4 853.8,373.1 858.2,376 862.7,379.2 867.1,382.6 871.6,386.2 876,389.9 880.5,393.8 885.1,397.7 889.7,401.6 894.3,405.4 899,409.2 903.8,413 908.6,416.9 913.4,420.8 918.2,424.6 922.9,428.3 927.4,431.9 931.8,435.3 936.5,439 941.1,442.6 945.5,446 949.8,449.4 954.1,452.6 958.3,455.7 962.5,458.7 967.3,461.7 971.7,464.1 975.9,466.3 980,468.5 984.4,471.3 989.3,475 992.8,478.1 996.8,481.8 1000.9,485.9 1005.2,490.2 1009.6,494.7 1014,499.3 1018.3,503.7 1022.5,508 1026.6,512 1030.8,516.1 1034.8,520.1 1038.6,523.9 1042.5,527.7 1046.4,531.4 1050.5,535.1 1054.8,538.7 1059.4,542.2 1063.7,545.3 1068.1,548.4 1072.7,551.4 1077.4,554.3 1082.2,557.2 1087.2,560 1092.2,562.7 1097.3,565.2 1102.5,567.5 1107.8,569.7 1113.3,571.8 1118.9,573.7 1124.5,575.4 1130.2,577.1 1136,578.6 1141.7,580.1 1147.4,581.5 1153,582.7 1158.7,584 1164.6,585.1 1170.5,586.1 1176.4,587 1182.2,587.8 1187.9,588.6 1193.3,589.3 1198.4,589.9 1203.3,590.5 1209.8,591.2 1215.7,591.6 1221,591.9 1225.9,592.2 1230.6,592.6 1235.3,593.4 1240,594.5 1244.4,595.9 1248.8,597.5 1253.4,599.2 1258.2,601.1 1263.5,603 1268.5,604.6 1273.6,606.3 1278.9,608 1284.3,609.8 1289.9,611.7 1295.4,613.6 1300.9,615.5 1305.8,617.1 1310.7,618.8 1315.8,620.3 1320.9,621.6 1326.1,623 1331.3,624.3 1336.5,625.6 1341.8,626.6 1342.2,625.4 1337.5,622.8 1332.7,620.4 1327.9,618 1323.1,615.6 1318.3,613.3 1313.4,611.2 1308.5,609.3 1303.7,607.5 1298.1,605.6 1292.5,603.7 1287,601.9 1281.5,600.1 1276.2,598.3 1271.1,596.6 1266.3,595 1261.1,593.3 1256.2,591.5 1251.6,589.8 1246.9,588.2 1242,586.8 1236.9,585.6 1231.6,584.8 1226.5,584.3 1221.4,584 1216.2,583.7 1210.5,583.3 1204.1,582.7 1199.4,582.1 1194.3,581.5 1188.8,580.9 1183.2,580.2 1177.5,579.4 1171.7,578.6 1165.9,577.6 1160.2,576.6 1154.6,575.5 1149.1,574.2 1143.5,572.8 1137.9,571.4 1132.3,569.9 1126.7,568.3 1121.2,566.6 1115.8,564.7 1110.6,562.8 1105.5,560.7 1100.5,558.4 1095.6,556 1090.7,553.4 1086,550.8 1081.3,548 1076.7,545.1 1072.3,542.2 1068,539.2 1063.8,536.2 1059.4,532.8 1055.4,529.4 1051.5,525.9 1047.7,522.3 1043.9,518.6 1040.1,514.8 1036,510.8 1031.8,506.6 1027.9,502.7 1023.7,498.5 1019.5,494 1015.1,489.4 1010.7,484.8 1006.4,480.4 1002.2,476.2 998.2,472.3 994.3,468.8 989.1,464.7 984.4,461.5 980,458.9 975.9,456.6 971.8,454.2 967.5,451.3 963.6,448.4 959.6,445.3 955.5,442.1 951.3,438.7 947,435.2 942.5,431.5 937.8,427.7 933.5,424.2 929,420.6 924.3,416.9 919.5,413.1 914.7,409.2 909.9,405.4 905.1,401.5 900.5,397.8 895.9,394.1 891.4,390.2 886.9,386.3 882.4,382.5 877.8,378.6 873.2,374.9 868.5,371.3 863.8,368 859.1,364.9 854.6,362 850.1,359.4 845.5,356.8 840.9,354.4 836,352 831,349.7 825.6,347.3 820.3,345.1 814.5,343 808.4,340.9 802.3,338.9 796.1,336.9 790.2,335 784.7,333.2 779.8,331.4 775.8,329.8 769.4,326.6 765.5,324 761.7,321 756.4,317.7 751.7,315.3 747,313.2 742,310.9 736.9,308.6 731.7,306 726.2,303.1 722,300.6 717.7,297.9 713.1,295 708.5,292 703.8,288.9 698.9,285.6 693.9,282.2 688.8,279 684.5,276.3 680.1,273.6 675.6,270.7 671,267.7 666.4,264.7 661.7,261.6 657.1,258.5 652.4,255.4 647.8,252.3 643.2,249.3Z"/>
<path d="M761.3,326.2 744.1,325 751.7,311.8Z"/>
<path d="M997.5,476.6 982.9,473.1 991.3,462.9Z"/>
<path d="M1233.6,588.8 1219.7,594.3 1220.7,581.2Z"/>
<path d="M1014.3,441.7 1017.8,445.2 1021,448.7 1024.4,452.2 1028.3,455.8 1032.9,459.6 1036.8,462.3 1041,465 1045.5,467.7 1050.3,470.2 1055.1,473 1060,476 1064.8,479.4 1068.7,482.4 1072.9,485.8 1077.2,489.5 1081.5,493.5 1085.9,497.4 1090.2,501.4 1094.4,505.1 1098.4,508.6 1102.1,511.6 1106.6,515.4 1110.4,518.5 1113.8,521.4 1117.6,524 1122,526.6 1127.6,529.4 1132.1,531.5 1137.2,533.6 1142.6,535.8 1148.3,538 1154.3,540.1 1160.3,542.1 1166.4,544 1172.3,545.7 1178.1,547.2 1183.9,548.4 1189.8,549.4 1195.7,550.2 1201.7,550.8 1207.5,551.4 1213.1,551.8 1218.5,552.3 1223.5,552.9 1228.1,553.5 1234.5,554.5 1240.3,555.5 1245.6,556.6 1250.5,557.6 1254.8,558.7 1258.7,559.8 1263.1,561.6 1266.2,563.6 1270.2,566 1276.1,568.4 1280.8,569.6 1285.9,570.5 1291.3,571.5 1297,572.4 1302.7,573.4 1308.3,574.6 1313.6,576 1318.8,577.6 1324.3,579.5 1329.7,581.5 1335.1,583.6 1340.4,585.8 1345.3,588.1 1350,590.5 1354.9,593.4 1359.6,596.6 1364.1,600 1368.4,603.5 1372.7,606.9 1377,610.1 1381.7,613.6 1386.1,616.9 1390.5,620 1394.9,623 1399.7,625.8 1404.7,628.4 1409.8,630.7 1415.1,632.9 1420.4,634.7 1425.7,636.2 1430.8,637.6 1436.1,638.7 1441.4,639.4 1447,639.7 1452.6,639.3 1458.3,638.1 1463.9,636.3 1469.4,634 1474.6,631.4 1479.7,628.5 1484.4,625.1 1488.7,621 1492.6,616.7 1496,612.5 1499.1,608.6 1502.7,602.7 1505.1,597.3 1507.3,592 1506.1,591.2 1502.4,595.6 1498.9,600 1494.3,604.4 1490.8,607.4 1486.8,610.7 1482.5,613.9 1478.1,616.8 1473.9,619.5 1469.6,621.9 1464.9,624.3 1460.2,626.2 1455.5,627.7 1451,628.7 1446.7,629.1 1442.2,629.1 1437.7,628.6 1432.9,627.8 1428.1,626.8 1423.4,625.4 1418.6,623.7 1413.7,621.7 1408.9,619.5 1404.3,617.2 1399.9,614.8 1395.7,612.2 1391.5,609.3 1387,606.2 1382.2,602.9 1378.1,599.9 1373.9,596.6 1369.5,593 1364.8,589.5 1359.7,585.9 1354.2,582.7 1349.2,580.2 1344,577.7 1338.5,575.4 1332.9,573.2 1327.2,571.1 1321.6,569.2 1316,567.4 1310.3,565.9 1304.4,564.7 1298.5,563.6 1292.8,562.7 1287.4,561.8 1282.6,560.9 1278.7,560 1273.8,558.2 1270.5,556.4 1266.6,554.2 1261.3,552.2 1256.7,551.1 1252.1,550.1 1247,549.1 1241.6,548.3 1235.6,547.4 1229.1,546.5 1224.3,546 1219.1,545.5 1213.6,545.1 1208,544.8 1202.2,544.3 1196.4,543.8 1190.7,543.2 1185,542.3 1179.5,541.2 1173.9,539.8 1168.1,538.2 1162.2,536.3 1156.3,534.3 1150.4,532.3 1144.8,530.1 1139.5,528 1134.6,525.9 1130.2,524 1124.9,521.3 1120.9,518.9 1117.5,516.5 1114.2,513.9 1110.5,510.7 1105.9,507 1102.3,504 1098.5,500.6 1094.3,496.9 1090,492.9 1085.6,488.9 1081.2,485 1076.8,481.2 1072.5,477.6 1068.4,474.4 1063.2,471 1058,467.9 1052.9,465.2 1048.1,462.8 1043.4,460.7 1039,458.6 1035.1,456.4 1030.2,453.3 1026.1,450.3 1022.3,447.3 1018.6,444.3 1014.7,441.3Z"/>
<path d="M1135.1,529.7 1121.4,529.3 1126.2,519.2Z"/>
<path d="M664.1,368.4 668.9,370.3 673.8,372.2 678.6,374 683.4,375.8 688.2,377.8 693,379.9 697.9,382.2 702.9,384.6 708,387.2 713.1,389.9 718.3,392.7 723.6,395.3 728.8,398.1 734.1,400.9 738.6,403.4 743.1,405.9 747.5,408.6 752,411.3 756.5,414.1 761.2,417.1 766.1,420.1 771.2,423.3 775.5,426 780,428.8 784.7,431.8 789.5,434.9 794.3,438 799.2,441.1 803.9,444.1 808.5,447.1 813,449.9 817.2,452.6 822.6,456 827.5,459 832.1,461.8 836.5,464.5 841.1,467.4 846,470.5 851.6,474.3 855.5,476.9 859.7,479.7 864,482.6 868.5,485.6 873.1,488.7 877.8,492 882.5,495.3 887.2,498.6 891.9,502 896.5,505.4 901,508.9 905.5,512.4 909.9,516.1 914.4,519.9 918.9,523.8 923.4,527.7 928,531.7 932.5,535.7 937.1,539.7 941.7,543.6 946.2,547.5 950.8,551.2 955.4,554.9 959.9,558.5 964.5,562.1 969.1,565.6 973.6,569.1 978.2,572.5 982.7,576 987.3,579.3 991.9,582.6 996.5,585.8 1001,588.9 1006.1,592.3 1011.1,595.6 1016.1,598.8 1021.1,602 1026.2,605.1 1031.2,608.1 1036.3,611.1 1041.3,613.9 1046.4,616.6 1051.5,619.2 1057.2,622 1062.8,624.5 1068.5,626.9 1074.1,629.2 1079.8,631.4 1085.4,633.5 1091,635.5 1096.5,637.5 1102.1,639.4 1107.7,641.3 1113.2,643.2 1118.8,645 1124.4,646.8 1130,648.5 1135.6,650.2 1141.2,651.7 1146.8,653.2 1152.5,654.6 1158.1,655.9 1163.9,657.1 1169.7,658.2 1175.4,659.3 1181.2,660.3 1186.8,661.2 1192.4,662 1197.8,662.7 1203.1,663.4 1209.7,664 1216.1,664.4 1222.3,664.6 1228.2,664.8 1233.8,665 1239.2,665.3 1244.3,665.8 1249.9,666.6 1255.1,667.6 1260.1,668.7 1265.1,669.9 1270.3,671.3 1275.8,672.9 1280.7,674.5 1285.8,676.2 1291.1,678.1 1296.5,680.1 1302,682.1 1307.5,684 1313,685.8 1318.4,687.4 1323.8,689 1329.1,690.4 1334.5,691.9 1339.9,693.2 1345.3,694.6 1350.7,695.8 1356,697.1 1361.4,698.3 1366.8,699.6 1372.2,700.7 1377.7,701.8 1383.2,702.7 1388.7,703.4 1394.2,704 1399.7,704.5 1405.2,704.8 1410.7,705 1416.3,705.1 1421.8,705 1427.3,704.7 1432.8,704.3 1438.3,703.8 1443.8,703.1 1449.3,702.2 1454.9,701.2 1460.6,699.8 1466.2,698.2 1472,696.2 1477.8,693.8 1483.6,691.2 1489.3,688.5 1494.8,685.7 1500,682.9 1504.8,680.3 1510.1,677.1 1515,673.9 1519.4,670.6 1523.5,667.6 1527.1,664.8 1530.4,662.3 1535.6,658.4 1539.4,655.3 1543.1,652.3 1535.1,642.5 1531.4,645.5 1527.8,648.5 1522.8,652.3 1519.5,654.8 1515.9,657.6 1512,660.5 1507.8,663.5 1503.4,666.5 1498.6,669.3 1494,671.9 1489,674.5 1483.7,677.2 1478.3,679.8 1472.9,682.3 1467.5,684.4 1462.4,686.2 1457.4,687.6 1452.3,688.8 1447.2,689.8 1442.1,690.6 1436.9,691.2 1431.7,691.7 1426.5,692.1 1421.3,692.4 1416.2,692.5 1411,692.4 1405.8,692.3 1400.6,691.9 1395.4,691.5 1390.3,691 1385.1,690.3 1379.9,689.4 1374.7,688.4 1369.5,687.3 1364.2,686.1 1358.9,684.8 1353.5,683.6 1348.2,682.3 1343,681 1337.7,679.7 1332.4,678.3 1327.2,676.8 1321.9,675.3 1316.6,673.8 1311.4,672.2 1306,670.4 1300.5,668.6 1295.1,666.7 1289.6,664.9 1284.3,663.2 1279,661.7 1273.4,660.1 1268,658.7 1262.8,657.3 1257.4,656.2 1251.8,655.1 1245.7,654.2 1240.1,653.6 1234.4,653.3 1228.5,653.1 1222.6,653 1216.7,652.8 1210.6,652.4 1204.3,651.8 1199.3,651.2 1194,650.4 1188.6,649.6 1183.1,648.8 1177.5,647.8 1171.8,646.8 1166.2,645.7 1160.6,644.5 1155.1,643.2 1149.7,641.9 1144.2,640.5 1138.8,638.9 1133.3,637.3 1127.9,635.7 1122.4,633.9 1116.9,632.2 1111.4,630.3 1105.9,628.4 1100.4,626.5 1094.9,624.5 1089.4,622.5 1083.9,620.5 1078.4,618.4 1073,616.2 1067.5,613.9 1062.1,611.4 1056.7,608.8 1051.8,606.3 1046.9,603.7 1042,600.9 1037.1,598.1 1032.2,595.2 1027.3,592.1 1022.4,589 1017.4,585.8 1012.5,582.6 1007.6,579.3 1003.1,576.2 998.6,573.1 994.1,569.9 989.7,566.6 985.2,563.2 980.7,559.8 976.2,556.4 971.7,552.9 967.2,549.3 962.7,545.8 958.2,542.2 953.7,538.5 949.2,534.8 944.7,530.9 940.2,526.9 935.7,523 931.1,519 926.6,515 922,511 917.4,507.1 912.8,503.4 908.2,499.7 903.5,496.1 898.8,492.6 894,489.1 889.2,485.7 884.4,482.4 879.7,479.1 875.1,476 870.6,472.9 866.2,470 862,467.2 858,464.5 852.3,460.9 847.1,457.7 842.3,454.9 837.8,452.2 833.2,449.5 828.3,446.7 822.8,443.4 818.6,440.9 814.2,438.1 809.5,435.3 804.7,432.3 799.8,429.3 794.9,426.3 790,423.3 785.3,420.4 780.7,417.6 776.4,414.9 771.3,411.8 766.4,408.7 761.7,405.8 757.1,403 752.6,400.2 748,397.5 743.4,394.8 738.7,392.3 733.3,389.5 727.8,386.8 722.3,384.2 716.7,382 711.2,380 705.7,378 700.3,376.2 694.9,374.7 689.7,373.3 684.6,372.1 679.5,371 674.4,369.9 669.4,368.8 664.3,367.6Z"/>
<path d="M862.8,474.7 843.5,472.3 853,457.9Z"/>
<path d="M966.6,556.3 947.5,552.1 958.2,538.7Z"/>
<path d="M1085.2,627.3 1065.8,628.9 1072.1,612.9Z"/>
<path d="M1226,659.1 1208.1,666.8 1208.9,649.6Z"/>
<path d="M1362,692 1341.9,696.6 1346.1,678.9Z"/>
<path d="M497.4,426.9 502.1,424.5 506.7,421.9 511.2,419.4 515.8,417 520.6,414.9 525.7,413 530.5,411.6 535.7,410.3 541,409.1 546.5,407.8 551.9,406.6 557.4,405.6 562.7,404.8 567.8,404.1 573,403.6 578.2,403.3 583.4,403.2 588.7,403.2 593.9,403.3 599.2,403.5 604.5,403.9 610,404.5 615.5,405.3 620.9,406.1 626.2,407 631.2,408 635.8,408.9 641.2,410.1 645.7,411.3 649.9,412.6 654.5,414.2 660,416.2 664.7,417.9 669.8,419.8 675.1,421.8 680.6,423.9 686.2,426.2 691.7,428.5 697,430.9 701.7,433.2 706.5,435.6 711.4,438.1 716.2,440.7 720.9,443.3 725.5,445.8 729.9,448.3 733.8,450.7 738.6,453.7 742.9,456.6 746.9,459.4 750.7,462.2 754.6,465.1 758.6,467.9 763,471.1 767,474 771.2,476.9 776,480.3 782,484.5 786.1,487.2 790.6,490 795.3,493 800.2,496.1 805.4,499.4 810.6,502.8 815.9,506.4 821.1,510.1 826.3,514 830.5,517.3 834.8,520.8 839.2,524.5 843.7,528.3 848.2,532.3 852.7,536.3 857.3,540.3 861.9,544.4 866.5,548.5 871.1,552.5 875.6,556.5 880.2,560.4 884.8,564.4 889.5,568.4 894.2,572.5 898.9,576.5 903.6,580.6 908.2,584.5 912.8,588.3 917.2,592 921.5,595.6 925.6,598.9 931,603.2 936.2,607.2 941.3,610.9 946.1,614.4 950.7,617.7 955.1,620.8 959.3,623.8 963.3,626.6 968.3,630.2 972.8,633.3 977.1,636.2 980.9,638.8 984.5,641.4 988.2,643.6 993.7,646.4 998.7,649.2 1003.5,652 1008.7,654.6 1009.9,653.2 1006.7,648.5 1003.3,643.9 999.7,639.3 995.4,634.2 991.9,631.1 988.1,628.5 984.1,625.8 980,622.9 975.5,619.9 970.5,616.4 966.6,613.5 962.4,610.5 958,607.4 953.4,604.2 948.7,600.8 943.8,597.1 938.7,593.2 933.4,589.1 929.4,585.8 925.2,582.4 920.9,578.7 916.4,574.9 911.8,571 907.1,567 902.5,562.9 897.7,558.9 893,554.8 888.4,550.8 883.8,546.9 879.2,543.1 874.6,539.1 870,535.2 865.4,531.1 860.7,527.1 856.1,523.1 851.5,519.2 846.9,515.4 842.3,511.6 837.8,508.1 833.3,504.6 827.8,500.7 822.3,496.9 816.8,493.3 811.4,489.9 806.1,486.7 801.1,483.6 796.3,480.7 791.9,478 788,475.5 781.9,471.6 777,468.4 772.8,465.6 768.7,462.9 764.2,459.9 760.3,457.1 756.5,454.3 752.6,451.5 748.5,448.5 744,445.5 739,442.3 734.8,439.9 730.4,437.3 725.7,434.7 720.9,432 715.9,429.4 710.9,426.8 706,424.4 701.2,422.1 695.6,419.6 689.9,417.1 684.2,414.8 678.6,412.6 673.2,410.6 668.1,408.7 663.4,407 657.8,405 653,403.3 648.4,401.9 643.5,400.6 637.8,399.3 633,398.4 627.8,397.6 622.3,396.8 616.7,396.1 610.9,395.5 605.2,395 599.6,394.7 594.2,394.4 588.8,394.3 583.3,394.3 577.8,394.5 572.4,394.8 566.9,395.3 561.3,396 555.8,397 550.1,398.2 544.4,399.6 538.8,401.3 533.4,403.3 528.3,405.4 523.5,407.6 518.3,410.4 513.7,413.4 509.4,416.6 505.3,419.8 501.2,423 497,426.1Z"/>
<path d="M669.7,414.5 652.6,416.4 657.7,402.1Z"/>
<path d="M792.6,485 774.3,482.7 783.3,469.1Z"/>
<path d="M901.3,570.3 881.4,565.1 893.3,551.3Z"/>
<path d="M555.7,484.7 560.8,482.6 565.5,480.3 570.3,478.2 575.8,476.2 582.5,474.6 587,473.8 592.2,473 597.7,471.9 603.6,470.8 609.5,469.8 615.5,468.9 621.3,468.1 626.8,467.6 631.8,467.2 637.6,466.9 643,466.9 648.1,467.1 653.1,467.6 658.1,468.1 663.1,468.8 668.3,469.6 673.6,470.5 678.8,471.4 684.1,472.5 689.3,473.8 694.6,475.1 699.8,476.6 705.1,478.2 710.4,479.9 715.6,481.7 720.9,483.7 726.2,485.8 731.4,488 736.7,490.4 741.9,493 746.5,495.3 750.9,497.8 755.4,500.3 759.8,503 764.3,505.8 768.9,508.8 773.6,512 778.4,515.4 782.4,518.3 786.5,521.4 790.5,524.6 794.7,527.9 798.9,531.3 803.3,534.9 807.7,538.6 812.3,542.4 816.9,546.4 821.8,550.5 825.6,553.7 829.5,557.1 833.6,560.7 837.8,564.4 842.1,568.1 846.4,572 850.7,575.8 855.1,579.7 859.4,583.5 863.7,587.3 868,591 872.2,594.6 876.3,598.1 881,602.1 885.8,606 890.6,610 895.3,613.8 900,617.7 904.6,621.4 909.2,625 913.6,628.5 918,631.9 922.2,635.1 926.3,638.2 931.7,642.1 936.7,645.6 941.5,648.8 946.1,651.8 950.5,654.6 955,657.4 959.4,660.3 963.9,663.3 968.6,666.4 973.3,669.5 978.1,672.7 982.8,675.8 987.5,679 992.1,682.1 996.8,685.2 1001.3,688.3 1005.9,691.1 1010.4,693.9 1015,696.6 1019.7,699 1024.4,701.3 1029.1,703.6 1033.9,705.9 1038.8,708 1039.6,706.8 1035.8,703 1032,699.4 1028,695.9 1024.1,692.4 1020.2,688.9 1016,685.6 1011.7,682.5 1007.3,679.3 1002.7,676.3 998.1,673.2 993.4,670.1 988.7,666.9 984,663.8 979.3,660.6 974.6,657.5 969.9,654.3 965.2,651.3 960.7,648.4 956.3,645.6 951.9,642.8 947.4,639.9 942.7,636.7 937.9,633.4 932.7,629.6 928.7,626.6 924.5,623.4 920.3,620.1 915.8,616.6 911.3,613 906.7,609.3 902.1,605.5 897.4,601.7 892.6,597.8 887.9,593.8 883.1,589.9 879.1,586.5 874.9,583 870.6,579.4 866.3,575.6 861.9,571.9 857.5,568.1 853.1,564.3 848.8,560.5 844.4,556.8 840.2,553.1 836,549.6 832,546.2 828,542.9 823.1,538.9 818.4,535 813.7,531.3 809.2,527.6 804.8,524.1 800.4,520.7 796.1,517.4 791.9,514.2 787.7,511.1 783.6,508.2 778.5,504.7 773.6,501.5 768.8,498.6 764.1,495.8 759.5,493.1 754.8,490.6 750.2,488.2 745.5,485.8 740,483.2 734.6,480.8 729.2,478.5 723.8,476.3 718.3,474.3 712.9,472.4 707.5,470.6 702.1,469 696.6,467.4 691.2,466 685.8,464.8 680.4,463.7 674.9,462.7 669.5,461.8 664.2,461 659.1,460.3 653.9,459.7 648.7,459.2 643.2,458.9 637.4,458.9 631.2,459.2 626,459.8 620.3,460.5 614.4,461.4 608.3,462.4 602.2,463.5 596.3,464.7 590.6,466 585.5,467.6 580.9,469.2 574.1,472.1 568.7,475.1 564.2,478.1 559.9,481.1 555.3,484.1Z"/>
<path d="M708.1,474.9 693.3,477.4 697,464.7Z"/>
<path d="M826.6,548.1 809.8,544 819.5,532.3Z"/>
<path d="M932.7,636.3 914.6,632.8 924.4,619.9Z"/>
<path d="M400.1,630.6 405.3,627.9 410.4,625.1 415.5,622.2 420.6,619.3 425.7,616.4 430.8,613.5 436,610.6 441.2,607.6 446.5,604.5 451.3,601.5 456.3,598.3 461.4,595.1 466.6,591.9 471.8,588.7 477,585.5 482.1,582.5 487,579.7 491.7,577.1 496.1,574.7 502,571.8 507.5,569.3 512.7,567.1 517.7,565.2 522.6,563.4 527.7,561.7 532.9,560 538,558.4 543,557 548,555.7 553.1,554.5 558.3,553.4 563.8,552.4 569.7,551.4 574.7,550.6 579.9,549.9 585.3,549.3 590.9,548.7 596.6,548.1 602.3,547.6 608,547.2 613.7,546.8 619.3,546.5 624.9,546.3 630.7,546.1 636.7,546 642.6,546 648.5,546 654.1,546 659.4,546.2 664.3,546.3 668.7,546.5 675.2,547 680.4,547.5 684.8,548.1 688.9,548.7 693.3,549.3 698.6,550 703.6,550.9 708.6,551.7 713.6,552.3 714,551.1 709.3,549.1 704.6,547.4 699.7,545.7 694.3,544.1 690.1,543 686,541.8 681.4,540.8 675.9,540 669.1,539.5 664.6,539.3 659.6,539.2 654.2,539 648.5,539 642.6,539 636.6,539 630.6,539.1 624.7,539.3 618.9,539.5 613.3,539.8 607.5,540.2 601.7,540.6 595.9,541.1 590.2,541.7 584.5,542.3 579,543 573.7,543.7 568.7,544.4 562.6,545.4 556.9,546.5 551.5,547.7 546.3,548.9 541.2,550.2 536,551.7 530.7,553.4 525.5,555 520.4,556.8 515.2,558.6 510,560.6 504.7,562.9 499,565.5 492.9,568.5 488.3,570.9 483.5,573.6 478.5,576.5 473.4,579.5 468.2,582.7 463,585.9 457.7,589.2 452.6,592.4 447.6,595.5 442.7,598.5 437.6,601.9 432.7,605.4 427.8,608.8 423,612.3 418.3,615.7 413.6,619.2 408.9,622.6 404.2,626.2 399.5,629.8Z"/>
<path d="M564.3,548.6 553.3,557 550.9,545.1Z"/>
<path d="M746.1,569.4 751.6,571.6 757.1,573.7 762.5,575.9 767.7,578.6 771.8,580.8 775.7,583.1 779.5,585.6 783.7,588.3 788.2,591.5 792.2,594.5 796.3,597.9 800.6,601.5 805.1,605.4 810,609.7 815.1,614.2 818.9,617.4 822.9,620.8 827.1,624.4 831.5,628.1 835.8,631.9 840.2,635.7 844.5,639.5 848.6,643.1 852.5,646.5 857.2,650.7 861.7,654.8 866,658.7 870.3,662.6 874.4,666.4 878.4,670.1 882.3,673.8 886.7,678.1 890.9,682.3 895,686.5 899,690.6 903,694.7 907.2,698.7 911.3,702.7 915.5,706.6 919.7,710.5 923.9,714.2 928.1,717.9 932.3,721.3 936.4,724.7 940.3,727.8 944.3,730.9 948.4,733.8 952.8,736.7 957.4,739.5 962.2,742.3 967.1,744.9 972.3,747.6 977.9,750.1 983.9,752.6 990.6,754.8 995.6,756.2 1000.8,757.4 1006.4,758.6 1012.1,759.7 1017.9,760.7 1023.7,761.8 1029.6,762.8 1035.3,763.8 1040.9,764.9 1046.5,766.1 1052.2,767.3 1058,768.5 1063.7,769.7 1069.4,770.9 1075,772.1 1080.4,773.2 1085.6,774.3 1090.6,775.3 1096.6,776.5 1102.2,777.6 1107.4,778.6 1112.4,779.6 1117.4,780.6 1122.5,781.6 1127.9,782.8 1132.7,784 1137.6,785.2 1142.5,786.5 1147.4,787.8 1152.4,789.2 1157.6,790.6 1163,792.1 1168.5,793.7 1173.6,795.2 1178.9,796.7 1184.4,798.3 1190,800 1195.6,801.7 1201.3,803.5 1207,805.2 1212.7,806.9 1218.3,808.6 1223.8,810.3 1229.2,812.1 1234.8,813.9 1240.3,815.8 1245.9,817.6 1251.5,819.3 1257.1,821 1262.8,822.4 1268.5,823.7 1274.2,824.8 1279.9,825.6 1285.6,826.4 1291.2,827 1296.8,827.5 1302.5,827.9 1308.1,828.2 1313.6,828.5 1319.2,828.7 1324.8,828.9 1330.4,829 1336,829 1341.6,828.9 1347.2,828.8 1352.8,828.6 1358.4,828.3 1364,827.9 1369.6,827.5 1375.2,827 1380.8,826.3 1386.5,825.7 1392.1,824.9 1397.7,824 1403.3,823.1 1408.9,822.1 1414.5,821 1420.1,819.9 1425.8,818.6 1431.6,817.3 1437.4,815.9 1443.2,814.4 1448.9,812.8 1454.6,811.2 1460.1,809.5 1465.5,807.8 1470.6,806 1476.7,803.7 1482.5,801.3 1488.1,798.9 1493.4,796.4 1498.6,793.8 1503.6,791.1 1508.7,788.3 1513.8,785.3 1518.8,782.1 1523.6,778.8 1528.3,775.5 1532.9,772.3 1537.4,769.1 1541.8,766.1 1547,762.6 1552,759.3 1557,755.9 1561.9,752.7 1566.8,749.4 1571.7,746.1 1566.3,737.9 1561.3,741.2 1556.4,744.5 1551.5,747.8 1546.6,751.1 1541.5,754.5 1536.4,757.9 1531.8,761.1 1527.2,764.3 1522.7,767.5 1518.1,770.8 1513.4,773.9 1508.7,776.9 1503.9,779.7 1499,782.5 1494.1,785.1 1489.1,787.6 1484,790 1478.7,792.3 1473.2,794.6 1467.2,796.8 1462.4,798.5 1457.2,800.1 1451.8,801.8 1446.3,803.4 1440.7,804.9 1435,806.4 1429.3,807.8 1423.6,809.1 1418.1,810.3 1412.6,811.4 1407.1,812.5 1401.6,813.5 1396.2,814.4 1390.7,815.2 1385.2,815.9 1379.7,816.6 1374.2,817.2 1368.8,817.7 1363.3,818.2 1357.8,818.5 1352.4,818.8 1346.9,819 1341.5,819.1 1336,819.2 1330.5,819.2 1325.1,819.1 1319.6,818.9 1314.1,818.7 1308.6,818.4 1303.1,818.1 1297.6,817.7 1292.2,817.2 1286.7,816.6 1281.3,815.9 1275.9,815.1 1270.5,814.1 1265.1,812.9 1259.7,811.5 1254.3,810 1248.9,808.3 1243.4,806.5 1237.9,804.6 1232.3,802.8 1226.7,800.9 1221.1,799.2 1215.5,797.5 1209.9,795.8 1204.2,794.1 1198.5,792.3 1192.8,790.6 1187.2,788.9 1181.7,787.3 1176.3,785.8 1171.1,784.3 1165.5,782.8 1160.1,781.4 1154.8,780 1149.7,778.8 1144.7,777.6 1139.7,776.4 1134.8,775.3 1129.9,774.2 1124.4,773 1119.2,771.9 1114.1,770.9 1109,769.9 1103.8,768.9 1098.3,767.8 1092.4,766.7 1087.4,765.7 1082.1,764.7 1076.7,763.6 1071.1,762.6 1065.3,761.5 1059.6,760.4 1053.8,759.3 1048.1,758.2 1042.5,757.1 1036.8,756 1031,755 1025.1,753.9 1019.3,752.9 1013.5,751.9 1007.9,750.8 1002.6,749.7 997.6,748.5 993,747.2 986.7,745.1 981,742.8 975.8,740.4 970.9,737.9 966.1,735.3 961.4,732.7 956.9,730.1 952.7,727.5 948.7,724.8 944.7,722 940.8,719 936.7,715.9 932.6,712.5 928.5,709 924.4,705.3 920.3,701.5 916.2,697.6 912,693.7 908,689.7 904,685.7 900,681.6 895.9,677.4 891.6,673.1 887.1,668.8 883.2,665 879.1,661.2 875,657.4 870.8,653.5 866.4,649.6 861.8,645.5 857.1,641.3 853.2,637.8 849.1,634.2 844.8,630.5 840.4,626.7 836,622.8 831.7,619.1 827.5,615.5 823.4,612 819.7,608.8 814.4,604.5 809.5,600.4 804.8,596.5 800.3,592.9 796,589.6 791.8,586.5 787,583.3 782.6,580.6 778.2,578.4 773.9,576.4 769.5,574.6 763.6,572.8 757.8,571.4 752,570.1 746.3,568.8Z"/>
<path d="M889.7,676.1 876.4,671.8 884.9,663Z"/>
<path d="M998.9,753.2 984,755.5 988,742.9Z"/>
<path d="M1136.7,780.3 1121,784 1124.1,770.1Z"/>
<path d="M1277.9,820.6 1261.2,825 1264.2,810.1Z"/>
<path d="M1421.9,814.6 1408.2,825.1 1405.2,810.1Z"/>
<path d="M556.9,646.7 562.4,645.2 567.8,643.7 573.3,642.1 578.7,640.5 584.1,639.1 589.5,637.9 594.9,636.8 600.1,635.6 605.4,634.4 610.7,633.3 615.9,632.3 621.2,631.6 626.4,631 631.6,630.7 636.8,630.7 642.1,630.9 647.4,631.3 652.7,631.9 657.9,632.6 663.2,633.5 668.3,634.4 673.5,635.4 678.6,636.5 683.7,637.8 688.6,639.2 693.5,640.7 698.1,642.4 702.6,644.2 707.4,646.5 711.8,648.9 716,651.5 720.2,654.5 724.6,657.7 729.4,661.2 733.2,664.2 737.2,667.6 741.5,671.3 745.8,675.1 750,678.8 754.2,682.5 758.1,685.8 761.8,688.7 767,692.3 771.6,695.1 775.7,697.4 779.6,699.6 783.5,702.1 787.5,705 791.2,707.9 795,710.9 798.9,714.2 803.1,718 806.8,721.5 810.5,725.5 814.4,729.8 818.6,734.2 823.1,738.7 828.2,743.1 832.5,746.4 837.3,749.8 842.5,753.3 847.7,756.8 852.9,760.1 857.8,763.1 862.2,765.9 865.9,768.2 872,772.1 875.7,774 880.6,776.7 884.4,778.9 888.9,781.5 893.7,784.3 898.6,787.1 903.3,789.8 907.6,792.1 912.2,794.7 915.9,796.8 920.6,798.9 928,801.5 932.2,802.7 937,804 942.3,805.3 947.9,806.7 953.8,808.2 959.8,809.6 965.9,811.1 971.9,812.5 977.6,813.9 983,815.3 988.8,816.7 994.5,818.1 1000,819.4 1005.5,820.7 1011,822 1016.4,823.4 1021.8,824.7 1027.3,826.2 1032.8,827.6 1038.3,829.2 1043.9,830.8 1049.4,832.4 1055,834 1060.6,835.7 1066.2,837.4 1071.7,839.1 1077.1,840.8 1082.5,842.6 1087.9,844.3 1093.3,846.2 1098.8,848 1104.3,849.9 1109.6,851.8 1114.8,853.7 1119.7,855.4 1124.3,857.1 1128.6,858.7 1135.1,861.2 1140.4,863.2 1145.1,865.2 1150,867.3 1155.8,869.8 1160.5,872 1165.6,874.5 1171,877.1 1176.5,879.8 1182.2,882.5 1187.8,885 1193.3,887.4 1198.7,889.5 1204.1,891.5 1209.5,893.4 1214.9,895.3 1220.3,897 1225.7,898.5 1231.1,899.9 1236.4,901.2 1241.6,902.4 1246.7,903.5 1252,904.4 1257.4,905.2 1263.1,905.8 1269.3,906.3 1274.3,906.5 1279.7,906.7 1285.2,906.7 1290.9,906.7 1296.7,906.6 1302.5,906.4 1308.3,906.1 1314.1,905.6 1319.8,905 1325.5,904.4 1331.1,903.5 1336.7,902.6 1342.3,901.6 1347.9,900.4 1353.5,899.2 1359.1,897.8 1364.7,896.4 1370.3,894.9 1375.9,893.3 1381.5,891.6 1387.1,889.7 1392.7,887.8 1398.3,885.7 1403.9,883.7 1409.4,881.6 1415,879.5 1420.5,877.4 1426.1,875.4 1431.8,873.3 1437.6,871.2 1443.4,869.1 1449.2,866.9 1454.8,864.7 1460.4,862.4 1465.7,860.1 1470.8,857.8 1476.2,855.1 1481.3,852.3 1486.1,849.6 1490.7,846.8 1495.2,843.9 1499.7,841 1504.2,838.1 1508.8,835 1513.5,831.7 1518.1,828.4 1522.6,825 1527.2,821.6 1531.8,818.1 1536.4,814.6 1541.2,811.1 1546.2,807.5 1550.9,804.4 1555.7,801.2 1560.6,798 1565.7,794.7 1570.8,791.4 1575.9,788.1 1581.1,784.8 1586.2,781.5 1591.3,778.2 1586.5,770.8 1581.4,774.1 1576.3,777.3 1571.2,780.6 1566,783.9 1560.9,787.2 1555.8,790.5 1550.8,793.8 1545.9,797 1541.2,800.3 1536.1,803.9 1531.2,807.4 1526.4,811 1521.8,814.5 1517.3,817.9 1512.8,821.3 1508.4,824.5 1503.8,827.6 1499.3,830.7 1494.8,833.6 1490.4,836.5 1486,839.2 1481.6,841.9 1477,844.6 1472.1,847.2 1467,849.8 1462.1,852.1 1457,854.5 1451.6,856.8 1446.1,859 1440.4,861.3 1434.7,863.5 1429,865.7 1423.3,867.8 1417.7,870 1412.2,872.1 1406.6,874.2 1401.1,876.2 1395.6,878.3 1390.1,880.3 1384.6,882.2 1379.1,884 1373.6,885.7 1368.1,887.3 1362.7,888.7 1357.2,890.1 1351.7,891.4 1346.2,892.7 1340.8,893.8 1335.3,894.8 1329.9,895.7 1324.4,896.5 1319,897.2 1313.4,897.7 1307.8,898.1 1302.1,898.5 1296.4,898.7 1290.8,898.8 1285.2,898.8 1279.8,898.7 1274.7,898.6 1269.7,898.3 1263.9,897.9 1258.4,897.3 1253.2,896.6 1248.2,895.7 1243.3,894.7 1238.2,893.5 1233.1,892.3 1227.8,890.9 1222.6,889.4 1217.3,887.7 1212.1,885.9 1206.8,884.1 1201.6,882.1 1196.3,880 1191,877.8 1185.5,875.3 1180,872.7 1174.5,870 1169.1,867.3 1163.9,864.8 1159,862.6 1153.2,860 1148.2,857.8 1143.3,855.9 1138,853.8 1131.4,851.3 1127.1,849.7 1122.4,848 1117.4,846.2 1112.2,844.3 1106.9,842.4 1101.4,840.5 1095.9,838.7 1090.4,836.8 1084.9,835 1079.5,833.3 1074,831.5 1068.5,829.8 1062.9,828.1 1057.3,826.4 1051.7,824.8 1046,823.1 1040.4,821.5 1034.8,820 1029.3,818.5 1023.8,817 1018.3,815.7 1012.9,814.3 1007.4,813 1001.9,811.7 996.3,810.3 990.7,809 985,807.5 979.5,806.2 973.7,804.8 967.8,803.4 961.7,801.9 955.7,800.5 949.8,799 944.2,797.6 939,796.3 934.4,795 930.4,793.9 923.2,791.7 919.1,790.1 915.6,788.3 910.8,785.9 906.6,783.8 901.8,781.3 896.9,778.6 892,775.9 887.4,773.5 883.4,771.3 878.3,768.9 874.7,767.2 868.5,763.8 864.9,761.5 860.5,758.8 855.7,755.7 850.5,752.5 845.3,749 840.3,745.6 835.6,742.3 831.4,739.1 826.6,734.9 822.2,730.6 818.1,726.3 814.3,722 810.5,718 806.7,714.2 802.3,710.3 798.3,706.9 794.4,703.8 790.5,700.9 786.5,697.9 782.4,695.1 778.5,692.6 774.5,690.2 770.2,687.5 765.4,683.9 762,681.1 758.1,677.9 754,674.3 749.8,670.5 745.5,666.7 741.2,663 737,659.5 733,656.4 728.2,652.8 723.7,649.5 719.3,646.5 714.8,643.7 710.1,641.1 705,638.6 700.3,636.7 695.4,634.9 690.4,633.4 685.2,631.9 680,630.6 674.7,629.5 669.5,628.4 664.2,627.5 658.8,626.6 653.4,625.8 647.9,625.2 642.4,624.8 636.9,624.6 631.4,624.7 625.9,625 620.4,625.5 615,626.3 609.5,627.3 604.1,628.4 598.7,629.6 593.3,631 588,632.9 582.8,634.9 577.5,637.1 572.3,639.3 567.1,641.6 561.9,643.9 556.7,646.1Z"/>
<path d="M710.1,644.2 696.4,644.2 700.9,634Z"/>
<path d="M817,728.8 804.4,723.4 812.7,715.8Z"/>
<path d="M936.3,799.9 921.4,802.2 925.4,789.6Z"/>
<path d="M1074.4,835.8 1059.6,838.1 1063.5,825.5Z"/>
<path d="M1207.1,888.5 1192.1,889.8 1196.8,877.5Z"/>
<path d="M1348.8,896.2 1336.8,905.3 1334.3,892.4Z"/>
<path d="M1486.1,844.6 1476.9,857.8 1470,845.4Z"/>
<path d="M455.2,790.1 458.9,785.6 462.4,781.1 466.1,776.6 470.7,772.2 474.3,769 478.3,765.6 482.6,762.1 486.9,758.7 491.3,755.5 495.5,752.6 500.2,749.8 504.7,747.5 509.3,745.3 514.4,743 520.2,740.3 524.9,738.1 530,735.6 535.4,732.9 540.9,730.2 546.6,727.6 552.1,725.1 557.5,722.9 562.8,720.8 568.1,718.8 573.4,716.9 578.7,715.1 584,713.5 589.3,712 594.6,710.6 599.9,709.3 605.4,708.1 610.9,707.1 616.3,706.2 621.6,705.5 626.7,704.9 631.6,704.4 638,704.1 643.8,704.2 649.5,704.5 655.2,705 661.2,705.6 666.6,706.1 672.1,706.6 677.7,707.3 683.1,708.1 688.3,709.1 693.2,710.5 698.5,712.7 703.4,715.4 708.1,718.4 712.8,721.7 717.7,725.2 721.8,728.2 725.9,731.4 730,734.8 734.2,738.2 738.3,741.7 742.5,745.1 746.6,748.4 750.8,751.8 754.9,755.2 759.1,758.6 763.3,761.8 767.5,765 771.7,768.2 776.1,771.2 780.5,774.1 784.7,777 788.6,779.8 792,782.6 795.5,786 798.4,789.5 801.1,793 804.2,796.7 807.9,800.6 811.4,803.9 815.1,807.5 819.1,811.2 823.4,814.8 828.2,818.2 833.3,821.2 838.3,823.4 843.7,825.4 849.4,827.2 855.2,828.8 860.9,830.2 866.3,831.5 871.3,832.6 877.4,833.8 882.9,834.4 888,834.8 893.1,835.3 898.8,836.3 903.1,837.4 907.6,838.5 912.2,839.9 917,841.3 922.1,842.9 927.5,844.5 933.4,846.3 938.2,847.7 943.4,849.3 948.9,851 954.5,852.7 960.2,854.5 966.1,856.3 971.9,858 977.7,859.7 983.3,861.2 989,862.6 994.7,864 1000.5,865.3 1006.3,866.5 1012,867.7 1017.6,868.9 1023,870.1 1028.2,871.3 1033.2,872.5 1039.2,874 1044.7,875.4 1050,876.8 1055.1,878.3 1060.1,879.8 1065.1,881.6 1070.2,883.6 1074.9,885.6 1079.8,887.9 1084.8,890.3 1089.7,892.9 1094.5,895.5 1099.1,898.1 1103.3,900.7 1107.1,903.2 1112.4,907.2 1116.8,911.3 1120.8,915.4 1124.6,919.3 1128.2,922.9 1132.2,926.5 1135.5,929.6 1139.1,932.6 1143.5,935.6 1147.7,938.3 1152.3,941 1157.4,943.7 1163,946.2 1169.1,948.3 1173.9,949.6 1179.1,950.8 1184.5,951.9 1190.2,952.8 1195.9,953.6 1201.5,954.2 1207.1,954.6 1212.5,954.7 1218,954.6 1223.4,954.3 1228.8,953.9 1234.2,953.3 1239.5,952.7 1244.9,952.1 1250.3,951.4 1255.6,950.6 1261,949.8 1266.4,948.9 1271.7,947.9 1277.1,946.9 1282.5,945.8 1287.9,944.7 1293.3,943.6 1298.7,942.4 1304.1,941.1 1309.5,939.7 1314.7,938.2 1319.9,936.6 1325,935 1330,933.2 1335,931.4 1339.9,929.6 1344.7,927.7 1349.6,925.8 1354.4,923.9 1354.2,923.1 1349.1,924.4 1344.1,925.9 1339.1,927.3 1334.1,928.7 1329.1,930.1 1324,931.5 1318.9,932.8 1313.6,934 1308.3,935.2 1303,936.5 1297.6,937.7 1292.2,938.9 1286.9,940.1 1281.5,941.2 1276.2,942.2 1270.9,943.2 1265.6,944.2 1260.2,945.1 1254.9,945.9 1249.6,946.7 1244.3,947.3 1239,948 1233.7,948.6 1228.4,949.1 1223.1,949.5 1217.8,949.8 1212.5,949.9 1207.3,949.8 1202,949.4 1196.4,948.9 1190.9,948.1 1185.4,947.2 1180.1,946.1 1175.1,945 1170.5,943.7 1164.8,941.6 1159.6,939.2 1154.8,936.6 1150.4,933.9 1146.3,931.4 1142.2,928.5 1138.9,925.8 1135.7,922.8 1131.8,919.1 1128.2,915.7 1124.5,911.8 1120.4,907.6 1115.7,903.2 1110.1,899 1106.1,896.4 1101.7,893.7 1097,891 1092.1,888.3 1087.1,885.7 1082,883.2 1077,880.9 1072.2,878.8 1066.9,876.7 1061.7,874.9 1056.6,873.3 1051.4,871.9 1046,870.5 1040.4,869 1034.4,867.5 1029.4,866.3 1024.1,865.1 1018.7,863.9 1013.1,862.7 1007.4,861.5 1001.6,860.2 995.9,858.9 990.2,857.6 984.7,856.2 979.1,854.7 973.3,853.1 967.6,851.4 961.8,849.6 956,847.8 950.4,846.1 944.9,844.4 939.7,842.8 934.8,841.3 929,839.6 923.6,837.9 918.5,836.4 913.6,834.9 909,833.6 904.4,832.4 899.8,831.3 893.9,830.2 888.5,829.7 883.4,829.3 878.2,828.7 872.3,827.6 867.5,826.5 862.1,825.2 856.5,823.8 850.9,822.2 845.4,820.5 840.2,818.6 835.7,816.6 830.9,813.9 826.4,810.8 822.3,807.5 818.4,804 814.6,800.5 811.1,797.2 807.6,793.6 804.7,790.1 801.9,786.6 798.8,783 795,779.4 791.2,776.4 787.1,773.5 782.8,770.7 778.3,767.8 774,764.9 769.7,762 765.6,758.8 761.5,755.5 757.4,752.2 753.2,748.8 749.1,745.5 744.9,742.1 740.8,738.7 736.6,735.3 732.5,731.8 728.3,728.4 724.1,725.1 719.9,722 715,718.6 710.2,715.2 705.3,712 700.1,709.2 694.4,706.9 689.3,705.4 683.8,704.3 678.2,703.4 672.5,702.8 666.9,702.3 661.6,701.8 655.6,701.2 649.8,700.7 643.9,700.3 637.9,700.3 631.4,700.6 626.4,701 621.1,701.6 615.7,702.4 610.2,703.3 604.6,704.4 599.1,705.5 593.6,706.8 588.3,708.2 582.9,709.8 577.5,711.5 572.2,713.3 566.8,715.2 561.4,717.2 556.1,719.3 550.6,721.6 545,724.1 539.3,726.8 533.7,729.5 528.3,732.1 523.2,734.6 518.6,736.9 512.8,739.5 507.7,741.8 503,744 498.3,746.4 493.5,749.4 489.1,752.3 484.6,755.6 480.1,759.1 475.8,762.7 471.8,766.2 468.3,769.8 464.1,775 460.8,780 457.9,784.9 454.8,789.9Z"/>
<path d="M530.3,733.3 521.5,743.8 516.6,733.8Z"/>
<path d="M668.2,704.4 655.3,708.7 656.3,697.6Z"/>
<path d="M906,835.2 892.7,838.2 894.9,827.2Z"/>
<path d="M1040.5,871.7 1027,874.1 1029.7,863.2Z"/>
<path d="M1164.6,944.5 1150.9,944 1155.9,933.9Z"/>
<path d="M594.7,1129.4 590.8,1132.3 587.1,1135.2 583.3,1138.1 579.1,1140.8 574.4,1143.2 569.2,1145.4 564,1147.8 559.1,1150.3 555,1152.9 551.6,1155.4 548,1157.8 543.1,1160.5 538.8,1162.5 533.6,1164.6 528,1166.9 522.3,1169.1 516.9,1171.1 512.1,1172.9 506.2,1175.2 501.1,1177.2 496.6,1178.6 492,1179.1 487.5,1178.4 482.9,1176.7 477.8,1174.6 471.7,1172.8 467.1,1171.9 462.3,1171 457.2,1170.2 451.8,1169.5 446.1,1169 440.1,1168.7 434.7,1168.7 429.1,1168.9 423.3,1169.3 417.4,1169.8 411.2,1170.2 404.9,1170.5 398.4,1170.7 393,1170.7 387.4,1170.6 381.5,1170.5 375.5,1170.3 369.4,1170.1 363.4,1169.8 357.6,1169.5 351.9,1169.1 346.6,1168.7 340.8,1168.1 335.3,1167.5 329.8,1166.8 324.6,1166.1 319.5,1165.3 314.6,1164.4 309.8,1163.4 305.2,1162.4 299.4,1161 293.9,1159.4 288.7,1157.7 283.7,1155.9 278.9,1154 274.4,1152.1 269.1,1149.8 264.1,1147.5 259.5,1145.1 255.4,1142.6 252,1140 248.5,1136.3 245.7,1132.4 243.6,1128.3 242.2,1124.3 241.1,1119.2 241.1,1114.2 242.2,1108.7 243.7,1104.4 245.8,1099.9 248.6,1094.7 252.4,1088.4 254.6,1084.6 257.2,1080.5 260,1076 262.9,1071.4 266,1066.7 269.1,1062 272.2,1057.4 275.2,1053.1 278.5,1048.4 281.7,1043.8 285,1039.4 288.3,1035 291.7,1030.6 295.1,1026.3 298.7,1021.9 302.3,1017.7 305.9,1013.6 309.6,1009.5 313.4,1005.4 317.3,1001.2 321.5,996.8 326,992.1 329.7,988.3 333.6,984.4 337.7,980.3 341.9,976.2 346.2,972 350.5,967.7 354.9,963.4 359.2,959.1 363.4,954.7 367.1,950.8 370.9,946.9 374.6,943 378.4,939 382.1,935 385.8,931 389.6,926.9 393.3,922.9 397.1,918.9 400.8,914.9 404.6,910.9 408.5,906.9 412.4,902.8 416.3,898.7 420.3,894.7 424.1,890.6 427.9,886.6 431.5,882.7 435,878.8 438.3,874.9 442,870.2 445.4,865.6 448.5,861 451.5,856.5 454.3,852.2 457.2,848 460.1,843.9 463.2,840 466.9,835.7 470.6,831.5 474.3,827.5 478.1,823.6 481.9,819.9 486,816.3 490.3,812.9 494.9,809.6 499.9,806.3 505,803.1 510.3,800.1 515.4,797.4 520.3,795.1 524.7,793.2 530,791.4 534.4,790.3 538.7,789.9 543.3,789.7 548.9,789.6 553.6,789.6 558.6,789.8 563.9,790.1 569.5,790.5 575.1,791 580.6,791.5 586.1,792.1 591.4,792.8 596.7,793.7 602,794.7 607.4,795.8 612.8,796.8 618.1,797.6 623.5,798.3 628.8,798.7 634.1,799 639.2,799.1 644.4,799.2 649.5,799.2 654.7,799.4 659.9,799.6 665.2,799.9 670.7,800.2 676.1,800.4 681.5,800.8 686.8,801.4 692,802.1 696.9,803.3 702.6,805 708.1,807.1 713.6,809.5 718.8,812.1 723.9,815 728.7,818 733.3,821.2 737.7,824.6 741.9,828.2 745.9,832.1 749.7,836 753.2,840 756.3,844.2 759.1,848.8 761.7,853.6 764.4,858.4 767.3,863.1 770.6,867.5 774.3,871.3 778.1,874.8 782.2,878.1 786.5,881.3 791.1,884.5 796.1,887.7 800.2,890.3 804.7,893 809.5,895.7 814.4,898.3 819.4,901 824.4,903.4 829.2,905.8 833.7,907.9 839.4,910.3 844.6,912.3 849.8,914.1 855,915.7 860.4,917.4 866.4,919.1 871.2,920.5 876.1,921.8 881.2,923.1 886.5,924.4 891.9,925.7 897.4,927.1 903,928.6 908.6,930.3 913.8,932 919.2,933.9 924.8,936 930.5,938.1 936.2,940.2 941.9,942.3 947.6,944.3 953.1,946.2 958.6,947.9 964.6,949.5 970.6,950.8 976.6,952 982.4,953.2 988,954.2 993.5,955.3 998.6,956.5 1003.4,957.7 1009.2,959.6 1014.5,961.3 1019.4,963.2 1023.9,965.1 1028.3,967.4 1032.7,970 1037.1,973.1 1041.2,976.7 1045.3,980.7 1049.3,984.7 1053.4,988.7 1057.6,992.3 1061.6,995.6 1065.5,998.8 1069.4,1001.9 1073.5,1004.9 1078,1007.6 1082.9,1010.1 1087.7,1011.9 1092.9,1013.4 1098.2,1014.7 1103.7,1015.8 1109.1,1017 1114.4,1018 1119.3,1019 1124.6,1020.3 1129.7,1021.6 1134.7,1022.9 1139.6,1024.2 1144.5,1025.4 1149.5,1026.5 1149.7,1025.9 1144.9,1024.1 1140.1,1022.4 1135.4,1020.7 1130.5,1019.1 1125.4,1017.4 1120.1,1015.8 1115.2,1014.4 1109.9,1013.2 1104.5,1012.1 1099.1,1010.9 1093.8,1009.7 1088.9,1008.2 1084.5,1006.5 1079.8,1004.2 1075.6,1001.7 1071.7,998.8 1067.9,995.8 1064.1,992.6 1060,989.3 1056,985.8 1052,982 1048,977.9 1043.8,973.9 1039.4,970.1 1034.9,966.8 1030.2,964 1025.6,961.7 1020.8,959.6 1015.8,957.7 1010.4,955.9 1004.4,954.1 999.5,952.7 994.3,951.5 988.8,950.4 983.1,949.4 977.3,948.3 971.4,947.1 965.5,945.7 959.6,944.1 954.3,942.5 948.8,940.7 943.2,938.7 937.5,936.6 931.8,934.5 926.1,932.3 920.5,930.3 915.1,928.4 909.8,926.7 904,924.9 898.4,923.4 892.8,922 887.4,920.6 882.2,919.4 877.1,918.1 872.2,916.8 867.4,915.5 861.5,913.7 856.1,912.1 851,910.4 846,908.7 840.8,906.7 835.3,904.3 830.8,902.3 826.1,900 821.2,897.5 816.2,894.9 811.4,892.3 806.7,889.6 802.2,887 798.1,884.5 793.2,881.3 788.7,878.2 784.5,875.1 780.7,871.9 777,868.6 773.6,864.9 770.4,860.9 767.7,856.5 765.1,851.7 762.4,846.9 759.5,842.1 756.2,837.6 752.5,833.4 748.6,829.3 744.5,825.4 740.2,821.6 735.6,818.1 730.9,814.8 725.9,811.7 720.6,808.7 715.2,806 709.6,803.5 703.8,801.3 697.9,799.5 692.7,798.4 687.3,797.5 681.8,797 676.3,796.6 670.8,796.3 665.4,796.1 660.1,795.8 654.8,795.5 649.6,795.4 644.4,795.3 639.3,795.3 634.2,795.1 629.1,794.9 623.9,794.5 618.7,793.8 613.4,793 608.1,792 602.7,791 597.4,790 591.9,789 586.5,788.3 581,787.7 575.4,787.1 569.8,786.6 564.2,786.2 558.8,785.9 553.6,785.8 548.9,785.8 543.2,785.9 538.4,786 533.8,786.6 528.9,787.7 523.3,789.6 518.7,791.6 513.7,794 508.4,796.8 503.1,799.8 497.8,803 492.7,806.4 487.9,809.9 483.5,813.4 479.4,817.1 475.3,820.9 471.5,824.8 467.7,828.9 464,833.2 460.2,837.6 457,841.6 454,845.8 451.1,850.1 448.3,854.4 445.3,858.8 442.3,863.3 439,867.9 435.3,872.5 432.1,876.2 428.7,880.1 425.1,884 421.3,888 417.5,892 413.6,896.1 409.6,900.1 405.7,904.2 401.8,908.3 398,912.3 394.3,916.3 390.5,920.3 386.8,924.3 383,928.3 379.3,932.3 375.6,936.3 371.8,940.3 368.1,944.3 364.4,948.2 360.6,952.1 356.4,956.4 352.1,960.7 347.8,965 343.5,969.2 339.2,973.5 335,977.6 330.9,981.7 326.9,985.6 323.2,989.5 318.7,994.1 314.5,998.5 310.6,1002.8 306.7,1006.9 303,1011 299.4,1015.2 295.7,1019.5 292.1,1023.9 288.6,1028.2 285.3,1032.6 281.9,1037.1 278.6,1041.6 275.3,1046.2 272,1050.9 269,1055.2 265.9,1059.8 262.8,1064.6 259.7,1069.3 256.7,1074 253.9,1078.5 251.3,1082.6 249,1086.4 245.3,1092.8 242.4,1098.1 240.1,1102.9 238.4,1107.7 237.2,1113.8 237.2,1119.6 238.4,1125.3 240.1,1129.8 242.4,1134.3 245.5,1138.8 249.4,1142.8 253.3,1145.8 257.6,1148.5 262.4,1151 267.5,1153.4 272.8,1155.7 277.5,1157.6 282.3,1159.5 287.4,1161.3 292.8,1163.1 298.4,1164.7 304.4,1166.2 309,1167.2 313.9,1168.2 318.9,1169 324,1169.9 329.3,1170.6 334.8,1171.3 340.4,1172 346.2,1172.5 351.6,1173 357.3,1173.3 363.3,1173.7 369.3,1173.9 375.4,1174.1 381.4,1174.3 387.3,1174.4 393,1174.5 398.4,1174.5 405,1174.4 411.5,1174.1 417.6,1173.6 423.6,1173.2 429.3,1172.8 434.7,1172.5 439.9,1172.5 445.8,1172.8 451.3,1173.3 456.6,1174 461.6,1174.8 466.4,1175.7 470.7,1176.6 476.5,1178.2 481.6,1180.3 486.6,1182.1 492,1182.9 497.3,1182.3 502.4,1180.8 507.6,1178.8 513.5,1176.5 518.2,1174.8 523.7,1172.7 529.4,1170.5 535.1,1168.2 540.3,1166 544.9,1163.9 550,1161.1 553.8,1158.5 557.2,1156.1 560.9,1153.7 565.7,1151.3 570.8,1148.9 576,1146.2 580.7,1143.2 584.7,1140 588.3,1136.7 591.7,1133.2 595.1,1129.8Z"/>
<path d="M391.5,1172.7 404,1167 404.1,1178.1Z"/>
<path d="M248.7,1140.3 262.2,1142.8 255.8,1152Z"/>
<path d="M301.6,1015.4 297.9,1028.6 289.3,1021.4Z"/>
<path d="M400.4,912.6 395.9,925.5 387.7,917.9Z"/>
<path d="M494.6,807.2 488,819.3 481.2,810.3Z"/>
<path d="M635.8,797.3 623,802.1 623.7,790.9Z"/>
<path d="M759,844.1 746.8,838 755.5,830.9Z"/>
<path d="M873.5,919.2 859.9,921.1 863.1,910.3Z"/>
<path d="M1010.5,957.8 996.9,959.7 1000.1,949Z"/>
<path d="M298.6,867.8 303.6,865.5 308.6,863.3 313.6,861 318.5,858.6 323.5,856.2 328.5,853.7 333.4,851.1 338.4,848.3 343.4,845.3 348.3,841.8 353.3,838.2 358.2,834.6 363,831 367.6,827.4 372,824.1 376.1,820.9 381,817.1 385.6,813.5 389.7,809.9 393.5,806.6 397.1,803.4 400.6,800.4 405.2,796.3 409.3,792.7 413.2,789.2 417.1,785.6 416.5,784.8 412,787.7 407.8,790.7 403.3,793.8 398.2,797.4 394.5,800.2 390.7,803.1 386.7,806.1 382.4,809.4 377.9,813 372.9,816.9 368.9,820 364.5,823.3 359.9,826.9 355.1,830.5 350.2,834.1 345.3,837.6 340.5,841 335.8,844.3 331.2,847.4 326.5,850.3 321.8,853.2 317.1,855.9 312.4,858.7 307.6,861.4 302.9,864.3 298.2,867.2Z"/>
<path d="M375.9,817.8 369.4,829.9 362.6,821Z"/>
<path d="M270,947.5 275.2,944.8 280.5,942 285.8,939.2 291,936.4 296,933.3 300.9,930.1 305.6,926.8 310,923.3 314.2,919.7 318.3,915.9 322.3,912 326.4,907.9 330.1,904.1 333.9,899.9 337.7,895.6 341.3,891.2 344.7,887 347.9,883.2 350.7,879.9 354.9,875.6 358.3,872.4 361.5,869.7 364.8,866.6 364.2,865.8 360.4,868.3 356.9,870.6 353,873.5 348.3,877.5 345,880.6 341.5,884.2 337.7,888.1 333.9,892.2 330.1,896.5 326.4,900.6 322.8,904.3 318.7,908.3 314.7,912.2 310.7,915.9 306.8,919.6 302.7,923.3 298.5,926.9 294,930.3 289.3,933.7 284.4,936.9 279.4,940.2 274.5,943.5 269.6,946.9Z"/>
<path d="M325.4,905.3 320.4,918.1 312.6,910.1Z"/>
<path d="M346.4,745.2 351.9,743.1 357.3,741.1 362.7,739 368.1,736.8 373.5,734.7 378.9,732.5 384.4,730.4 390,728.2 395.8,725.9 401.1,723.9 406.8,721.9 412.6,719.8 418.4,717.6 424.3,715.3 430.1,713 435.8,710.8 441.2,708.5 446.3,706.2 451,703.9 457,700.6 462.4,697.2 467.3,693.8 471.8,690.5 476,687.2 479.8,684 483.6,681 488.7,677 493.5,673.2 497.8,669.5 501.8,666 505.5,662.6 509.7,658.5 513.2,654.5 516.5,650.7 519.8,646.8 519,646 515.2,649.4 511.5,652.8 507.6,656.3 503.3,660 499.3,663.1 495.1,666.2 490.6,669.5 485.7,672.9 480.4,676.6 476.3,679.5 472.3,682.5 468.1,685.6 463.8,688.9 459.1,692.1 454,695.3 448.2,698.5 443.7,700.7 438.8,702.9 433.5,705.1 427.9,707.4 422.1,709.6 416.3,711.9 410.4,714.1 404.7,716.5 399.1,718.9 393.8,721.3 388.2,723.9 382.7,726.4 377.4,729 372.1,731.5 366.8,734.1 361.6,736.6 356.5,739.2 351.3,741.8 346,744.4Z"/>
<path d="M455.7,698 447.2,708.8 442,698.8Z"/>
<path d="M376.2,679.2 381.5,678 386.7,676.9 392,675.7 397.3,674.4 402.7,672.8 408.1,670.9 412.9,669 417.8,666.9 422.8,664.6 427.6,662.1 432.4,659.4 436.9,656.7 441.3,653.9 446.1,650.6 450.5,647 454.7,643.4 458.6,639.7 462.3,636.2 465.8,632.9 470.5,628.4 474.7,624.1 478.5,619.9 482.4,615.6 481.6,614.8 477.1,618.4 472.8,622 468.2,625.8 463.2,629.9 459.4,632.9 455.4,636 451.3,639.3 447,642.5 442.5,645.7 437.9,648.9 433.8,651.5 429.3,654.1 424.7,656.8 420,659.4 415.4,662 410.8,664.4 406.3,666.7 401.2,669 396.2,671 391.1,672.8 386.1,674.6 381,676.4 376,678.4Z"/>
<path d="M445.3,647.6 438,659.2 431.8,649.8Z"/>
<path d="M446,508.6 450.9,507.7 455.7,506.7 460.5,505.7 465.4,504.5 470.4,503 475.4,501.5 480.4,499.8 485.5,497.9 490.8,495.4 496.1,492.3 500.8,489.1 505.6,485.6 510.5,481.9 515.3,477.9 520.1,473.9 524.8,469.9 524,468.9 518.6,471.7 513.2,474.9 507.8,478 502.6,481.1 497.6,484 492.9,486.5 487.6,489.1 482.6,491.5 477.9,493.8 473.3,496 468.6,498.2 464,500.2 459.4,502.1 454.8,503.9 450.3,505.7 445.8,507.6Z"/>
<path d="M500.5,486 492.6,497.5 486.6,486.9Z"/>
<path d="M514.7,364.7 520.7,364.1 526.7,363.4 532.7,362.6 538.6,361.8 544.3,361.3 549.7,361 555.8,361.1 561.5,361.4 567.2,361.7 573,362.3 579.1,362.8 584.5,363.3 590.4,363.6 596.4,363.9 602.1,364.3 607.2,364.6 611.5,364.9 617.2,365.3 620.6,365.8 624.2,366.1 624.4,364.9 621.1,363.6 617.7,362.5 612.1,361.1 607.8,360.2 602.7,359.3 597,358.2 591.1,357.2 585.2,356.3 579.7,355.8 573.6,355.3 567.8,354.8 561.9,354.4 555.7,354.4 549.3,355 543.6,355.9 537.8,357.2 532,358.7 526.1,360.3 520.3,362 514.5,363.7Z"/>
<path d="M586.2,359.9 573.3,364.9 574.3,352.7Z"/>
<path d="M559.5,274.9 565.2,276.1 571.2,277.1 577.2,278.1 583.1,279.1 588.8,280.1 594.1,281.1 599,282.1 604.8,283.4 609.8,284.4 614.3,285.6 618.7,286.9 623.4,288.3 628.6,289.9 634.1,291.8 639.4,293.7 644.4,295.6 648.6,297.1 653.5,298.8 656.8,300 660.2,301.2 660.6,300.2 657.5,298.4 654.4,296.7 649.8,294.3 645.8,292.4 641,290 635.8,287.5 630.4,285.2 625.2,283.1 620.4,281.5 615.8,280.2 611.1,279 605.9,277.8 599.8,276.9 594.8,276.4 589.4,275.9 583.6,275.4 577.6,275 571.5,274.7 565.4,274.4 559.5,274.1Z"/>
<path d="M630.8,287.9 617.2,289.2 620.8,278.6Z"/>
<path d="M706.3,156.5 710.9,159.8 715.8,162.8 720.6,165.7 725.6,168.1 730.4,170.4 734.8,172.7 739.8,175.6 744.6,178.6 749.1,181.6 753.2,184.6 756.9,187.4 761.8,191.3 765.3,194.7 768.7,199.1 770.5,202.5 772.1,206.7 773.9,211.4 775.9,216.4 778.5,221.4 781.8,226.3 785.5,231.3 789.7,235.9 793.7,240 797.2,243.5 801.5,247.5 804.8,250.1 808.3,252.5 809.1,251.7 806.5,248.3 803.9,245.2 800.4,240.7 797.6,236.8 794.2,232.2 790.7,227.2 787.1,222.5 784.1,218 781.8,213.7 780,209.1 778.2,204.4 776.4,199.8 774.1,195.5 770.3,190.3 766,186.3 760.9,182.2 757.1,179.3 752.8,176.2 748.2,173.1 743.2,170 738,166.9 733.3,164.5 728.4,162.2 723.2,160 717.7,158.4 712.2,156.9 706.7,155.7Z"/>
<path d="M772.3,197.7 759.7,192.1 768.5,184.4Z"/>
<path d="M828.5,282.2 833,285.7 837.3,289.1 842,292.7 847.6,296.4 852.3,299 857.7,301.6 863.3,304.3 869,306.6 874.3,308.8 878.7,310.7 883.4,313.2 886.8,315.3 890.7,317.5 896.3,319.7 900.7,321.1 905.4,322.6 910.6,324 916.1,325.4 922,326.8 928.1,328.2 934.3,329.4 939.6,330.3 945.3,331.1 951.3,331.8 957.4,332.5 963.5,333.2 969.4,333.9 974.9,334.7 979.7,335.7 983.7,336.7 989.3,339 993.1,341.5 996.1,344.4 999.1,347.7 1002.7,351.1 1006.9,355.1 1011.2,359.7 1015.5,364.4 1019.5,368.5 1023.3,371.5 1030.1,372.8 1034,367.5 1034.7,362.4 1034.7,356.2 1035,350 1036.4,345.3 1039.4,341.5 1043.8,337.9 1048.4,335.2 1052,333.6 1055.8,334 1059.9,336.7 1064.2,339.5 1064.6,339.1 1061,335.4 1057,331.6 1051.8,330 1046.7,331.4 1041.4,334.5 1036.4,338.5 1032.6,343.3 1030.9,349.3 1030.5,356.1 1030.5,362.1 1030,365.9 1028.6,368.4 1025.7,366.9 1023,364.7 1019.3,360.8 1015,356.2 1010.5,351.5 1006.3,347.5 1002.8,344.1 999.8,340.8 996.3,337.5 991.7,334.4 985.5,331.9 980.9,330.6 975.7,329.7 970.1,328.8 964.1,328.1 958,327.4 951.9,326.7 945.9,326 940.3,325.2 935.3,324.4 929.2,323 923.3,321.6 917.6,320 912.2,318.5 907.1,316.9 902.5,315.5 898.5,314.1 893.3,312 889.9,310 886.4,307.9 881.3,305.3 876.6,303.2 871.3,301 865.6,298.7 859.8,296.5 854.3,294.5 849.6,292.6 843.6,289.9 838.6,287.2 833.8,284.5 828.9,281.8Z"/>
<path d="M991.1,336.6 977.4,337.7 981.1,327.2Z"/>
<path d="M901,357.1 906.5,359.6 912.1,362 917.7,364.3 923.2,366.6 928.6,369 933.9,371.4 939,373.8 944.1,376 949,378.2 953.9,380.6 958.6,383.2 963.2,386.2 967.3,389.1 971.3,392.4 975.3,395.9 979.3,399.6 983.4,403.4 987.5,407.1 991.8,410.6 992.4,410 988.9,405.8 985.3,401.6 981.6,397.4 977.9,393.3 974.1,389.3 970.2,385.6 966.2,382.2 961.3,378.8 956.3,376 951.2,373.5 946.2,371.2 941,369.1 935.7,367 930.2,365 924.5,363.1 918.7,361.4 912.9,359.7 907,358 901.2,356.5Z"/>
<path d="M970.3,388.2 956.9,385.5 963.4,376.4Z"/>
<path d="M916.1,289.9 921.7,289.4 927.4,289 933.2,288.6 939,288.2 944.7,287.6 950.3,287 955.6,286.2 960.6,284.9 966.5,282.9 971.8,280.7 976.8,278.2 981.5,275.6 986.2,272.5 991.1,269.1 995.5,265.8 1000,262.1 1004.4,258.2 1008.8,254 1013.1,249.8 1017.3,245.6 1021.4,241.4 1025.3,236.9 1029.2,232.2 1033,227.3 1036.7,222.6 1040.1,218.2 1043.2,214.3 1045.9,211.2 1050.8,206.5 1054,204.3 1057.6,203 1061.8,201.5 1065.9,200.9 1071.1,202.5 1074.1,204.5 1077.8,207.5 1081.7,211.1 1085.8,215 1090,218.9 1094.1,222.4 1094.5,222 1090.9,217.9 1087.2,213.7 1083.4,209.4 1079.7,205.5 1076.1,202.1 1072.5,199.5 1066.4,197.3 1061,197.6 1056.2,199 1052,200.6 1048,203.3 1042.9,208.2 1039.9,211.5 1036.6,215.4 1033.1,219.7 1029.3,224.4 1025.5,229.1 1021.5,233.6 1017.6,237.8 1013.6,242 1009.5,246.1 1005.3,250.3 1000.9,254.4 996.6,258.2 992.3,261.7 988.1,264.9 983.3,268.1 978.8,270.8 974.2,273.2 969.5,275.4 964.5,277.3 958.8,279.1 954.2,280.4 949.2,281.8 943.9,283.1 938.4,284.3 932.8,285.4 927.1,286.6 921.4,287.8 915.9,289.1Z"/>
<path d="M1024.2,234.6 1019.7,247.5 1011.6,239.9Z"/>
<path d="M1014.6,304.7 1019.8,302.9 1025,301.1 1030.2,298.9 1035.5,295.9 1040,292.4 1044.4,288.1 1048.5,283.6 1052.4,279.4 1055.9,276 1060.3,271.9 1063.7,269.2 1067.2,267.9 1071.9,267.9 1077.3,269.3 1083.6,271.3 1087.7,272.8 1092.2,274.8 1096.9,276.9 1101.7,279.1 1106.5,281 1106.9,280.4 1102.5,277.6 1098.1,274.8 1093.6,272.1 1089.2,269.7 1085,267.7 1078.6,265.2 1072.4,263.7 1066.6,263.7 1061.6,265.5 1057.6,268.7 1052.9,273 1049.4,276.5 1045.4,280.7 1041.3,285.2 1037.2,289.5 1033.5,293.1 1028.8,296.4 1024.1,299.1 1019.2,301.5 1014.4,304.1Z"/>
<path d="M1073.7,264.7 1062.2,272.2 1060.5,261.2Z"/>
<path d="M887.8,192.9 884.4,196.6 881,200.4 878.4,205 877.3,209.9 877.8,215.2 879.5,220.7 882.2,225.9 885.8,230.2 890.4,233.8 895.9,236.7 901.9,238.7 907.9,239.7 913.9,239.5 920.1,238.3 926,236.2 931,233.4 935.2,229.8 938.7,225.5 941.3,220.5 942.7,215.2 942.4,209.5 940.7,203.8 938.1,198.2 935.3,192.9 934.7,193.1 935.7,199.1 937.4,204.9 939,210.2 939.3,214.8 938.1,219.2 935.8,223.5 932.7,227.4 929,230.6 924.5,233 919.2,234.9 913.5,236.1 908.1,236.3 902.8,235.4 897.3,233.5 892.2,230.8 888.2,227.8 885.1,224 882.7,219.3 881.2,214.5 880.7,210.1 881.7,206.3 883.9,202.3 886.3,197.8 888.2,193.1Z"/>
<path d="M931.5,231.8 922.4,242 917.8,231.8Z"/>
<path d="M1106.5,317.1 1110.1,321 1113.7,325 1117.4,328.8 1121,332.8 1124.4,336.7 1127.6,340.7 1130.9,344.6 1134.1,348.5 1137.1,352.5 1140,356.6 1142.5,360.8 1144.7,365.1 1146.5,369.5 1148,374.1 1149.2,378.9 1150.3,383.8 1151.2,389 1152,394.4 1152.7,399.4 1153.3,404.7 1153.9,410.1 1154.3,415.7 1154.6,421.2 1154.6,426.4 1154.5,431.3 1153.8,436.9 1152.7,442.5 1151.3,447.9 1149.9,453.1 1148.7,457.8 1148.2,462.1 1149.4,469.6 1153.3,474 1156.6,476.1 1160.4,477.5 1165.4,479.3 1169.2,480.9 1173.7,482.9 1178.7,485 1184.3,487.2 1190.4,489.4 1195.3,490.8 1200.5,492.2 1206.1,493.5 1211.7,494.9 1217.3,496.3 1222.8,497.7 1227.8,499.2 1233.3,501.2 1238.6,503.3 1243.8,505.5 1248.9,507.7 1254,509.8 1259.2,511.6 1264.4,513 1269.5,514.2 1274.6,515.4 1279.6,516.4 1284.6,517.5 1289.7,518.5 1289.9,517.7 1285.1,515.9 1280.2,514.2 1275.4,512.5 1270.6,510.8 1265.7,509 1260.8,507 1255.9,505 1250.9,502.9 1245.8,500.8 1240.5,498.5 1235.1,496.4 1229.4,494.4 1224.2,492.8 1218.6,491.3 1212.9,489.9 1207.3,488.5 1201.8,487.2 1196.6,485.8 1192,484.4 1186.1,482.4 1180.7,480.3 1175.7,478.2 1171.2,476.2 1167.2,474.5 1162.2,472.7 1158.9,471.5 1156.7,470 1153.7,467.6 1152.4,461.9 1152.9,458.6 1154,454.1 1155.4,449 1156.8,443.4 1158,437.6 1158.7,431.7 1158.9,426.5 1158.8,421 1158.5,415.4 1158.1,409.8 1157.5,404.2 1156.9,398.8 1156.2,393.8 1155.3,388.3 1154.4,383 1153.3,377.9 1152,372.9 1150.5,368.1 1148.5,363.3 1146.2,358.7 1143.5,354.3 1140.5,350 1137.4,345.9 1134.1,341.9 1130.8,337.9 1127.1,334.1 1123.2,330.5 1119.1,327 1115,323.6 1110.9,320.2 1106.9,316.7Z"/>
<path d="M1154.5,474.8 1144.1,465.9 1154.2,461.1Z"/>
<path d="M1059.2,386.9 1062.2,391.3 1065.4,395.8 1068.6,400.2 1071.9,404.4 1075.4,408.2 1080.2,411.9 1085.1,414.8 1089.4,417.5 1092.7,420.5 1095,424 1096.6,427.8 1097.7,432 1098.4,436.7 1098.7,442.3 1098.6,448.6 1098.4,454.8 1098,459.7 1096.7,465.2 1095,469.2 1095.6,469.6 1098.3,465.9 1100.6,460.3 1101.6,455.1 1102.5,448.9 1102.9,442.3 1102.6,436.3 1101.8,431.2 1100.6,426.4 1098.7,422 1095.9,417.7 1092,414.1 1087.4,411.2 1082.6,408.4 1078.2,405 1074.7,401.8 1071,398.1 1067.3,394.2 1063.5,390.3 1059.6,386.5Z"/>
<path d="M1101.2,443.3 1094.4,431.5 1105.5,430.4Z"/>
<path d="M1217,153.1 1220.3,157.7 1223.7,162.3 1227.1,166.8 1230.4,171.2 1233.5,175.7 1236.4,180.2 1239.1,184.9 1241.7,189.6 1244.1,194.6 1246.4,199.7 1248.6,204.9 1250.7,210.3 1252.7,215.6 1254.6,221 1256.4,226.6 1258.3,232.5 1260,238.4 1261.6,244.3 1263.1,250 1264.3,255.3 1265.2,260.1 1266.1,266 1266.6,271.2 1266.7,275.8 1266.4,280 1265.8,283.6 1263.8,289.2 1260.9,293.5 1257.1,296.9 1253.6,298.7 1249.4,299.9 1244.3,300.8 1238.5,301.4 1233.4,301.8 1227.8,302 1222,302 1215.9,301.5 1209.6,300.2 1204.7,298.9 1199.4,297.1 1193.8,295 1188.2,292.6 1182.7,290.1 1177.5,287.5 1172.9,284.8 1168.1,281.6 1163.8,278.1 1159.7,274.4 1155.9,270.6 1152.1,266.8 1148.3,263 1144.5,259.2 1140.9,255.3 1137.5,251.3 1134,247.3 1130.6,243.3 1127,239.4 1126.4,239.8 1129.3,244.3 1132.3,248.7 1135.2,253.1 1138.3,257.4 1141.5,261.8 1144.9,266 1148.5,270.2 1152.2,274.2 1156.2,278.2 1160.4,282 1165,285.7 1170.1,289.2 1175,292.1 1180.3,294.9 1185.9,297.7 1191.7,300.3 1197.4,302.6 1202.9,304.6 1208.2,306.2 1215.1,307.5 1221.7,308.1 1228,308.1 1233.8,307.8 1239.1,307.4 1245.1,306.8 1250.7,305.9 1255.9,304.3 1260.5,301.9 1265.5,297.5 1269.2,291.9 1271.6,285.4 1272.6,280.8 1273.1,276.1 1273.2,271 1272.9,265.4 1272.2,259.1 1271.4,254 1270.4,248.4 1269.2,242.5 1267.8,236.4 1266.3,230.2 1264.7,224.2 1263,218.4 1261.3,212.7 1259.5,207.1 1257.6,201.5 1255.6,196 1253.4,190.5 1251.1,185.1 1248.5,179.7 1245.6,174.6 1242.4,169.7 1239.1,165 1235.7,160.4 1232.3,155.9 1229,151.4 1225.8,146.9Z"/>
<path d="M1266.8,291.1 1264.9,277.5 1275.7,280.7Z"/>
<path d="M1191.4,175.8 1186,176.1 1180.1,177 1176.3,181.2 1175.9,186 1176.5,191.3 1177.9,197.1 1179.9,202.9 1182.4,208.1 1185.7,213 1189.9,217.9 1194.5,222.5 1199,226.2 1203.1,228.9 1209.1,230.9 1215,230 1218.2,225.3 1218.2,221 1217.4,215.9 1216.1,210.2 1214.3,204.2 1212.5,198.7 1210.6,194 1207.6,188.3 1204.1,183.2 1200.5,179.2 1196.6,176.2 1190.6,176.5 1185.9,179.7 1186.1,180.3 1191.1,179.1 1195.4,179.8 1197.8,181.9 1201.1,185.6 1204.4,190.2 1207.2,195.6 1208.9,200 1210.7,205.4 1212.4,211.1 1213.7,216.7 1214.5,221.3 1214.6,224.1 1213,226.8 1209.6,227.2 1204.7,225.5 1201.3,223.2 1197.1,219.7 1192.7,215.4 1188.7,210.7 1185.6,206.3 1183.3,201.5 1181.5,196 1180.2,190.6 1179.6,185.8 1179.7,182.8 1182,180.2 1186.6,178.6 1191.6,176.4Z"/>
<path d="M1269.2,131.9 1271.4,137.2 1273.5,142.4 1275.6,147.6 1277.7,152.9 1279.9,158.1 1282,163.3 1284.1,168.6 1286.2,173.8 1288.2,179 1290.2,184.1 1292.2,189.4 1294.2,194.6 1296.2,199.9 1298.1,205.2 1300.1,210.4 1302,215.7 1303.8,220.8 1305.7,225.9 1307.4,230.9 1309.2,235.7 1311.3,241.7 1313.4,247.7 1315.4,253.7 1317.3,259.6 1319.2,265.2 1321,270.5 1322.8,275.4 1324.4,279.8 1327.3,286.5 1329.7,291.4 1331.9,295.5 1334.3,300.1 1336.5,304.5 1338.8,309.1 1341.2,313.9 1343.8,318.9 1346.6,324.1 1349.2,328.6 1352.1,333.3 1355,338.2 1358.6,342.7 1362.4,347.1 1366.4,351.3 1367.6,350.7 1366,345.1 1364.1,339.6 1361.9,334.2 1359.3,329.3 1356.7,324.5 1354.4,319.9 1351.8,314.8 1349.3,309.8 1347,305.1 1344.8,300.4 1342.7,295.9 1340.3,291.1 1338.2,287.1 1336.1,282.7 1333.6,276.2 1332.1,272 1330.4,267.3 1328.7,262 1326.8,256.4 1324.9,250.5 1323,244.5 1320.9,238.4 1318.8,232.3 1317.1,227.4 1315.3,222.4 1313.5,217.3 1311.6,212.2 1309.7,206.9 1307.8,201.6 1305.8,196.3 1303.8,191 1301.8,185.7 1299.8,180.5 1297.8,175.2 1295.7,170 1293.6,164.7 1291.5,159.5 1289.4,154.3 1287.3,149 1285.1,143.8 1283,138.5 1280.9,133.3 1278.8,128.1Z"/>
<path d="M1316.9,242.3 1304.2,229.8 1319,224.6Z"/>
<path d="M1243.5,351.9 1245.1,357.6 1246.9,363.3 1248.7,369.1 1250.5,374.8 1252.4,380.3 1254.5,385.5 1256.7,390.2 1259.7,396.2 1262.7,401.7 1265.7,406.7 1268.8,411.2 1272.1,415.3 1276.4,419.8 1280.8,423.4 1285.1,426.7 1289.5,429.9 1290.1,429.3 1286.4,425.2 1282.6,421.4 1278.9,417.5 1275.3,412.9 1272.5,408.6 1269.6,404.2 1266.7,399.3 1263.8,394 1260.9,388.2 1258.8,383.6 1256.7,378.5 1254.3,373.3 1251.8,367.9 1249.3,362.4 1246.8,356.9 1244.1,351.7Z"/>
<path d="M1268.1,406.5 1257.1,398.4 1266.8,392.8Z"/>
<path d="M1401.3,367.3 1402.5,372.8 1403.7,378.2 1404.9,383.7 1406.1,389.3 1407.4,395 1408.8,401 1410.2,406.5 1411.7,412.2 1413.2,418 1414.7,423.9 1416.3,429.7 1417.8,435.4 1419.2,440.9 1420.9,447.1 1422.7,453.2 1424.4,459.2 1426,464.9 1427.5,470.4 1428.8,475.4 1429.9,480.8 1430.7,485.8 1431.4,490.5 1432.1,495.2 1433,500 1433.8,505 1434.7,510 1435.6,515.1 1436.7,520.3 1438.1,525.5 1440,530.9 1442.3,536.4 1444.7,541.7 1446.7,546.4 1448,550.3 1449.3,555 1449.5,557.8 1448.9,559.7 1446.6,562 1442.7,564.3 1438.4,565.9 1434.4,566.8 1430.4,567.1 1425.5,565.9 1422.1,564.2 1418,561.8 1413.5,558.8 1408.9,555.3 1404.3,551.5 1400.4,548.1 1396.3,544.2 1392.1,539.9 1387.8,535.6 1383.5,531.2 1379.2,527.1 1375,523.1 1370.9,519.1 1366.7,515.1 1362.4,511.3 1358.2,507.7 1353.9,504.4 1348.9,501.1 1344.2,498.4 1339.3,496 1334.1,493.8 1328.2,491.5 1323.3,489.9 1317.9,488.4 1312.1,486.9 1306.3,485.4 1300.7,484 1295.3,482.7 1290.6,481.5 1284.7,480 1279.7,478.8 1275.1,477.6 1270.8,476.2 1266.2,474.3 1262,472.1 1257.5,469.5 1253.1,466.6 1248.8,463.6 1244.8,460.8 1241.6,458.1 1238.1,454.1 1235.7,449.8 1233.7,445.3 1231.4,440.9 1230.6,441.1 1232,446 1233.3,450.8 1235.2,455.8 1238.4,460.9 1241.6,464.4 1245.5,467.9 1249.9,471.2 1254.5,474.4 1259.1,477.3 1263.6,479.7 1268.6,481.9 1273.4,483.5 1278.2,484.7 1283.3,485.9 1289,487.3 1293.8,488.6 1299.2,489.9 1304.9,491.3 1310.6,492.7 1316.3,494.2 1321.5,495.7 1326.2,497.3 1331.8,499.4 1336.8,501.5 1341.3,503.7 1345.7,506.3 1350.3,509.4 1354.4,512.4 1358.4,515.8 1362.5,519.6 1366.7,523.5 1370.8,527.5 1375,531.5 1379.1,535.6 1383.2,540 1387.3,544.5 1391.5,548.9 1395.6,553.1 1399.7,556.9 1404.6,560.8 1409.5,564.5 1414.2,567.7 1418.8,570.4 1423.3,572.5 1429.7,574.1 1435.4,573.8 1440.4,572.5 1445.7,570.6 1450.8,567.6 1454.7,563.7 1456.7,559 1456.7,553.9 1455.6,548.1 1454.1,543.6 1452,538.6 1449.6,533.3 1447.4,528 1445.7,523.1 1444.4,518.4 1443.4,513.6 1442.5,508.7 1441.7,503.7 1440.8,498.8 1440.2,494 1439.6,489.4 1439.1,484.6 1438.4,479.4 1437.4,473.6 1436.4,468.3 1435.2,462.7 1433.9,456.8 1432.4,450.7 1431,444.5 1429.6,438.3 1428.3,432.8 1426.9,427 1425.5,421.2 1424.1,415.3 1422.7,409.4 1421.4,403.8 1420.2,398.4 1418.8,392.4 1417.5,386.7 1416.3,381.2 1415.1,375.8 1413.9,370.3 1412.7,364.7Z"/>
<path d="M1426.6,448.4 1414.7,434.4 1430.4,430.4Z"/>
<path d="M1320.7,492.1 1334.4,491 1330.6,501.6Z"/>
<path d="M1349.4,409.8 1351.5,415.3 1354,420.5 1356.2,425.4 1357.5,429.9 1357.5,435 1356.6,440.6 1355,445.4 1353.5,447.7 1350.8,448.1 1346.2,446.3 1341,442.8 1337.6,440 1334,436.4 1330.3,432.3 1326.9,427.9 1324,423.5 1321.5,418.8 1319.2,413.5 1317.3,408.3 1316.2,403.6 1316,400.6 1317.8,397.2 1321.8,395.2 1327.4,394.3 1331.5,394.3 1336.5,394.7 1341.8,395.6 1346.8,397 1351,399 1354.5,401.6 1357.6,404.8 1360.3,408.7 1362.9,413.1 1365.2,417.9 1366.9,422.5 1368.6,427.7 1370,433.2 1371.2,438.8 1372.1,444.3 1372.5,449.6 1372.4,454.5 1372,459.4 1371.3,464.3 1370.5,469.2 1369.7,474.3 1369.2,479.3 1370,479.5 1371.5,474.6 1373,469.8 1374.4,464.9 1375.7,459.9 1376.6,454.8 1376.7,449.4 1376.3,443.9 1375.4,438 1374.2,432.2 1372.6,426.5 1370.9,421.1 1369,416.3 1366.6,411.1 1363.9,406.4 1360.8,402.1 1357.3,398.4 1353.2,395.4 1348.3,393.1 1342.8,391.5 1337.1,390.5 1331.7,390 1327,390.1 1320.5,391.2 1314.9,394.2 1312,399.4 1312,404.2 1313.3,409.5 1315.3,415.1 1317.7,420.6 1320.4,425.7 1323.4,430.3 1327,435 1330.9,439.3 1334.8,443.1 1338.4,446.2 1344.2,450.1 1350.2,452.3 1355.7,451.3 1358.8,447.2 1360.7,441.6 1361.7,435.3 1361.7,429.3 1360.1,423.8 1357.1,418.8 1353.5,414.1 1350,409.6Z"/>
<path d="M1313.1,397.1 1320.5,408.7 1309.4,410.3Z"/>
<path d="M1090.1,679.5 1095,682.7 1099.9,685.6 1104.8,688.5 1109.9,691.3 1115.3,693.8 1121.2,695.6 1127.5,697.3 1132.7,698.5 1138.2,699.5 1143.7,700.4 1149.4,701.3 1155.2,702.1 1160.9,702.9 1166.6,703.7 1172.3,704.5 1177.8,705.4 1183.4,706.2 1189.2,707.1 1195,708.1 1200.9,709 1206.7,709.9 1212.4,710.8 1217.8,711.6 1223,712.3 1227.8,712.9 1234.4,713.5 1240.5,713.9 1245.9,714.2 1250.9,714.4 1255.3,714.6 1259.2,714.9 1265,715.6 1269.3,716.5 1276.2,717.8 1280.6,718.7 1285.5,719.7 1290.9,720.7 1296.6,721.9 1302.4,723.1 1308.1,724.2 1313.6,725.3 1319,726.3 1324.3,727.4 1329.6,728.5 1335,729.5 1340.4,730.5 1345.8,731.5 1351.2,732.4 1356.6,733.2 1362.1,734.1 1367.7,735 1373.3,735.7 1378.8,736.4 1384.2,736.8 1389.5,736.8 1395.2,736.1 1400.4,734.9 1405.4,733.6 1410.1,732.1 1414.8,730.6 1419.5,729 1419.3,727.6 1414.2,727.5 1409.3,727.7 1404.5,727.9 1399.6,728 1394.7,727.9 1389.5,727.4 1384.9,726.9 1379.9,726.4 1374.7,725.7 1369.3,724.8 1363.9,723.8 1358.4,722.8 1353,721.8 1347.7,720.8 1342.5,719.7 1337.2,718.6 1331.9,717.4 1326.6,716.2 1321.3,715.1 1316,713.9 1310.4,712.8 1304.7,711.6 1298.9,710.5 1293.2,709.3 1287.8,708.2 1282.8,707.2 1278.6,706.4 1271.9,704.8 1267.2,703.6 1260.8,702.5 1256.3,702 1251.6,701.6 1246.7,701.2 1241.4,700.8 1235.7,700.3 1229.4,699.5 1224.8,698.9 1219.7,698.2 1214.4,697.4 1208.8,696.5 1203,695.6 1197.1,694.7 1191.3,693.8 1185.5,692.9 1179.8,692 1174.1,691.2 1168.4,690.5 1162.6,689.8 1156.9,689.1 1151.2,688.4 1145.7,687.7 1140.3,686.9 1135.2,686 1130.3,685.1 1124.4,683.7 1118.8,682.3 1113.3,681.2 1107.7,680.3 1102.1,679.4 1096.4,678.6 1090.5,678.1Z"/>
<path d="M1270.1,710 1250.6,716.7 1252.9,698.6Z"/>
<path d="M1075.2,719.3 1080.3,721.3 1085.4,723.1 1090.5,724.8 1095.6,726.4 1100.7,728 1105.9,729.3 1111.2,730.4 1116.6,731.4 1122.1,732.6 1127.8,733.8 1133.1,735.1 1138.6,736.4 1144.2,737.7 1150,739.1 1155.8,740.6 1161.6,742.1 1167.4,743.5 1173.2,745 1178.9,746.5 1184.4,747.9 1189.8,749.3 1195.6,750.6 1201.2,752 1206.8,753.4 1212.3,754.8 1217.8,756.2 1223.2,757.5 1228.5,758.8 1233.7,760 1238.8,761.2 1243.9,762.2 1250,763.4 1255.7,764.5 1261.3,765.5 1266.8,766.3 1272.2,767.1 1277.7,767.9 1283.3,768.6 1289.2,769.4 1294.5,770.1 1299.9,770.8 1305.5,771.4 1311.1,772.1 1316.7,772.7 1322.4,773.3 1328.2,773.7 1333.9,774.1 1339.5,774.4 1345.1,774.6 1350.7,774.7 1356.3,774.7 1361.9,774.7 1367.5,774.5 1373.1,774.3 1378.7,774 1384.4,773.6 1390,773.1 1395.7,772.5 1401.6,771.8 1407.5,771 1413.3,770.1 1419.2,769.1 1424.9,768.1 1430.4,767 1435.7,765.9 1440.7,764.7 1446.7,763.2 1452.3,761.6 1457.6,759.9 1462.7,758.2 1467.5,756.3 1472.2,754.3 1476.9,752.2 1482.1,749.6 1487.1,746.9 1491.9,744 1496.5,741 1501,737.9 1505.5,734.6 1510,731.1 1514.4,727.4 1518.7,723.7 1522.9,719.8 1527.1,716 1531.3,712.1 1535.5,708 1539.7,703.8 1543.9,699.6 1548,695.4 1552.2,691.1 1556.3,687 1546.7,677.4 1542.5,681.7 1538.4,685.9 1534.2,690.1 1530.1,694.3 1526,698.4 1521.9,702.3 1517.9,706.3 1513.9,710.2 1509.9,714.1 1505.9,717.8 1501.9,721.3 1497.9,724.6 1493.7,727.8 1489.5,730.9 1485.3,733.8 1481,736.6 1476.5,739.2 1471.7,741.8 1467.5,743.8 1463.1,745.8 1458.6,747.6 1454,749.4 1449,751.1 1443.8,752.7 1438.1,754.3 1433.3,755.5 1428.2,756.7 1422.9,757.8 1417.3,759 1411.6,760 1405.9,761 1400.2,761.9 1394.5,762.7 1389,763.3 1383.6,763.8 1378.1,764.2 1372.7,764.5 1367.2,764.7 1361.8,764.9 1356.3,764.9 1350.8,764.9 1345.4,764.8 1339.9,764.6 1334.4,764.3 1328.9,764 1323.3,763.5 1317.7,763 1312.2,762.4 1306.6,761.7 1301.2,761 1295.8,760.3 1290.4,759.6 1284.7,758.8 1279.2,758 1273.8,757.1 1268.5,756.2 1263.1,755.2 1257.7,754.2 1252,753 1246.1,751.8 1241.2,750.6 1236.2,749.4 1231.1,748.1 1225.9,746.8 1220.6,745.4 1215.2,743.9 1209.7,742.4 1204.1,740.9 1198.4,739.4 1192.6,737.9 1187.2,736.7 1181.7,735.3 1176,734 1170.2,732.6 1164.3,731.2 1158.4,729.8 1152.6,728.4 1146.8,727 1141,725.7 1135.5,724.5 1130,723.4 1124.3,722.2 1118.6,721.1 1113.2,720.1 1107.8,719.2 1102.4,718.6 1097,718.3 1091.7,718.1 1086.3,717.9 1080.9,717.8 1075.4,717.9Z"/>
<path d="M1200.5,745.9 1181.5,750.1 1185.6,733.4Z"/>
<path d="M1482.9,742.8 1471,758.2 1463.4,742.7Z"/>
<path d="M986.4,888.9 991.7,891.2 996.9,893.3 1002.1,895.4 1007.4,897.8 1013.1,900.5 1017.4,902.6 1022.1,904.9 1026.9,907.3 1031.7,909.9 1036.4,912.5 1040.9,915.2 1045.1,917.9 1049.7,921 1053.9,924.1 1057.9,927.4 1061.8,930.7 1065.8,934.1 1069.8,937.6 1073.9,941.2 1078.1,945 1082.2,948.9 1086.4,952.8 1090.6,956.5 1094.8,960 1099.1,963.4 1103.4,966.6 1107.8,969.7 1112,972.6 1116.1,975.3 1120,977.7 1125.4,980.5 1130.3,982.6 1135,984.4 1139.8,986.1 1140.2,985.5 1135.9,982.6 1131.6,980 1127.1,977.3 1122.2,974.1 1118.4,971.7 1114.4,969.1 1110.2,966.2 1105.9,963.2 1101.6,960 1097.4,956.8 1093.3,953.3 1089.2,949.6 1085.1,945.8 1080.9,941.9 1076.8,938.1 1072.6,934.4 1068.5,930.9 1064.5,927.5 1060.6,924.1 1056.5,920.8 1052.1,917.5 1047.5,914.3 1043.1,911.6 1038.5,908.9 1033.7,906.2 1028.8,903.6 1024,901.1 1019.2,898.8 1014.7,896.7 1008.8,894.5 1003.1,892.7 997.6,891.2 992.1,889.7 986.6,888.3Z"/>
<path d="M1076.4,940.5 1063.3,936.5 1070.6,928.1Z"/>
<path d="M695.9,841.4 698.2,846.7 700.6,852 703.1,857.2 705.6,862.3 708.3,867.1 710.8,871.4 713.2,875.4 715.8,879.3 719.1,883.3 723.6,887.5 727.6,890.7 732.3,893.8 737.4,897 742.7,900.3 748.2,903.5 753.5,906.8 758.7,910.2 763.1,913.2 767.7,916.4 772.4,919.6 777,922.9 781.5,926.1 785.8,929.3 789.8,932.2 793.4,935 798.5,939 802.8,942.8 806.6,946.2 810,949.4 813.2,952.4 817.6,956.7 821.1,960.3 825.3,963.2 830.6,964.2 835.6,964.2 838.1,964.8 839.4,967.6 839.8,971.8 838.6,974.6 836.5,975.5 832.4,976.1 827.3,976.3 821.9,976.7 817.4,977 812.5,977.3 807.4,977.5 802.2,977.7 797.1,978.1 797.1,978.7 802.2,979.2 807.4,979.6 812.5,979.9 817.5,980.1 822.1,980.1 827.5,980.1 832.8,979.8 837.5,979.1 841.4,977.2 843.5,972.3 843.1,966.7 840.7,962 836,960.4 831,960.5 826.7,959.8 823.6,957.5 820.2,954 815.8,949.6 812.6,946.7 809.1,943.5 805.3,940 800.9,936.1 795.8,932 792.1,929.2 788,926.2 783.7,923.1 779.2,919.8 774.5,916.5 769.8,913.3 765.2,910.1 760.7,907 755.5,903.7 750.1,900.3 744.7,897 739.3,893.8 734.3,890.7 729.8,887.6 726,884.7 721.9,880.7 718.8,877.1 716.3,873.4 714,869.5 711.3,865.3 708.3,860.7 705.4,856 702.4,851 699.4,846 696.3,841.2Z"/>
<path d="M800,937.8 786.7,934.4 793.6,925.6Z"/>
<path d="M593.9,969.4 588.6,966.7 583.1,964.1 577.6,961.6 572.3,959.1 567.1,956.6 562.2,954.2 556.6,951.4 551.3,948.5 546.3,945.6 541.7,942.6 537.6,939.6 533,935.5 529.1,931.2 525.7,926.9 523.2,922.6 520.7,917.3 519.4,912.3 519.7,906.3 520.7,902.1 522.3,897.4 524.5,892.4 527.3,887.3 530.5,882.3 533.7,878.1 537.4,873.8 541.5,869.6 545.8,865.4 550.4,861.4 555,857.7 559.1,854.8 563.4,852.1 567.9,849.6 572.5,847.2 577.3,844.9 582.1,842.7 587,840.5 592,838.4 597.1,836.3 602.4,834.4 607.8,832.5 613.2,830.6 618.5,828.7 623.8,826.6 623.6,826 618.1,827.4 612.6,828.8 607.1,830.3 601.6,831.8 596.1,833.4 590.8,835.2 585.6,837.1 580.6,839.2 575.7,841.5 570.8,843.8 566.1,846.3 561.5,848.9 557.1,851.7 552.8,854.7 548,858.5 543.3,862.6 538.8,866.9 534.6,871.3 530.8,875.8 527.5,880.1 524,885.3 521.1,890.7 518.8,896 517.1,901.1 515.9,905.9 515.6,912.6 517.1,918.6 519.8,924.4 522.7,929 526.2,933.6 530.4,938.1 535.2,942.4 539.6,945.7 544.3,948.8 549.5,951.8 554.9,954.7 560.6,957.6 565.6,960 571,962 576.6,964.1 582.3,966 588,968 593.7,969.8Z"/>
<path d="M529.2,880.4 527.6,894 518,888.3Z"/>
<path d="M618.8,860.2 624,859.5 629.3,858.6 634.6,857.6 639.7,856.7 644.4,855.8 648.7,855.4 654.4,855.4 659.3,855.8 663.5,857.1 667.4,859.9 669.9,863 672.5,867.2 675,872.1 677.1,877.3 678.7,882.1 679.6,886.2 679.5,891.7 678.2,896.9 676.1,901.5 673.7,905.1 670.8,908.2 667.3,909.8 660.9,910.7 656.7,910.9 651.4,911 645.5,910.9 639.3,910.6 633.4,910.1 628.3,909.3 624.4,908.3 619.3,905.4 615.7,901.5 613.5,897.3 612.8,893.7 613.8,890.3 616.3,886.7 620.1,883.2 624.5,880.1 628.7,878 633.8,876.1 639.2,874.5 644.3,873.4 648.7,872.8 654.6,872.9 659.1,874.2 662.2,877.1 663.7,881.2 664.6,887.1 664.8,893.3 664.5,898.2 663,902.6 660.4,906 657.8,909.8 658.2,910.2 661.7,907.2 665.2,903.9 667.5,899 668.1,893.4 667.9,886.9 666.9,880.4 665,875.3 660.7,871.3 655,869.7 648.5,869.6 643.8,870.2 638.3,871.4 632.7,873 627.4,875 622.9,877.3 618.1,880.6 613.9,884.5 610.8,888.9 609.6,893.5 610.4,898.4 613,903.4 617.2,908 623,911.3 627.6,912.6 633.1,913.4 639.1,913.9 645.4,914.2 651.4,914.3 656.8,914.2 661.3,913.9 668.2,913 672.8,910.8 676.3,907.1 679,903 681.3,898 682.8,892.2 682.8,886 681.8,881.3 680.2,876.1 678,870.8 675.4,865.6 672.6,861.1 669.6,857.5 665,854.2 659.9,852.5 654.5,852.1 648.5,852.2 644,852.6 639,853.4 633.9,854.8 628.8,856.5 623.6,858.1 618.6,859.8Z"/>
<path d="M617.4,907 631.1,906.9 626.6,917.2Z"/>
<path d="M390.9,1025.8 393,1020.3 394.8,1014.8 396.6,1009.3 398.5,1004.1 400.8,999.1 403.9,994.3 407.4,989.5 411.3,985 415.6,980.9 420.3,977.2 424.6,974.5 429.6,971.8 434.9,969.5 440.1,967.5 445.1,965.9 449.4,965 455.2,964.6 460.2,965.2 464.5,966.8 468,969.5 470.1,972.7 471.7,977.2 472.9,982.4 473.9,988 475,993.6 476,998.4 477,1003.6 477.9,1008.8 478.6,1013.9 478.9,1018.8 478.8,1023 477.7,1028.6 475.9,1033.6 473.4,1038.1 470.4,1042.1 466.8,1046 462.5,1049.5 458,1052.3 453.8,1054 448.2,1054.6 442.6,1053.6 437.6,1051.6 433.1,1048.6 429.4,1044.6 427.1,1040.3 426.9,1035.1 428.2,1029 429.3,1023.6 430.7,1018.1 432.1,1013.4 431.5,1013.2 429,1017.5 426.7,1022.8 425,1028.3 423.6,1034.8 423.9,1041.1 426.7,1046.5 431,1051.1 436,1054.6 441.7,1056.8 448.1,1057.9 454.6,1057.2 459.5,1055.2 464.4,1052.1 469.1,1048.4 473,1044.3 476.2,1039.9 478.9,1035 480.9,1029.5 482,1023.4 482.2,1018.7 481.8,1013.6 481.1,1008.3 480.2,1003 479.2,997.8 478.2,993 477.2,987.4 476.1,981.7 474.8,976.2 473,971.3 470.4,967.3 466.1,963.9 461,962 455.2,961.3 449,961.8 444.3,962.8 439.1,964.3 433.6,966.4 428.2,968.9 423,971.6 418.3,974.6 413.4,978.4 408.9,982.8 404.8,987.5 401.1,992.4 398,997.5 395.4,1002.8 393.7,1008.5 392.5,1014.2 391.5,1019.9 390.5,1025.6Z"/>
<path d="M477.5,1035.7 475.4,1022.2 486.2,1025.1Z"/>
<path d="M536.2,1038.2 536.4,1043.4 536.9,1048.7 537.4,1053.9 537.8,1059 538.2,1063.9 538.3,1068.5 537.8,1073.8 537,1078.9 535.8,1083.7 534.1,1088.4 532.1,1092.9 529.7,1097.3 526.8,1101.7 523.5,1105.8 519.9,1109.7 516,1113.1 511.7,1116.2 507.1,1118.9 502.2,1121.3 497,1123.5 491.5,1125.3 486.8,1126.7 481.7,1127.8 476.5,1128.8 471.2,1129.5 465.9,1130.1 460.7,1130.5 455.6,1130.6 450.4,1130.6 445.3,1130.3 440.2,1129.9 435,1129.2 429.9,1128.4 424.8,1127.3 419.6,1126.1 414.5,1124.6 409.3,1123 404.2,1121.1 399,1119.1 393.9,1116.8 388.6,1114.2 383.4,1111.4 378.1,1108.5 373,1105.5 368,1102.6 363,1099.7 357.9,1096.8 352.9,1093.9 348.3,1090.9 344.2,1087.7 340.9,1084.4 337.7,1080.1 335.3,1075.3 333.5,1070.4 332.2,1065.3 331.2,1060.4 330.8,1055.6 330.7,1050.7 330.9,1045.8 331.2,1040.8 331.1,1035.7 330.5,1035.7 329.6,1040.6 328.7,1045.5 327.9,1050.5 327.5,1055.7 328,1060.8 329,1066 330.4,1071.4 332.3,1076.7 334.9,1081.8 338.3,1086.6 342.1,1090.2 346.4,1093.6 351.2,1096.7 356.3,1099.6 361.4,1102.5 366.4,1105.4 371.4,1108.4 376.5,1111.4 381.8,1114.3 387.1,1117.1 392.5,1119.8 397.8,1122.1 403,1124.2 408.3,1126.1 413.5,1127.8 418.8,1129.3 424,1130.5 429.3,1131.6 434.6,1132.5 439.8,1133.1 445.1,1133.6 450.4,1133.9 455.6,1133.9 460.9,1133.7 466.2,1133.4 471.6,1132.8 477.1,1132 482.4,1131.1 487.6,1129.9 492.5,1128.5 498.1,1126.5 503.5,1124.3 508.7,1121.8 513.5,1118.9 518,1115.7 522.2,1112 526,1108 529.4,1103.6 532.5,1099 535.1,1094.3 537.2,1089.6 538.9,1084.6 540.2,1079.5 541.1,1074.2 541.5,1068.7 541.5,1063.8 541.1,1058.7 540.2,1053.5 539,1048.4 537.8,1043.2 536.6,1038.2Z"/>
<path d="M422.8,1128.8 436.1,1125.5 434.1,1136.5Z"/>
<path d="M749.9,988.1 747.5,984.4 745,980.7 740.6,977.1 736.5,974.9 731.7,973 726.4,971.3 720.7,969.9 715,969 710.1,968.8 704.9,968.9 699.7,969.3 694.4,970 689.4,970.7 684.6,971.6 679.3,972.6 674.5,973.7 669.7,975 664.7,976.8 659.2,979.2 654.8,981.5 650.1,984.2 645.3,987.3 640.4,990.4 635.6,993.4 630.9,996.1 626.6,998.3 620.4,1000.4 614,1001.9 607.7,1003.2 602.1,1004.6 597.6,1006.9 593.7,1012 593.2,1017.9 594.5,1023.7 596.3,1028.4 599.1,1033.3 602.8,1038.1 607.6,1042.2 612.2,1044.9 617.5,1047.2 623.2,1049.2 629.4,1050.9 635.7,1052.4 640.5,1053.4 645.8,1054.3 651.3,1055.1 656.8,1055.8 662.2,1056.3 667.4,1056.6 672.1,1056.7 678,1056.3 683.4,1055.6 688.3,1054.4 693,1053 697.7,1051.4 703.3,1048.9 708.6,1045.9 713.7,1042.8 718.8,1039.7 718.4,1039.1 712.9,1041.4 707.5,1043.9 702.2,1046.3 696.5,1048.2 692,1049.5 687.4,1050.8 682.7,1051.9 677.7,1052.6 672.1,1052.9 667.5,1052.9 662.5,1052.6 657.2,1052.1 651.8,1051.4 646.4,1050.6 641.2,1049.7 636.5,1048.8 630.3,1047.3 624.4,1045.6 618.8,1043.7 613.9,1041.6 609.8,1039.2 605.6,1035.5 602.2,1031.2 599.7,1026.8 598.1,1022.7 596.9,1017.7 597.2,1013.4 600,1009.7 603.4,1008.2 608.5,1006.9 614.7,1005.6 621.4,1004 628,1001.7 632.7,999.4 637.5,996.6 642.4,993.5 647.3,990.4 652.1,987.4 656.6,984.8 660.8,982.6 666.1,980.3 670.9,978.6 675.4,977.3 680.1,976.2 685.2,975.2 689.9,974.4 694.9,973.7 700,973.1 705.1,972.7 710,972.6 714.6,972.8 720,973.6 725.4,974.9 730.5,976.5 735.2,978.2 739,979.7 743.5,982.3 746.4,985.4 749.5,988.5Z"/>
<path d="M593.6,1012.8 599.4,1000.4 606.7,1008.9Z"/>
<path d="M899.3,1039.1 893.6,1039.7 888,1040.4 882.5,1041.1 877,1041.8 871.3,1042.5 865.4,1043.2 859.2,1043.7 854,1044.3 848.6,1044.8 843,1045.4 837.2,1045.9 831.4,1046.3 825.6,1046.7 820,1047.1 814.6,1047.3 809.5,1047.5 803.2,1047.5 797,1047.3 791,1046.9 785.1,1046.4 779.6,1046.1 774.4,1046 769.5,1046.2 762.2,1047.2 755.9,1048.8 750.6,1051 746,1054.2 742.1,1058.5 739.2,1063.8 737.2,1069.4 736.3,1074.7 736.6,1079.6 738.1,1084.2 740.2,1088.6 742.8,1093.2 745.6,1097.1 749.1,1100.9 752.6,1104.7 755.6,1108.6 757.6,1112.6 758.3,1117.4 758,1122.9 757.4,1128.8 757,1134.7 757.6,1140 759.5,1145.2 762.1,1149.4 765.6,1153.5 770.5,1158.3 773.6,1161.3 777.3,1164.6 781.3,1167.9 785.7,1171.3 790.3,1174.7 794.9,1178.2 799.5,1181.5 804,1184.7 804.4,1184.1 800.5,1180.3 796.3,1176.5 792,1172.6 787.8,1168.8 783.6,1165.2 779.7,1161.7 776.2,1158.6 773.1,1155.7 768.4,1150.9 765.1,1147.2 762.9,1143.6 761.2,1139.2 760.7,1134.6 761.1,1129.1 761.8,1123.2 762,1117.2 761.2,1111.6 758.8,1106.6 755.5,1102.3 751.9,1098.3 748.5,1094.7 746,1091.2 743.5,1086.8 741.5,1082.8 740.3,1078.9 740.1,1074.9 740.9,1070.3 742.6,1065.3 745.2,1060.7 748.4,1057 752.4,1054.3 757.1,1052.4 762.9,1050.9 769.9,1050 774.4,1049.7 779.4,1049.9 784.9,1050.2 790.7,1050.6 796.8,1051 803.1,1051.3 809.5,1051.3 814.7,1051.1 820.2,1050.8 825.9,1050.5 831.7,1050.1 837.5,1049.6 843.3,1049.1 849,1048.6 854.4,1048 859.6,1047.5 865.8,1046.5 871.7,1045.5 877.4,1044.4 882.9,1043.2 888.3,1042.1 893.8,1040.9 899.3,1039.7Z"/>
<path d="M742.1,1060.2 747.7,1047.7 755.1,1056.1Z"/>
<path d="M1011.2,1244 1005.9,1242.3 1000.8,1240.7 995.7,1239.1 990.2,1237.3 984.2,1235.2 979.4,1233.5 974.4,1231.7 969.1,1229.9 963.6,1228 958.1,1226.1 952.6,1224 947.3,1221.9 942,1219.7 936.7,1217.4 931.3,1215 926,1212.4 920.6,1209.9 915.3,1207.3 909.9,1204.8 904.4,1202.3 898.8,1199.8 893.1,1197.2 887.6,1194.7 882.2,1192.3 877.1,1189.8 872.5,1187.5 866.7,1184.5 861.7,1181.7 857.1,1178.9 852.5,1176 847.8,1172.8 843.5,1169.8 839.1,1166.7 834.7,1163.5 830.5,1160.2 826.6,1156.8 823.1,1153.3 819.4,1148.7 816,1143.8 813,1138.8 810.4,1133.8 808.2,1129 806.1,1123.3 804.6,1117.8 803.6,1112.5 803.3,1107.2 803.6,1102.1 804.6,1096.8 805.8,1091.5 806.9,1086.1 806.5,1085.9 804.6,1091.1 802.6,1096.2 800.9,1101.6 800.1,1107.2 800.4,1112.8 801.3,1118.5 802.9,1124.3 805.2,1130.2 807.4,1135.2 810,1140.4 813,1145.7 816.4,1150.9 820.3,1155.7 824,1159.6 828,1163.2 832.3,1166.7 836.7,1170 841.1,1173.2 845.4,1176.2 850.2,1179.5 854.8,1182.5 859.6,1185.3 864.7,1188.2 870.5,1191.3 875.2,1193.7 880.3,1196.2 885.7,1198.7 891.3,1201.3 896.9,1203.9 902.5,1206.5 907.9,1209 913.2,1211.6 918.5,1214.2 923.9,1216.8 929.2,1219.4 934.6,1222 939.9,1224.4 945.3,1226.7 950.9,1228.7 956.5,1230.7 962.1,1232.5 967.7,1234.2 973.1,1235.8 978.3,1237.2 983.2,1238.4 989.4,1239.9 995.1,1241.2 1000.4,1242.3 1005.6,1243.3 1011,1244.4Z"/>
<path d="M865.4,1186.2 879.1,1187 873.9,1197Z"/>
<path d="M881.7,1156.8 878.4,1152.5 874.8,1148.2 871.3,1143.9 868.2,1139.9 865.7,1136.1 863.2,1131.8 861.4,1127.7 860.2,1123.7 859.7,1119.5 859.8,1114.8 860.5,1109.9 861.8,1104.9 863.3,1100.4 865.8,1095.2 868.9,1090.5 872.7,1085.9 876.2,1082.6 880.4,1079.3 884.9,1076 889.2,1072.6 888.8,1072 884,1074.6 879.1,1077.3 874.4,1080.2 870.3,1083.5 865.9,1088.2 862.5,1093.3 859.9,1099 858.2,1103.9 856.8,1109.1 856,1114.5 855.9,1119.7 856.6,1124.5 857.9,1129 859.8,1133.5 862.5,1138.1 865.5,1142 869.2,1145.8 873.2,1149.7 877.3,1153.5 881.3,1157.2Z"/>
<path d="M864.2,1093.3 864.6,1107 854.3,1102.8Z"/>
<path d="M1044.9,1155.5 1040.1,1154.8 1035.6,1154.1 1030.9,1153.5 1025.8,1153 1020,1152.6 1015.3,1152.8 1010.3,1153.1 1005.1,1153.5 999.8,1153.9 994.4,1154.2 989.1,1154.2 983.9,1153.9 978.5,1153.3 973,1152.4 967.3,1151.3 961.8,1150.1 956.5,1148.6 951.5,1147 947.1,1145.3 941.5,1142.5 936.5,1139.3 932.1,1135.7 928.4,1132.1 925.4,1128.5 922.7,1123.9 920.9,1119.1 920.2,1114.4 920.7,1110.2 922.6,1106.2 925.8,1102 930.1,1098.2 934.7,1095.1 938.8,1093.2 943.6,1091.7 948.7,1090.5 953.9,1089.7 959,1089.1 963.7,1088.7 968.1,1088.7 972.7,1089 977.7,1089.5 983.4,1090.4 988.2,1091.2 993.7,1092.1 999.5,1093.2 1005.4,1094.5 1011,1095.9 1016.1,1097.4 1020.2,1098.9 1026,1102 1030.5,1105.6 1033.7,1109.2 1035.6,1112.6 1036.5,1117.1 1035.4,1121.6 1032.2,1125.7 1029,1127.8 1024.5,1130 1019.2,1132.2 1013.6,1134.4 1008.5,1136.8 1008.7,1137.4 1014.2,1136 1020,1134.5 1025.6,1132.9 1030.7,1131 1034.8,1128.5 1038.8,1123.3 1040.3,1117.3 1039.2,1111.4 1036.7,1107 1033.1,1102.8 1028.1,1098.9 1021.8,1095.5 1017.3,1093.8 1012,1092.2 1006.2,1090.8 1000.3,1089.6 994.4,1088.4 988.9,1087.5 984,1086.6 978.2,1085.8 973,1085.2 968.2,1084.9 963.5,1085 958.6,1085.3 953.4,1086 948,1086.9 942.6,1088.1 937.5,1089.7 932.9,1091.9 927.7,1095.3 923.1,1099.5 919.4,1104.2 917.1,1109.2 916.5,1114.5 917.2,1120 919.3,1125.5 922.4,1130.7 925.6,1134.7 929.6,1138.6 934.3,1142.3 939.6,1145.7 945.5,1148.7 950.2,1150.6 955.4,1152.2 960.9,1153.7 966.6,1155 972.3,1156.1 978,1157 983.5,1157.7 989,1158 994.5,1158 1000.1,1157.7 1005.4,1157.3 1010.6,1156.8 1015.5,1156.5 1020,1156.4 1025.7,1156.2 1030.7,1156.1 1035.4,1156.2 1040.1,1156.2 1044.9,1156.1Z"/>
<path d="M944.6,1089 934.9,1098.7 930.9,1088.3Z"/>
<path d="M930.4,1014.7 936.1,1014.5 941.6,1014.1 947.1,1013.7 952.9,1013.5 959.1,1013.8 963.8,1014.2 968.9,1014.7 974.2,1015.4 979.7,1016.2 985.2,1017.1 990.7,1018 996.1,1018.9 1001.5,1019.6 1006.9,1020.2 1012.3,1020.9 1017.6,1021.6 1022.9,1022.5 1028.1,1023.6 1033.2,1025 1038.3,1026.8 1043.3,1029.1 1048.4,1031.6 1053.5,1034.3 1058.6,1037 1063.8,1039.5 1069.1,1041.7 1074.5,1043.5 1079.8,1045.2 1085.2,1046.8 1090.6,1048.2 1096,1049.5 1101.4,1050.7 1106.8,1051.9 1112.3,1052.9 1117.9,1053.9 1123.6,1054.7 1129.2,1055.4 1134.6,1056.1 1139.7,1056.6 1144.5,1056.9 1150.1,1057.2 1154.9,1057.3 1159.4,1057.1 1164.2,1056.6 1169.9,1055.7 1174.7,1054.7 1180.1,1053.5 1185.8,1052.2 1191.6,1050.6 1197.4,1049 1202.8,1047.3 1207.7,1045.6 1213.6,1043 1218.8,1040.3 1223.5,1037.4 1228.1,1034.6 1232.9,1031.7 1237.7,1028.9 1242.4,1026 1247.1,1023.1 1252.1,1020.1 1257.9,1017.1 1262.4,1014.9 1267.3,1012.8 1272.4,1010.6 1277.8,1008.4 1283.5,1006 1289.4,1003.4 1295.6,1000.6 1300.1,998.5 1304.9,996.1 1309.7,993.7 1314.8,991.2 1319.9,988.6 1325,986 1330.2,983.4 1335.4,980.8 1340.5,978.3 1345.5,975.9 1350.5,973.6 1355.6,971.2 1360.8,968.8 1365.9,966.5 1371,964.2 1376.1,961.9 1381.1,959.7 1386,957.6 1390.7,955.6 1395.3,953.7 1400.7,951.5 1405.9,949.6 1411,947.9 1416,946.2 1420.8,944.5 1425.7,942.7 1430.5,940.9 1435.3,938.8 1440.5,936.3 1445.4,933.8 1450.1,931.2 1454.8,928.5 1459.6,925.6 1464.9,922.4 1470.6,918.9 1475.1,916.2 1479.9,913.2 1484.9,910 1490.2,906.8 1495.5,903.4 1500.9,899.9 1506.2,896.5 1511.3,893.1 1516.2,889.8 1520.8,886.5 1526.1,882.7 1530.9,878.9 1535.5,875.2 1539.8,871.6 1544.1,867.9 1548.6,864.2 1553.2,860.5 1558.2,856.6 1562.5,853.3 1567.1,850 1571.7,846.6 1576.5,843.2 1581.4,839.7 1586.3,836.2 1591.3,832.6 1596.2,829.1 1601.1,825.6 1605.9,822.1 1601.9,816.5 1597,819.9 1592.1,823.4 1587.2,826.9 1582.2,830.5 1577.3,834 1572.4,837.5 1567.6,840.9 1562.9,844.4 1558.4,847.7 1554,851 1548.8,855 1544.1,858.8 1539.6,862.6 1535.3,866.2 1531,869.8 1526.6,873.4 1521.9,877.1 1516.8,880.9 1512.3,884 1507.4,887.4 1502.4,890.8 1497.2,894.2 1491.9,897.7 1486.6,901.1 1481.4,904.4 1476.4,907.6 1471.6,910.6 1467.2,913.3 1461.5,916.9 1456.3,920.1 1451.5,923 1447,925.8 1442.4,928.3 1437.7,930.8 1432.7,933.2 1428.2,935.2 1423.5,937.1 1418.8,938.8 1414,940.4 1409,942.1 1403.9,943.9 1398.5,945.9 1392.9,948.1 1388.3,950.1 1383.6,952.1 1378.7,954.3 1373.7,956.5 1368.6,958.9 1363.5,961.2 1358.3,963.6 1353.2,966 1348.1,968.5 1343.1,970.9 1338,973.3 1332.9,975.9 1327.7,978.5 1322.6,981.2 1317.4,983.8 1312.3,986.4 1307.4,989 1302.5,991.5 1297.8,993.8 1293.4,996 1287.3,998.8 1281.5,1001.4 1275.9,1003.9 1270.5,1006.2 1265.3,1008.4 1260.4,1010.6 1255.7,1012.9 1249.9,1016.1 1244.7,1019.2 1240,1022.3 1235.5,1025.2 1230.7,1028.1 1225.9,1031 1221.3,1033.8 1216.7,1036.6 1211.8,1039.2 1206.1,1041.6 1201.4,1043.3 1196.2,1045 1190.5,1046.6 1184.8,1048.1 1179.2,1049.4 1173.9,1050.6 1169.1,1051.5 1163.6,1052.4 1159.1,1052.9 1154.8,1053.1 1150.3,1053 1144.7,1052.7 1140.1,1052.4 1135,1051.9 1129.7,1051.3 1124.2,1050.5 1118.6,1049.7 1113,1048.7 1107.6,1047.7 1102.3,1046.7 1096.9,1045.5 1091.6,1044.3 1086.2,1043 1080.9,1041.5 1075.7,1039.9 1070.5,1038.1 1065.4,1036.1 1060.3,1033.6 1055.2,1031 1050.1,1028.3 1045,1025.7 1039.7,1023.4 1034.4,1021.4 1029,1019.9 1023.6,1018.8 1018.1,1017.9 1012.7,1017.2 1007.3,1016.5 1002,1015.9 996.7,1015.1 991.3,1014.3 985.8,1013.4 980.2,1012.5 974.7,1011.7 969.3,1011 964.1,1010.4 959.1,1010.2 952.8,1010.5 946.9,1011.2 941.3,1012.2 935.9,1013.3 930.4,1014.3Z"/>
<path d="M1035.2,1023.4 1021.7,1025.9 1024.4,1015Z"/>
<path d="M1176.3,1052.4 1164.9,1060.1 1163,1049.1Z"/>
<path d="M1305.2,993.1 1296.4,1003.6 1291.5,993.6Z"/>
<path d="M1440.2,933.1 1431.2,943.4 1426.5,933.3Z"/>
<path d="M1028.8,1072.1 1033.7,1072.6 1038.4,1073 1043.1,1073.4 1047.9,1073.8 1053.1,1074.3 1058.6,1075 1064,1075.5 1070,1076 1076.2,1076.7 1082.5,1077.4 1088.7,1078.3 1094.3,1079.2 1099.3,1080.3 1105.3,1082.1 1110.5,1084.1 1115.2,1086.3 1119.5,1088.7 1123.7,1091.3 1129,1094.8 1134.1,1098.6 1138.1,1102.3 1140.3,1105.4 1140.7,1108.7 1139,1112 1135.7,1115.8 1132.5,1119 1128.5,1122.2 1123.9,1125.3 1118.9,1127.9 1114.5,1129.7 1109.6,1131.3 1104.4,1132.7 1099.4,1133.6 1094.9,1134 1089.6,1133.7 1084.4,1132.3 1079.1,1130.6 1073.7,1129.3 1073.5,1129.9 1078.5,1132.2 1083.6,1134.6 1088.9,1136.6 1094.7,1137.6 1099.9,1137.3 1105.3,1136.3 1110.6,1134.9 1115.8,1133.2 1120.5,1131.3 1125.8,1128.5 1130.8,1125.3 1135,1121.8 1138.5,1118.4 1142.1,1114.1 1144.4,1109.4 1143.9,1104 1140.9,1099.8 1136.5,1095.7 1131.2,1091.7 1125.7,1088.1 1121.4,1085.5 1116.9,1083 1112,1080.7 1106.5,1078.5 1100.3,1076.7 1095,1075.5 1089.2,1074.6 1083,1073.7 1076.7,1073 1070.4,1072.3 1064.4,1071.7 1059,1071.2 1053.3,1071 1048,1071 1043.1,1071 1038.4,1071.2 1033.7,1071.3 1028.8,1071.5Z"/>
<path d="M1144.1,1106.1 1131.6,1100.6 1139.9,1093.1Z"/>
<path d="M1271.8,1116.9 1266.4,1114.1 1261,1111.2 1255.6,1108.5 1250.1,1106.1 1244.7,1104.2 1239.8,1103.1 1235.2,1102.4 1230.5,1102.2 1225.3,1102.3 1219.2,1103 1214.6,1103.7 1209.7,1104.7 1204.4,1106.1 1199,1107.6 1193.4,1109.3 1187.8,1110.9 1182.3,1112.6 1176.9,1114.3 1177.1,1114.9 1182.6,1113.9 1188.2,1112.8 1194,1111.5 1199.6,1110.3 1205.1,1109.1 1210.4,1108.1 1215.2,1107.1 1219.6,1106.4 1225.6,1105.8 1230.5,1105.6 1234.8,1105.9 1239.1,1106.6 1243.9,1107.6 1249.1,1108.9 1254.6,1110.8 1260.2,1113 1265.9,1115.3 1271.6,1117.3Z"/>
<path d="M1212.6,1105.6 1224.3,1098.4 1225.7,1109.5Z"/>
<path d="M1331.6,1158 1325.9,1155.8 1320,1153.5 1313.9,1151 1307.9,1148.7 1302,1146.5 1296.5,1144.6 1291.4,1143.2 1286.8,1142.4 1280.1,1142.8 1275.6,1145 1272.2,1147.7 1268.3,1150.1 1263.9,1151.8 1259,1153.7 1253.8,1155.7 1248.6,1157.9 1243.4,1160.1 1238.4,1162.3 1233.4,1164.7 1228.4,1167.1 1223.4,1169.8 1218.3,1172.7 1214.1,1175.4 1209.9,1178.3 1205.7,1181.3 1201.6,1184.4 1197.4,1187.4 1193.3,1190.2 1188.3,1193.6 1183.5,1197.3 1178.7,1200.6 1174,1203.2 1169.1,1204.8 1164.9,1205.1 1160.3,1204.6 1155.5,1203.6 1150.4,1202.3 1145.1,1201.3 1139.6,1201 1134.1,1201.4 1128.8,1202.3 1123.4,1203.5 1118.1,1204.6 1112.7,1205.5 1107.1,1206 1102,1206.1 1096.6,1206 1091,1205.8 1085.4,1205.4 1079.9,1204.9 1074.8,1204.3 1070.2,1203.5 1064.8,1202.2 1060.3,1200.6 1055.9,1198.7 1051.1,1196.8 1045.5,1195 1040.8,1193.8 1035.8,1192.8 1030.5,1191.7 1025,1190.7 1019.5,1189.7 1014.1,1188.7 1008.7,1187.8 1008.5,1188.6 1013.7,1190.2 1019.1,1191.7 1024.5,1193.2 1029.8,1194.7 1035,1196.1 1039.8,1197.5 1044.3,1198.8 1049.7,1200.7 1054.3,1202.6 1058.7,1204.5 1063.6,1206.3 1069.4,1207.7 1074.2,1208.4 1079.5,1209.1 1085,1209.6 1090.8,1210 1096.5,1210.2 1102,1210.3 1107.3,1210.2 1113.2,1209.7 1118.9,1208.7 1124.3,1207.6 1129.6,1206.5 1134.7,1205.6 1139.6,1205.2 1144.5,1205.5 1149.5,1206.5 1154.5,1207.7 1159.6,1208.8 1164.8,1209.4 1169.9,1209 1175.7,1207.1 1181,1204.2 1186,1200.7 1190.8,1197.1 1195.7,1193.6 1199.9,1190.8 1204,1187.8 1208.2,1184.7 1212.3,1181.7 1216.4,1178.9 1220.5,1176.3 1225.4,1173.5 1230.3,1170.9 1235.3,1168.5 1240.2,1166.2 1245.2,1163.9 1250.2,1161.7 1255.4,1159.7 1260.5,1157.7 1265.5,1155.8 1270.1,1153.9 1274.7,1151.2 1277.9,1148.5 1281,1146.9 1286.6,1146.6 1290.6,1147.2 1295.5,1148.3 1301,1149.7 1306.9,1151.5 1313.1,1153.3 1319.3,1155.2 1325.5,1157 1331.4,1158.6Z"/>
<path d="M1158,1207.1 1170.6,1201.8 1170.3,1213Z"/>
<path d="M1305.6,1226.6 1302.6,1222.9 1299.5,1219.3 1295.1,1215.4 1291.4,1212.6 1287,1210 1282.2,1207.4 1277.3,1204.8 1272.6,1202.5 1268,1200.5 1263.4,1199 1258.7,1197.6 1254.1,1196.4 1249.4,1195.2 1249.2,1196 1253.4,1198.2 1257.8,1200.3 1262.1,1202.3 1266.4,1204.3 1270.8,1206.3 1275.4,1208.6 1280.2,1211.1 1284.9,1213.7 1289.2,1216.2 1293.1,1218.2 1297.8,1221.3 1301.4,1224.2 1305.2,1227Z"/>
<path d="M1265.5,1201.5 1279.2,1201.7 1274.4,1211.9Z"/>
<path d="M1576.1,1118 1570.6,1118.9 1565,1119.8 1559.4,1120.7 1553.9,1121.7 1548.3,1122.6 1542.7,1123.6 1537.2,1124.5 1531.6,1125.5 1526.1,1126.6 1520.7,1127.9 1515.2,1129.1 1509.7,1130.2 1504.2,1131.1 1498.5,1131.9 1493.3,1132.5 1488,1133 1482.7,1133.3 1477.2,1133.6 1471.8,1133.8 1466.4,1134 1461.2,1134 1456.1,1133.9 1450.5,1133.7 1445,1133.4 1439.7,1132.9 1434.4,1132.4 1429.2,1131.7 1424.1,1131 1419.1,1130.2 1413.5,1129.4 1408.3,1128.6 1403.3,1127.6 1398.2,1126.5 1392.9,1124.9 1387.1,1122.8 1382.3,1120.8 1377.1,1118.4 1371.7,1115.6 1366.1,1112.6 1360.5,1109.6 1355.1,1106.6 1349.9,1103.8 1345.2,1101.3 1339.4,1098.5 1334.1,1095.9 1329.1,1093.5 1324.4,1091.3 1319.8,1088.9 1315.3,1086.4 1310.8,1083.6 1306.2,1080.8 1301.8,1077.9 1297.6,1075 1293.9,1072.1 1290.8,1069.3 1287.1,1065 1284.3,1060.8 1282.4,1056.7 1281.1,1053 1281.3,1048.3 1283.1,1043.5 1284.8,1038.3 1284.2,1038.1 1281.4,1042.7 1278.8,1047.6 1277.9,1053.2 1278.8,1057.9 1281,1062.6 1284.1,1067.3 1288.2,1071.9 1291.5,1075 1295.4,1078 1299.7,1081 1304.2,1084 1308.8,1086.8 1313.5,1089.6 1318.1,1092.2 1322.7,1094.6 1327.5,1096.9 1332.4,1099.3 1337.7,1101.8 1343.4,1104.7 1348.2,1107.1 1353.3,1109.9 1358.7,1112.9 1364.3,1115.9 1369.9,1118.9 1375.4,1121.7 1380.7,1124.2 1385.7,1126.4 1391.7,1128.5 1397.3,1130.1 1402.5,1131.3 1407.7,1132.3 1412.9,1133.1 1418.5,1134 1423.6,1134.7 1428.7,1135.5 1434,1136.1 1439.3,1136.7 1444.8,1137.1 1450.4,1137.5 1456.1,1137.7 1461.2,1137.7 1466.5,1137.7 1471.9,1137.6 1477.4,1137.4 1482.9,1137.1 1488.3,1136.7 1493.7,1136.2 1498.9,1135.7 1504.7,1134.9 1510.4,1133.9 1516,1132.7 1521.5,1131.5 1526.9,1130.3 1532.4,1129 1537.8,1127.7 1543.3,1126.4 1548.8,1125.2 1554.3,1123.9 1559.8,1122.6 1565.3,1121.3 1570.8,1119.9 1576.3,1118.6Z"/>
<path d="M1380,1122.1 1393.7,1121.4 1389.6,1131.9Z"/>
<path d="M1602.1,1057.3 1596.5,1057.5 1591,1057.6 1585.5,1057.7 1580,1058 1574.2,1058.4 1568.3,1059.2 1563.1,1060.1 1557.8,1061.2 1552.4,1062.5 1546.9,1064 1541.5,1065.6 1536,1067.2 1530.7,1068.8 1525.3,1070.5 1519.9,1072.3 1514.6,1074.1 1509.2,1076 1503.9,1077.8 1498.6,1079.5 1493.2,1081.2 1487.9,1082.9 1482.6,1084.5 1477.4,1086.2 1472.2,1087.7 1466.9,1089.1 1461.6,1090.3 1456.3,1091.1 1450.6,1091.7 1444.7,1092.1 1438.7,1092.2 1432.7,1092.2 1426.9,1092 1421.6,1091.6 1416.9,1091.1 1410.1,1089.9 1404.7,1088.3 1399.9,1086.2 1394.9,1083.8 1389.7,1081.3 1384.6,1078.5 1379.9,1075.3 1375.4,1071.7 1372.1,1068.4 1368.7,1064.7 1365.7,1060.7 1363,1056.6 1361,1052.4 1359.6,1047.9 1358.5,1043.2 1358,1038.3 1358,1033.4 1358.6,1028.6 1359.9,1023.6 1361.9,1018.4 1364.4,1013.4 1367.3,1008.6 1370.6,1004.6 1374.2,1001.3 1378.6,998.3 1383.4,995.6 1388.4,992.9 1393.1,989.9 1392.7,989.3 1387.6,991.4 1382.4,993.5 1377.1,995.7 1372.2,998.4 1367.8,1002 1364.2,1006.5 1361.1,1011.5 1358.4,1017 1356.4,1022.5 1355,1027.8 1354.3,1033.1 1354.3,1038.5 1354.8,1043.8 1356,1048.9 1357.6,1053.8 1359.8,1058.4 1362.6,1062.9 1365.8,1067.1 1369.3,1071 1373,1074.5 1377.6,1078.4 1382.7,1081.7 1388,1084.6 1393.3,1087.2 1398.4,1089.6 1403.5,1091.8 1409.3,1093.6 1416.3,1094.9 1421.3,1095.4 1426.7,1095.7 1432.6,1095.9 1438.7,1096 1444.9,1095.8 1450.9,1095.5 1456.7,1094.9 1462.3,1094 1467.8,1092.8 1473.2,1091.3 1478.5,1089.8 1483.8,1088.1 1489.1,1086.4 1494.4,1084.8 1499.7,1083.1 1505.1,1081.3 1510.4,1079.5 1515.8,1077.6 1521.1,1075.8 1526.4,1074.1 1531.7,1072.4 1537.1,1070.8 1542.5,1069.2 1547.9,1067.6 1553.3,1066.1 1558.6,1064.6 1563.8,1063.2 1568.9,1062 1574.6,1061 1580.2,1060.2 1585.7,1059.6 1591.1,1059.1 1596.6,1058.5 1602.1,1057.9Z"/>
<path d="M1409.8,1092 1423,1088.3 1421.4,1099.4Z"/>
<path d="M1513.8,1040.5 1508,1039.4 1501.8,1038.5 1495.6,1037.6 1489.6,1036.8 1483.9,1036 1478.7,1035.2 1474.4,1034.1 1468.5,1031.8 1464.2,1029.1 1460.8,1025.9 1457.8,1022.2 1454.9,1018 1452.6,1013.4 1451,1008.5 1450.6,1003.4 1451.3,998.9 1452.9,994 1455,988.9 1457.6,983.9 1460.3,979.3 1463.1,975 1466.3,970.9 1469.8,966.9 1473.3,962.8 1476.6,958.6 1476.2,958.2 1472.2,961.8 1468.3,965.4 1464.4,969.2 1460.7,973.2 1457.5,977.5 1454.7,982.4 1452.1,987.6 1449.8,992.9 1448.1,998.2 1447.4,1003.2 1447.8,1009.1 1449.5,1014.6 1452.1,1019.7 1455.2,1024.2 1458.4,1028.1 1462.2,1031.7 1467,1034.7 1473.4,1037.3 1478.1,1038.4 1483.4,1039.3 1489.3,1040 1495.4,1040.3 1501.7,1040.5 1507.8,1040.7 1513.8,1040.9Z"/>
<path d="M1449.2,996.4 1454.4,1009.1 1443.2,1008.7Z"/>
<path d="M1596.8,1022.5 1592.7,1024.3 1588.9,1026.1 1584,1026.4 1580,1025.6 1575.1,1024.3 1569.7,1022.7 1564.3,1020.7 1559,1018.5 1554.6,1016.4 1550.1,1014.1 1545.7,1011.5 1541.3,1008.8 1537.2,1006 1533.5,1003.2 1529.4,999.8 1525.7,996.1 1522.3,992.4 1519.4,988.8 1517.1,985.6 1514.4,981.1 1513.2,977.4 1513.2,973.6 1514,969.9 1516.2,965.9 1520.4,959.4 1522.6,956.1 1525.3,952.2 1528.2,948 1531.5,943.4 1534.8,938.7 1538.3,934 1541.8,929.2 1545.2,924.6 1548.4,920 1551.8,915.3 1555.3,910.5 1558.8,905.7 1562.3,900.9 1565.8,896 1569.2,891.2 1572.6,886.3 1572,885.9 1568.2,890.4 1564.4,895 1560.6,899.6 1556.8,904.2 1553,908.8 1549.4,913.4 1545.7,917.9 1542.2,922.4 1538.8,927 1535.3,931.8 1531.8,936.5 1528.4,941.3 1525.2,945.8 1522.2,950.1 1519.5,954 1517.2,957.4 1513,964 1510.5,968.6 1509.4,973.2 1509.5,978.1 1511,982.7 1513.9,987.6 1516.4,991.1 1519.5,994.8 1523,998.7 1526.9,1002.6 1531.1,1006.2 1535,1009.1 1539.2,1011.9 1543.7,1014.7 1548.3,1017.4 1552.9,1019.8 1557.4,1021.9 1562.9,1024.2 1568.6,1026.2 1574.1,1027.9 1579.3,1029.1 1584,1029.4 1589.6,1028.2 1593.5,1025.6 1597,1022.9Z"/>
<path d="M1514.8,962.9 1515.5,976.5 1505,972.5Z"/>
<path d="M1669.2,1000.6 1663.6,998.9 1657.9,997.4 1652.3,995.9 1646.7,994.3 1641.3,992.7 1635.8,991 1630.3,989.2 1625,987.2 1620.1,985 1615.9,982.6 1611.4,979.3 1607.7,975.8 1604.6,971.9 1602.3,967.8 1600.7,963.2 1599.9,958.1 1599.7,952.9 1599.8,947.9 1600.4,943.4 1601.5,939.1 1603,934.8 1604.9,930.5 1607.1,926 1609.8,921.4 1612.6,916.7 1615.3,911.9 1614.7,911.5 1611.3,915.8 1607.8,920.1 1604.6,924.5 1601.9,929.1 1599.9,933.6 1598.3,938.2 1597.2,942.8 1596.6,947.7 1596.4,952.9 1596.7,958.5 1597.6,964 1599.3,969.2 1601.9,973.8 1605.2,978 1609.3,981.9 1614.1,985.4 1618.6,987.9 1623.7,990.2 1629.2,992.3 1634.8,994.1 1640.3,995.9 1645.9,997.4 1651.7,998.5 1657.5,999.4 1663.3,1000.2 1669.2,1001Z"/>
<path d="M1598.7,940.9 1603.3,953.8 1592.2,953Z"/>
<path d="M1697.6,1121.9 1692.4,1122.6 1687,1123.4 1681.7,1124.1 1676.4,1125 1671.2,1125.9 1666.2,1127.1 1660.8,1128.6 1655.8,1130.3 1651,1132.2 1645.9,1134.4 1639.9,1137.1 1635.7,1139 1631.1,1141.3 1626.3,1143.7 1621.3,1146.2 1616.3,1148.7 1611.2,1151.1 1606.2,1153.3 1601.4,1155.1 1595.9,1156.9 1590.5,1158.5 1585,1159.9 1579.5,1161.1 1574,1162.2 1568.5,1163.1 1563,1164 1557.7,1164.7 1552.5,1165.3 1547.5,1165.7 1542.3,1165.9 1536.8,1166.2 1531,1166.4 1524.5,1166.6 1519.5,1166.8 1514.1,1167 1508.4,1167.2 1502.5,1167.4 1496.5,1167.5 1490.5,1167.7 1484.6,1167.7 1478.9,1167.7 1473.6,1167.6 1468.8,1167.4 1462.5,1166.8 1456.8,1165.9 1451.5,1164.8 1446.4,1163.6 1441.4,1162.5 1436.4,1161.6 1431.3,1161.1 1425.3,1161.1 1419.3,1161.5 1413.5,1162.2 1408.1,1163 1403.1,1163.8 1398.9,1164.1 1392.1,1163.7 1386.9,1162.6 1381.5,1161.6 1381.3,1162.4 1386.4,1164.3 1391.7,1166.1 1398.7,1167.3 1403.4,1167.3 1408.5,1167 1414,1166.4 1419.7,1165.7 1425.4,1165.3 1431.1,1165.3 1435.8,1165.8 1440.6,1166.6 1445.4,1167.7 1450.6,1168.9 1456,1170 1462,1171 1468.4,1171.6 1473.5,1171.8 1478.9,1171.9 1484.6,1171.9 1490.5,1171.9 1496.6,1171.8 1502.6,1171.6 1508.6,1171.4 1514.3,1171.2 1519.7,1171 1524.7,1170.8 1531.1,1170.6 1537,1170.4 1542.5,1170.2 1547.8,1169.9 1552.9,1169.5 1558.2,1168.9 1563.6,1168.2 1569.2,1167.3 1574.8,1166.3 1580.4,1165.2 1586,1164 1591.6,1162.6 1597.2,1160.9 1602.8,1159.1 1607.8,1157.2 1613,1155 1618.1,1152.5 1623.2,1150 1628.2,1147.5 1633,1145.1 1637.5,1142.9 1641.7,1140.9 1647.6,1138.3 1652.7,1136.1 1657.3,1134.1 1662,1132.2 1667.2,1130.3 1671.9,1128.9 1676.9,1127.5 1682.1,1126.3 1687.3,1125.1 1692.6,1123.8 1697.8,1122.5Z"/>
<path d="M1517.7,1168.9 1530,1162.9 1530.4,1174.1Z"/>
<path d="M856.7,1245.3 852.4,1243.2 848,1241.3 843.7,1239.5 839.3,1237.5 834.8,1235.3 830.3,1232.9 825.8,1230.4 821.1,1227.8 815.8,1225.2 809.9,1222.6 805.1,1220.8 800,1219 794.6,1217.3 789,1215.5 783.4,1213.8 777.9,1211.9 772.4,1210 767.1,1208 761.8,1205.8 756.4,1203.5 751,1201.2 745.7,1199 740.4,1197 735.1,1195.1 729,1193.2 722.9,1191.4 716.9,1189.8 711,1188.4 705.3,1187.2 699.8,1186.3 693.9,1185.7 688.5,1185.6 683.4,1185.7 678,1186 672,1186.3 667.2,1186.5 662.1,1186.7 656.7,1186.9 651.2,1187.2 645.6,1187.6 640,1188.1 634.5,1188.8 629.1,1189.7 623.8,1190.7 618.4,1191.8 613,1193.1 607.6,1194.5 602.2,1196 596.8,1197.6 591.3,1199.5 585.5,1201.7 579.7,1204 574,1206.4 568.6,1208.7 563.7,1210.8 559.4,1212.7 553.5,1215.4 548.9,1217.4 545,1219.1 540.8,1221.2 541,1221.8 545.5,1220.6 549.7,1219.4 554.4,1217.9 560.6,1215.9 565.1,1214.3 570.1,1212.2 575.5,1209.9 581.1,1207.5 586.9,1205.2 592.5,1203 598,1201.2 603.3,1199.6 608.6,1198.1 613.9,1196.7 619.2,1195.5 624.5,1194.4 629.8,1193.4 635.1,1192.6 640.4,1191.9 645.9,1191.3 651.4,1190.9 656.9,1190.6 662.2,1190.4 667.4,1190.2 672.2,1190.1 678.2,1189.8 683.5,1189.5 688.5,1189.3 693.7,1189.5 699.4,1190.1 704.6,1190.9 710.2,1192.1 716,1193.4 721.9,1195 727.9,1196.8 733.9,1198.7 739.1,1200.5 744.3,1202.5 749.6,1204.7 754.9,1207 760.3,1209.3 765.8,1211.5 771.2,1213.6 776.6,1215.5 782.3,1217.3 787.9,1219.1 793.5,1220.9 798.8,1222.6 803.9,1224.3 808.5,1226 814.2,1228.6 819.3,1231.1 824,1233.7 828.6,1236.2 833.4,1238.3 838.2,1240.1 842.9,1241.6 847.4,1243.1 851.9,1244.4 856.5,1245.7Z"/>
<path d="M686.9,1187.1 699.8,1182.4 699,1193.6Z"/>
<path d="M704.6,1237.8 699.9,1235.3 695.1,1232.9 690,1230.6 686.1,1229 682,1227.4 677.4,1226.2 672.4,1225.2 667.8,1224.5 662.8,1224 657.6,1223.7 652.3,1223.6 647,1223.9 641.9,1224.7 636.9,1226.1 631.9,1227.8 627.1,1229.6 622.2,1231.5 622.4,1232.1 627.5,1231.2 632.6,1230 637.6,1228.9 642.5,1227.9 647.4,1227.1 652.3,1226.9 657.4,1226.9 662.5,1227.3 667.4,1227.8 671.8,1228.4 676.7,1229.4 681,1230.6 685.1,1231.7 689.2,1233 694.4,1234.7 699.4,1236.5 704.4,1238.2Z"/>
<path d="M640.4,1226.2 652.2,1219.3 653.4,1230.5Z"/>
<path d="M712.1,1138.1 706.7,1135.7 701.3,1133.4 695.9,1131.1 690.5,1128.9 685.1,1126.9 679.6,1124.9 673.9,1122.9 668.2,1121.1 662.6,1119.8 657.2,1119.3 650.9,1120.2 645.2,1122.5 639.9,1125.3 634.7,1128 634.9,1128.6 640.6,1126.9 646.1,1124.8 651.6,1123.2 657.2,1122.5 662.1,1123 667.4,1124.3 672.9,1126 678.5,1128 684.1,1129.7 689.7,1131.3 695.2,1133.1 700.7,1134.9 706.3,1136.8 711.9,1138.5Z"/>
<path d="M650.3,1121.1 662.7,1115.1 663,1126.3Z"/>
</g>
</g>
<g stroke="#000" stroke-width="2.5" stroke-linecap="butt">
<line x1="1310.5" y1="686" x2="1535.3" y2="356.8"/>
<line x1="1310.5" y1="686" x2="1722" y2="603"/>
<line x1="1310.5" y1="686" x2="1675.5" y2="897.5"/>
<line x1="1310.5" y1="686" x2="1395.8" y2="1059.5"/>
<line x1="1310.5" y1="686" x2="1078.7" y2="999.5"/>
<line x1="1310.5" y1="686" x2="901.4" y2="766.5"/>
<line x1="1310.5" y1="686" x2="952" y2="489.9"/>
<line x1="1310.5" y1="686" x2="1207.7" y2="318.1"/>
</g>
<ellipse cx="1317.6" cy="684.0" rx="385.6" ry="345.4" fill="none" stroke="#111" stroke-width="5.6"/>
<ellipse cx="1317.6" cy="684.0" rx="385.6" ry="345.4" fill="none" stroke="#00f0f4" stroke-width="3.4"/>
<path d="M1301.5,686L1308.5,684L1310.5,677L1312.5,684L1319.5,686L1312.5,688L1310.5,695L1308.5,688Z" fill="#00e8f0"/>
<path d="M772.5,327.6 784.4,336.5 775.5,348.4 763.6,339.5Z" fill="#ffee00" stroke="#000" stroke-width="1.4"/>
<path d="M814.9,685 825.4,695.5 814.9,706 804.4,695.5Z" fill="#ffee00" stroke="#000" stroke-width="1.4"/>
<path d="M569.9,765.7 582,774.2 573.5,786.3 561.4,777.8Z" fill="#ffee00" stroke="#000" stroke-width="1.4"/>
<path d="M1150.8,788.4 1160.4,799.8 1149,809.4 1139.4,798Z" fill="#ffee00" stroke="#000" stroke-width="1.4"/>
<path d="M1353.2,629.2 1361.3,641.7 1348.8,649.8 1340.7,637.3Z" fill="#ffee00" stroke="#000" stroke-width="1.4"/>
<path d="M1331.5,714.3 1340,726.4 1327.9,734.9 1319.4,722.8Z" fill="#ffee00" stroke="#000" stroke-width="1.4"/>
<path d="M994.6,310.6 995.9,317.2 1002.4,318.7 996.5,321.9 997.2,328.5 992.3,323.9 986.2,326.6 989,320.6 984.6,315.5 991.3,316.4Z" fill="#fff" stroke="#222" stroke-width="0.9"/>
<path d="M727.6,394.6 728.9,401.2 735.4,402.7 729.5,405.9 730.2,412.5 725.3,407.9 719.2,410.6 722,404.6 717.6,399.5 724.3,400.4Z" fill="#fff" stroke="#222" stroke-width="0.9"/>
<path d="M633.1,451.3 634.4,457.9 640.9,459.4 635,462.6 635.7,469.2 630.8,464.6 624.7,467.3 627.5,461.3 623.1,456.2 629.8,457.1Z" fill="#fff" stroke="#222" stroke-width="0.9"/>
<path d="M846.9,481.2 848.2,487.8 854.7,489.3 848.8,492.5 849.5,499.1 844.6,494.5 838.5,497.2 841.3,491.2 836.9,486.1 843.6,487Z" fill="#fff" stroke="#222" stroke-width="0.9"/>
<path d="M497.3,611.3 498.6,617.9 505.1,619.4 499.2,622.6 499.9,629.2 495,624.6 488.9,627.3 491.7,621.3 487.3,616.2 494,617.1Z" fill="#fff" stroke="#222" stroke-width="0.9"/>
<path d="M1238.2,582.1 1239.5,588.7 1246,590.2 1240.1,593.4 1240.8,600 1235.9,595.4 1229.8,598.1 1232.6,592.1 1228.2,587 1234.9,587.9Z" fill="#fff" stroke="#222" stroke-width="0.9"/>
<path d="M1460.2,533.6 1461.5,540.2 1468,541.7 1462.1,544.9 1462.8,551.5 1457.9,546.9 1451.8,549.6 1454.6,543.6 1450.2,538.5 1456.9,539.4Z" fill="#fff" stroke="#222" stroke-width="0.9"/>
<path d="M1452.2,317.7 1453.3,325 1460.4,326.9 1453.8,330.2 1454.3,337.6 1449.1,332.3 1442.2,335 1445.6,328.5 1440.9,322.8 1448.2,324Z" fill="#fff" stroke="#222" stroke-width="1"/>
<rect x="1746.6" y="392.6" width="28" height="588" fill="#fff" stroke="#8a8a8a" stroke-width="1"/>
<rect x="1750" y="395.8" width="23.6" height="582.6" fill="url(#cbg)"/>
<path d="M1774.2,392.6V980.6H1746.6" fill="none" stroke="#555" stroke-width="1.2"/>
<text x="308.5" y="104.7" font-family="Liberation Sans, Arial, Helvetica, sans-serif" font-weight="bold" font-size="59.5" textLength="1308" lengthAdjust="spacingAndGlyphs">Temperature (K), 500 hPa, 2025-11-12T00, Wed.</text>
<text x="1795" y="405" font-family="Liberation Sans, Arial, Helvetica, sans-serif" font-weight="bold" font-size="32" textLength="56" lengthAdjust="spacingAndGlyphs">285</text>
<text x="1795" y="991" font-family="Liberation Sans, Arial, Helvetica, sans-serif" font-weight="bold" font-size="32" textLength="56" lengthAdjust="spacingAndGlyphs">230</text>
<text x="1623.5" y="1303.3" font-family="Liberation Sans, Arial, Helvetica, sans-serif" font-weight="bold" font-size="45" textLength="192" lengthAdjust="spacingAndGlyphs">Analysis</text>
<text x="9.6" y="1387.4" font-family="Liberation Sans, Arial, Helvetica, sans-serif" font-weight="bold" font-size="21.5" textLength="271.5" lengthAdjust="spacingAndGlyphs">Fri Nov 14 18:30:24 2025</text>
<text x="1394.8" y="1386.6" font-family="Liberation Sans, Arial, Helvetica, sans-serif" font-weight="bold" font-size="20.5" textLength="517" lengthAdjust="spacingAndGlyphs">Paul A. Newman &amp; Leslie R. Lait (NASA/GSFC)</text>
<rect x="200" y="1249" width="304" height="91.8" fill="#fff" stroke="#8a3030" stroke-width="1.2"/>
<text x="351.4" y="1271.7" font-family="Liberation Sans, Arial, Helvetica, sans-serif" font-weight="bold" font-size="19" text-anchor="middle">m/s</text>
<text x="238.8" y="1294.8" font-family="Liberation Sans, Arial, Helvetica, sans-serif" font-weight="bold" font-size="18.5" fill="#680400" text-anchor="middle">0.2</text>
<text x="293.8" y="1294.8" font-family="Liberation Sans, Arial, Helvetica, sans-serif" font-weight="bold" font-size="18.5" fill="#680400" text-anchor="middle">30.4</text>
<text x="351.4" y="1294.8" font-family="Liberation Sans, Arial, Helvetica, sans-serif" font-weight="bold" font-size="18.5" fill="#680400" text-anchor="middle">60.7</text>
<text x="409.3" y="1294.8" font-family="Liberation Sans, Arial, Helvetica, sans-serif" font-weight="bold" font-size="18.5" fill="#680400" text-anchor="middle">30.4</text>
<text x="470.2" y="1294.8" font-family="Liberation Sans, Arial, Helvetica, sans-serif" font-weight="bold" font-size="18.5" fill="#680400" text-anchor="middle">0.2</text>
<g fill="#680400" stroke="none">
<rect x="207" y="1316.9" width="289" height="1.2"/>
<rect x="265.4" y="1313.0" width="173.4" height="9"/>
<rect x="322.3" y="1309.2" width="58.4" height="16.6"/>
<path d="M231.1,1311.1L242.5,1317.5L231.1,1323.9Z"/>
<path d="M462.4,1311.1L472.9,1317.5L462.4,1323.9Z"/>
<path d="M290.2,1308.7L301.6,1317.5L290.2,1326.3Z"/>
<path d="M405.6,1308.7L416.6,1317.5L405.6,1326.3Z"/>
<path d="M344.2,1300.8L361.5,1317.5L344.2,1334.2Z"/>
</g>
</svg>
</body></html>
